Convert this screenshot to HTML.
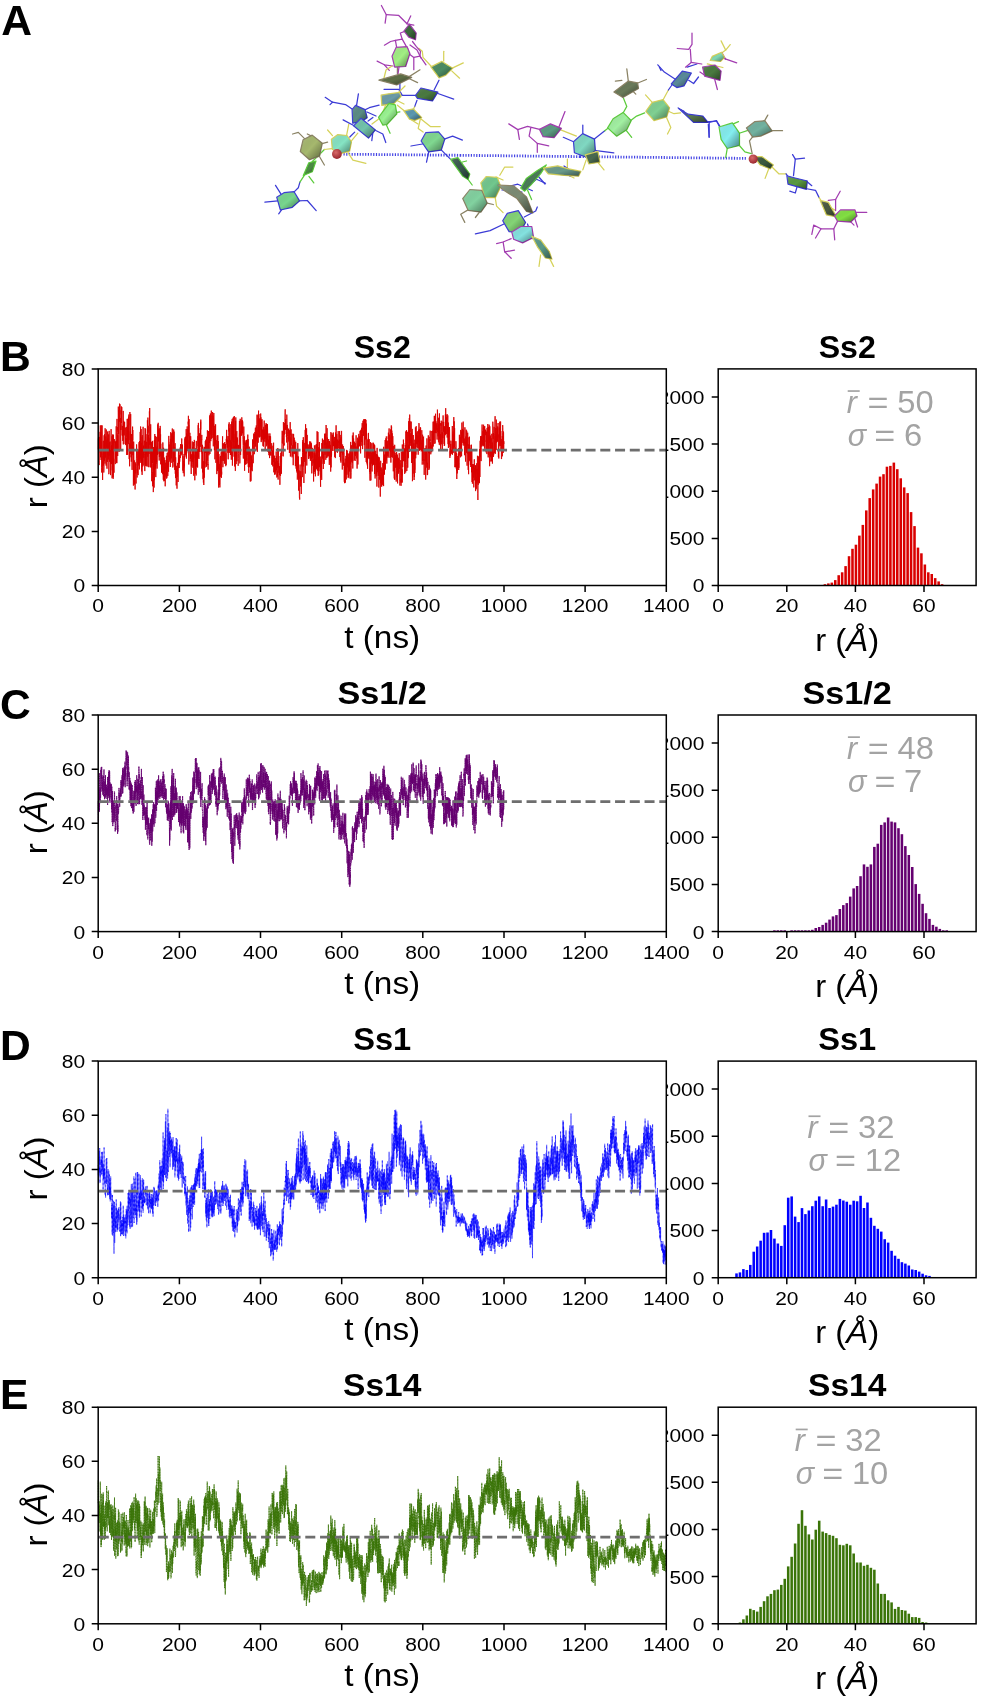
<!DOCTYPE html>
<html><head><meta charset="utf-8"><title>Figure</title>
<style>html,body{margin:0;padding:0;background:#fff;}svg{display:block;will-change:transform;}</style></head>
<body><svg width="982" height="1697" viewBox="0 0 982 1697">
<rect width="982" height="1697" fill="#fff"/>
<defs><linearGradient id="shd" x1="0" y1="0" x2="1" y2="1"><stop offset="0" stop-color="#fff" stop-opacity="0.18"/><stop offset="0.5" stop-color="#000" stop-opacity="0"/><stop offset="1" stop-color="#000" stop-opacity="0.45"/></linearGradient><radialGradient id="rb" cx="0.4" cy="0.35" r="0.65"><stop offset="0" stop-color="#d86a6a"/><stop offset="1" stop-color="#9a2830"/></radialGradient></defs>
<g id="mol">
<path d="M343.5 154.2L460.0 155.3" stroke="#4444e4" stroke-width="2.8" stroke-dasharray="1.2 1.5" fill="none"/>
<path d="M460.0 155.3L580.0 156.6" stroke="#4444e4" stroke-width="2.8" stroke-dasharray="1.2 1.5" fill="none"/>
<path d="M580.0 156.6L747.0 158.4" stroke="#4444e4" stroke-width="2.8" stroke-dasharray="1.2 1.5" fill="none"/>
<g stroke-width="1.25" stroke-linecap="round" stroke-linejoin="round" fill="none">
<polyline points="264.9,202.1 277.9,200.8" stroke="#3b3bd6"/>
<polyline points="275.5,185.3 281.2,194.3" stroke="#3b3bd6"/>
<polyline points="278.7,213.8 282.8,208.1" stroke="#3b3bd6"/>
<polyline points="298.3,200.8 307.3,200.5 316.2,210.6" stroke="#3b3bd6"/>
<polyline points="293.4,192.6 298.3,187.8 299.9,182.1" stroke="#3b3bd6"/>
<polyline points="299.9,182.1 304.8,174.7" stroke="#5ccc3c"/>
<polyline points="308.9,176.4 313.8,182.9" stroke="#5ccc3c"/>
<polyline points="312.1,161.7 318.7,155.2 324.4,149.5" stroke="#5ccc3c"/>
<polyline points="292.6,134.0 298.3,132.4 304.8,138.9" stroke="#8a8264"/>
<polyline points="307.3,134.0 312.1,136.4" stroke="#8a8264"/>
<polyline points="321.1,143.8 327.6,142.1" stroke="#8a8264"/>
<polyline points="318.7,155.2 324.4,165.0" stroke="#8a8264"/>
<polyline points="327.6,130.0 332.5,135.6" stroke="#d6d25a"/>
<polyline points="346.4,136.4 348.8,124.2" stroke="#d6d25a"/>
<polyline points="350.4,142.1 357.8,133.2" stroke="#d6d25a"/>
<polyline points="348.0,152.7 352.9,160.1 365.9,163.3" stroke="#d6d25a"/>
<polyline points="331.7,148.7 324.4,149.5" stroke="#d6d25a"/>
<polyline points="325.2,97.3 332.5,102.2 345.5,104.6 352.8,109.5" stroke="#3b3bd6"/>
<polyline points="330.0,104.6 332.5,102.2" stroke="#3b3bd6"/>
<polyline points="358.4,93.9 356.5,105.8" stroke="#3b3bd6"/>
<polyline points="364.4,110.1 369.3,107.7 379.1,105.2" stroke="#3b3bd6"/>
<polyline points="343.1,119.9 354.7,126.0" stroke="#3b3bd6"/>
<polyline points="357.1,111.3 361.4,118.7" stroke="#3b3bd6"/>
<polyline points="374.2,129.7 382.8,134.0 385.8,142.5" stroke="#3b3bd6"/>
<polyline points="372.9,132.1 371.8,140.7" stroke="#3b3bd6"/>
<polyline points="368.1,121.1 372.9,117.4" stroke="#3b3bd6"/>
<polyline points="354.7,132.1 349.8,137.0" stroke="#3b3bd6"/>
<polyline points="385.2,122.3 390.1,133.3" stroke="#5ccc3c"/>
<polyline points="395.0,112.6 399.9,111.9" stroke="#5ccc3c"/>
<polyline points="401.1,95.4 392.6,103.4" stroke="#5ccc3c"/>
<polyline points="408.4,77.1 420.0,69.8" stroke="#8a8264"/>
<polyline points="408.4,78.3 417.6,82.6" stroke="#8a8264"/>
<polyline points="397.4,73.5 397.4,62.4" stroke="#8a8264"/>
<polyline points="436.5,93.0 453.7,99.1" stroke="#3b3bd6"/>
<polyline points="434.1,90.0 439.0,80.2" stroke="#3b3bd6"/>
<polyline points="417.0,95.4 402.3,95.4 398.7,89.3 384.0,89.3" stroke="#3b3bd6"/>
<polyline points="417.0,100.3 414.5,107.1" stroke="#3b3bd6"/>
<polyline points="399.9,90.6 399.9,79.0" stroke="#3b3bd6"/>
<polyline points="414.5,107.1 413.3,109.5" stroke="#d6d25a"/>
<polyline points="420.7,117.4 418.2,128.4 423.1,132.1" stroke="#d6d25a"/>
<polyline points="420.7,118.7 430.4,126.6 440.2,126.6" stroke="#d6d25a"/>
<polyline points="397.4,105.2 404.8,111.3" stroke="#d6d25a"/>
<polyline points="443.7,51.3 443.7,61.1" stroke="#d6d25a"/>
<polyline points="451.7,68.4 463.3,62.9" stroke="#d6d25a"/>
<polyline points="451.7,70.9 459.6,78.2" stroke="#d6d25a"/>
<polyline points="418.7,48.3 422.3,51.3 423.0,57.4 432.1,67.2" stroke="#d6d25a"/>
<polyline points="381.4,5.5 386.3,14.7 385.1,23.2" stroke="#a23cb0"/>
<polyline points="386.3,14.7 398.5,15.3 407.0,23.8 410.7,15.9" stroke="#a23cb0"/>
<polyline points="407.0,23.8 413.8,25.1" stroke="#a23cb0"/>
<polyline points="384.4,45.2 390.6,41.5 395.4,40.3 402.2,39.1 407.7,48.9" stroke="#a23cb0"/>
<polyline points="395.4,40.3 396.7,47.7" stroke="#a23cb0"/>
<polyline points="402.2,39.1 400.3,33.0 407.0,30.6" stroke="#a23cb0"/>
<polyline points="408.9,53.8 413.8,57.4 419.9,56.2 420.5,51.3 416.2,46.4 412.5,41.5" stroke="#a23cb0"/>
<polyline points="419.9,56.2 426.0,64.8" stroke="#a23cb0"/>
<polyline points="413.8,57.4 413.8,69.7" stroke="#a23cb0"/>
<polyline points="377.1,61.1 384.4,64.8 393.0,66.0" stroke="#a23cb0"/>
<polyline points="384.4,64.8 389.3,70.3" stroke="#a23cb0"/>
<polyline points="397.3,53.2 405.8,50.1" stroke="#a23cb0"/>
<polyline points="392.0,96.0 398.0,101.0 404.0,104.0" stroke="#d6d25a"/>
<polyline points="386.0,104.0 383.0,112.0" stroke="#d6d25a"/>
<polyline points="399.0,92.0 405.0,86.0" stroke="#d6d25a"/>
<polyline points="410.0,119.0 418.0,124.0" stroke="#d6d25a"/>
<polyline points="410.0,45.0 417.0,50.0 421.0,58.0" stroke="#a23cb0"/>
<polyline points="399.0,67.0 398.0,74.0" stroke="#a23cb0"/>
<polyline points="384.0,78.0 386.0,70.0 392.0,66.0" stroke="#d6d25a"/>
<polyline points="367.0,112.0 376.0,116.0" stroke="#3b3bd6"/>
<polyline points="372.0,124.0 380.0,118.0" stroke="#d6d25a"/>
<polyline points="443.6,139.3 452.6,136.1 462.4,140.1" stroke="#3b3bd6"/>
<polyline points="429.0,150.7 426.5,162.1" stroke="#3b3bd6"/>
<polyline points="411.0,146.0 422.4,144.0" stroke="#3b3bd6"/>
<polyline points="440.4,149.1 450.2,158.9" stroke="#3b3bd6"/>
<polyline points="462.4,162.0 466.5,161.0" stroke="#5ccc3c"/>
<polyline points="467.3,178.4 472.2,185.0" stroke="#5ccc3c"/>
<polyline points="499.8,175.2 504.7,167.0 512.9,167.0" stroke="#d6d25a"/>
<polyline points="495.0,196.4 496.6,206.1 503.1,212.6" stroke="#d6d25a"/>
<polyline points="468.9,209.4 460.7,214.3 464.8,222.4" stroke="#8a8264"/>
<polyline points="480.3,211.0 475.4,217.5" stroke="#8a8264"/>
<polyline points="486.0,202.9 493.3,204.5" stroke="#8a8264"/>
<polyline points="501.4,188.2 517.8,184.2 532.4,190.7" stroke="#3b3bd6"/>
<polyline points="527.5,186.6 536.5,179.3 545.5,183.3" stroke="#3b3bd6"/>
<polyline points="527.5,190.0 531.6,199.6" stroke="#5ccc3c"/>
<polyline points="567.4,159.0 567.4,172.0" stroke="#d6d25a"/>
<polyline points="566.0,174.0 574.0,178.0" stroke="#d6d25a"/>
<polyline points="503.9,224.0 490.1,230.6 475.4,233.8" stroke="#3b3bd6"/>
<polyline points="524.3,217.0 535.7,211.0 537.3,207.0" stroke="#3b3bd6"/>
<polyline points="527.5,224.0 532.4,238.7" stroke="#3b3bd6"/>
<polyline points="511.2,238.7 503.1,242.0 496.6,243.6" stroke="#a23cb0"/>
<polyline points="503.1,242.0 504.7,251.8 511.2,258.3" stroke="#a23cb0"/>
<polyline points="504.7,251.8 514.5,250.2" stroke="#a23cb0"/>
<polyline points="547.1,253.4 553.6,266.4" stroke="#d6d25a"/>
<polyline points="540.6,255.0 539.0,266.4" stroke="#d6d25a"/>
<polyline points="530.0,234.0 536.0,240.0" stroke="#d6d25a"/>
<polyline points="508.8,123.9 517.8,129.6 527.5,126.3 540.6,129.6" stroke="#a23cb0"/>
<polyline points="517.8,129.6 519.4,139.3" stroke="#a23cb0"/>
<polyline points="530.8,127.9 529.1,136.1 537.3,143.4 548.7,145.8" stroke="#a23cb0"/>
<polyline points="537.3,143.4 537.3,152.3" stroke="#a23cb0"/>
<polyline points="558.5,127.9 565.0,111.6" stroke="#a23cb0"/>
<polyline points="560.1,129.6 576.4,136.1" stroke="#d6d25a"/>
<polyline points="502.0,190.0 512.0,190.5 522.0,192.0" stroke="#3b3bd6"/>
<polyline points="524.0,189.0 531.0,182.0 537.0,176.0" stroke="#3b3bd6"/>
<polyline points="538.0,176.0 545.0,184.0" stroke="#3b3bd6"/>
<polyline points="550.0,170.0 556.0,172.0 566.0,171.0" stroke="#d6d25a"/>
<polyline points="564.0,166.0 570.0,170.0 578.0,174.0" stroke="#3b3bd6"/>
<polyline points="496.0,177.0 503.0,180.0" stroke="#d6d25a"/>
<polyline points="486.0,186.0 493.0,184.0" stroke="#8a8264"/>
<polyline points="582.8,134.9 582.8,125.1" stroke="#3b3bd6"/>
<polyline points="574.7,142.2 563.3,137.3" stroke="#3b3bd6"/>
<polyline points="593.4,139.8 604.8,130.8" stroke="#3b3bd6"/>
<polyline points="594.2,150.3 613.8,152.8" stroke="#3b3bd6"/>
<polyline points="597.5,161.8 604.0,169.9" stroke="#d6d25a"/>
<polyline points="586.1,160.1 582.8,169.9" stroke="#d6d25a"/>
<polyline points="560.0,172.0 570.0,176.0 580.0,172.0" stroke="#3b3bd6"/>
<polyline points="604.8,130.8 608.9,127.5" stroke="#5ccc3c"/>
<polyline points="630.1,121.0 636.6,116.1 644.7,112.9" stroke="#5ccc3c"/>
<polyline points="622.7,113.7 626.8,106.4 623.5,98.2" stroke="#5ccc3c"/>
<polyline points="625.2,129.2 631.7,137.3" stroke="#5ccc3c"/>
<polyline points="615.4,81.1 621.9,80.3" stroke="#8a8264"/>
<polyline points="628.4,81.9 626.8,68.9" stroke="#8a8264"/>
<polyline points="636.6,83.5 646.4,79.5" stroke="#8a8264"/>
<polyline points="631.7,90.0 635.8,94.1" stroke="#8a8264"/>
<polyline points="652.9,103.1 645.5,94.9" stroke="#d6d25a"/>
<polyline points="662.6,100.7 668.4,90.0" stroke="#d6d25a"/>
<polyline points="668.4,111.2 674.0,113.7 680.6,112.9" stroke="#d6d25a"/>
<polyline points="665.9,116.1 670.8,127.5 667.5,134.0" stroke="#d6d25a"/>
<polyline points="668.4,90.0 674.0,82.0" stroke="#3b3bd6"/>
<polyline points="675.7,79.5 664.3,72.1 657.8,64.8" stroke="#3b3bd6"/>
<polyline points="661.0,70.5 659.4,67.2" stroke="#3b3bd6"/>
<polyline points="688.7,80.3 693.6,83.5 698.5,77.0" stroke="#3b3bd6"/>
<polyline points="687.1,67.2 696.9,64.0" stroke="#3b3bd6"/>
<polyline points="692.0,33.0 692.0,44.4 688.7,49.3 677.3,48.5" stroke="#a23cb0"/>
<polyline points="690.3,49.3 691.2,62.4 701.8,64.0" stroke="#a23cb0"/>
<polyline points="691.2,62.4 685.5,67.2" stroke="#a23cb0"/>
<polyline points="721.1,40.9 725.7,50.1 730.2,44.6" stroke="#d6d25a"/>
<polyline points="725.7,50.1 722.0,52.8" stroke="#d6d25a"/>
<polyline points="707.3,63.8 722.9,67.5" stroke="#d6d25a"/>
<polyline points="723.8,58.3 736.7,62.9" stroke="#a23cb0"/>
<polyline points="722.0,52.8 725.7,59.2" stroke="#a23cb0"/>
<polyline points="714.7,79.4 717.4,89.5" stroke="#a23cb0"/>
<polyline points="700.0,72.0 705.5,75.7" stroke="#a23cb0"/>
<polyline points="706.6,121.8 716.4,121.0 719.7,125.9" stroke="#3b3bd6"/>
<polyline points="708.3,124.3 709.1,137.3" stroke="#3b3bd6"/>
<polyline points="679.0,108.8 684.0,111.2" stroke="#3b3bd6"/>
<polyline points="732.1,124.3 738.5,121.6" stroke="#5ccc3c"/>
<polyline points="738.5,133.5 749.5,129.8" stroke="#5ccc3c"/>
<polyline points="727.5,147.2 725.7,157.3" stroke="#5ccc3c"/>
<polyline points="738.5,144.5 744.9,151.8 751.3,153.6" stroke="#5ccc3c"/>
<polyline points="720.2,128.0 716.5,120.6 709.2,122.5 700.0,118.8" stroke="#3b3bd6"/>
<polyline points="709.2,122.5 709.2,137.1" stroke="#3b3bd6"/>
<polyline points="764.1,121.6 767.8,115.1" stroke="#8a8264"/>
<polyline points="770.6,130.7 782.5,130.7" stroke="#8a8264"/>
<polyline points="753.2,136.2 749.5,140.8 752.2,153.6" stroke="#8a8264"/>
<polyline points="755.0,157.3 771.5,166.5 778.8,173.8 786.1,173.8" stroke="#d6d25a"/>
<polyline points="769.6,166.5 765.1,178.4" stroke="#d6d25a"/>
<polyline points="786.1,173.8 788.0,176.5" stroke="#3b3bd6"/>
<polyline points="793.5,175.6 795.3,159.1 792.6,154.6" stroke="#3b3bd6"/>
<polyline points="795.3,159.1 804.5,158.2" stroke="#3b3bd6"/>
<polyline points="806.3,181.1 811.8,185.7" stroke="#3b3bd6"/>
<polyline points="805.4,188.5 815.5,190.3 819.1,197.6" stroke="#3b3bd6"/>
<polyline points="797.1,186.6 795.3,193.0 789.8,191.2" stroke="#3b3bd6"/>
<polyline points="819.1,197.6 822.8,203.1 835.6,210.5" stroke="#d6d25a"/>
<polyline points="835.6,210.5 835.6,199.5 840.2,191.2" stroke="#a23cb0"/>
<polyline points="828.3,200.4 835.6,199.5" stroke="#a23cb0"/>
<polyline points="855.8,212.3 866.8,212.3" stroke="#a23cb0"/>
<polyline points="854.0,216.0 857.6,227.0" stroke="#a23cb0"/>
<polyline points="850.3,221.4 854.0,225.1" stroke="#a23cb0"/>
<polyline points="837.5,221.4 833.8,228.8 834.7,239.8" stroke="#a23cb0"/>
<polyline points="833.8,228.8 821.0,228.8 813.7,225.1 811.8,234.3" stroke="#a23cb0"/>
<polyline points="821.0,228.8 815.5,238.0" stroke="#a23cb0"/>
</g>
<g stroke-width="1.2" stroke-linejoin="round">
<polygon points="276.7,197.2 284.0,192.7 294.1,191.7 299.6,200.9 292.3,207.3 280.4,210.0" fill="#78d68e" stroke="#3b3bd6"/><polygon points="276.7,197.2 284.0,192.7 294.1,191.7 299.6,200.9 292.3,207.3 280.4,210.0" fill="url(#shd)"/>
<polygon points="303.3,175.5 308.8,162.8 316.0,161.0 312.3,171.8" fill="#4c8c44" stroke="#5ccc3c"/><polygon points="303.3,175.5 308.8,162.8 316.0,161.0 312.3,171.8" fill="url(#shd)"/>
<polygon points="300.3,151.5 303.1,139.7 312.2,135.1 322.3,143.3 319.6,156.1 309.5,159.7" fill="#a6b86e" stroke="#8a8264"/><polygon points="300.3,151.5 303.1,139.7 312.2,135.1 322.3,143.3 319.6,156.1 309.5,159.7" fill="url(#shd)"/>
<polygon points="331.4,139.2 337.8,134.6 347.0,135.5 351.5,141.9 349.7,151.1 339.6,153.8 332.3,149.3" fill="#86e4c4" stroke="#d6d25a"/><polygon points="331.4,139.2 337.8,134.6 347.0,135.5 351.5,141.9 349.7,151.1 339.6,153.8 332.3,149.3" fill="url(#shd)"/>
<polygon points="352.1,109.6 355.5,105.4 365.1,109.6 367.2,117.7 361.0,121.9 352.7,123.2" fill="#5b8c84" stroke="#3b3bd6"/><polygon points="352.1,109.6 355.5,105.4 365.1,109.6 367.2,117.7 361.0,121.9 352.7,123.2" fill="url(#shd)"/>
<polygon points="353.5,125.8 361.0,118.3 375.4,129.9 368.5,138.1" fill="#72c4ac" stroke="#3b3bd6"/><polygon points="353.5,125.8 361.0,118.3 375.4,129.9 368.5,138.1" fill="url(#shd)"/>
<polygon points="381.1,95.1 388.6,93.8 399.6,92.4 401.0,96.6 394.1,103.4 381.8,105.4" fill="#6c9ca8" stroke="#d6d25a"/><polygon points="381.1,95.1 388.6,93.8 399.6,92.4 401.0,96.6 394.1,103.4 381.8,105.4" fill="url(#shd)"/>
<polygon points="378.5,117.3 389.0,103.3 395.3,104.9 396.9,113.9 386.9,124.5 382.9,125.1" fill="#9af292" stroke="#5ccc3c"/><polygon points="378.5,117.3 389.0,103.3 395.3,104.9 396.9,113.9 386.9,124.5 382.9,125.1" fill="url(#shd)"/>
<polygon points="378.9,80.1 400.7,73.9 411.7,77.4 396.7,84.9" fill="#5e6e46" stroke="#8a8264"/><polygon points="378.9,80.1 400.7,73.9 411.7,77.4 396.7,84.9" fill="url(#shd)"/>
<polygon points="415.4,95.5 420.9,88.0 437.9,92.1 432.5,100.9 417.4,98.3" fill="#4a7a40" stroke="#3b3bd6"/><polygon points="415.4,95.5 420.9,88.0 437.9,92.1 432.5,100.9 417.4,98.3" fill="url(#shd)"/>
<polygon points="403.9,110.8 413.4,108.8 421.7,117.6 414.7,120.4 409.4,119.1" fill="#5a98b0" stroke="#d6d25a"/><polygon points="403.9,110.8 413.4,108.8 421.7,117.6 414.7,120.4 409.4,119.1" fill="url(#shd)"/>
<polygon points="430.9,66.9 441.9,61.4 452.8,68.2 445.9,75.1 439.1,77.9" fill="#4c8c62" stroke="#d6d25a"/><polygon points="430.9,66.9 441.9,61.4 452.8,68.2 445.9,75.1 439.1,77.9" fill="url(#shd)"/>
<polygon points="403.9,31.0 409.4,24.1 416.2,33.0 415.5,39.8 408.7,37.1" fill="#3c6a3c" stroke="#a23cb0"/><polygon points="403.9,31.0 409.4,24.1 416.2,33.0 415.5,39.8 408.7,37.1" fill="url(#shd)"/>
<polygon points="392.0,56.2 396.2,47.3 407.1,46.7 409.9,53.5 405.7,66.5 394.7,67.2" fill="#a2f084" stroke="#a23cb0"/><polygon points="392.0,56.2 396.2,47.3 407.1,46.7 409.9,53.5 405.7,66.5 394.7,67.2" fill="url(#shd)"/>
<polygon points="421.1,141.0 425.7,132.7 438.5,131.8 444.8,139.1 441.3,150.1 428.5,151.9" fill="#80d890" stroke="#3b3bd6"/><polygon points="421.1,141.0 425.7,132.7 438.5,131.8 444.8,139.1 441.3,150.1 428.5,151.9" fill="url(#shd)"/>
<polygon points="450.6,159.4 457.9,157.7 469.8,174.0 468.0,179.5 462.5,175.9" fill="#3a5a50" stroke="#5ccc3c"/><polygon points="450.6,159.4 457.9,157.7 469.8,174.0 468.0,179.5 462.5,175.9" fill="url(#shd)"/>
<polygon points="480.8,182.9 486.3,176.5 497.3,177.4 500.9,186.6 495.5,197.6 484.5,197.6" fill="#72c88e" stroke="#d6d25a"/><polygon points="480.8,182.9 486.3,176.5 497.3,177.4 500.9,186.6 495.5,197.6 484.5,197.6" fill="url(#shd)"/>
<polygon points="462.7,198.6 469.9,189.5 481.8,190.4 487.3,203.2 480.9,212.2 468.2,210.4" fill="#82d2a0" stroke="#8a8264"/><polygon points="462.7,198.6 469.9,189.5 481.8,190.4 487.3,203.2 480.9,212.2 468.2,210.4" fill="url(#shd)"/>
<polygon points="497.9,185.1 513.8,185.9 526.5,197.0 532.9,213.0 526.5,211.4 517.0,198.6 504.2,190.6" fill="#7c8c74" stroke="#8a8264"/><polygon points="497.9,185.1 513.8,185.9 526.5,197.0 532.9,213.0 526.5,211.4 517.0,198.6 504.2,190.6" fill="url(#shd)"/>
<polygon points="520.7,188.1 526.3,178.5 537.4,170.5 546.3,164.9 540.7,173.6 531.0,184.8 524.7,191.2" fill="#4a7a58" stroke="#5ccc3c"/><polygon points="520.7,188.1 526.3,178.5 537.4,170.5 546.3,164.9 540.7,173.6 531.0,184.8 524.7,191.2" fill="url(#shd)"/>
<polygon points="543.4,168.2 557.7,165.8 568.9,168.9 580.9,171.4 578.6,176.2 564.1,175.4 548.2,173.8" fill="#6a9a8a" stroke="#d6d25a"/><polygon points="543.4,168.2 557.7,165.8 568.9,168.9 580.9,171.4 578.6,176.2 564.1,175.4 548.2,173.8" fill="url(#shd)"/>
<polygon points="502.7,220.7 507.3,213.4 518.3,210.6 525.6,222.5 520.1,232.5 509.1,231.6" fill="#84d476" stroke="#3b3bd6"/><polygon points="502.7,220.7 507.3,213.4 518.3,210.6 525.6,222.5 520.1,232.5 509.1,231.6" fill="url(#shd)"/>
<polygon points="511.8,232.0 520.8,226.5 531.8,226.5 533.6,237.5 522.6,242.9 513.6,239.3" fill="#84e2e0" stroke="#a23cb0"/><polygon points="511.8,232.0 520.8,226.5 531.8,226.5 533.6,237.5 522.6,242.9 513.6,239.3" fill="url(#shd)"/>
<polygon points="531.8,236.2 540.8,240.1 549.2,251.3 552.0,259.1 545.3,258.0 537.4,246.8" fill="#5a9a88" stroke="#d6d25a"/><polygon points="531.8,236.2 540.8,240.1 549.2,251.3 552.0,259.1 545.3,258.0 537.4,246.8" fill="url(#shd)"/>
<polygon points="539.5,129.4 550.4,123.9 561.4,128.4 554.1,137.6 543.1,136.7" fill="#5c9c82" stroke="#a23cb0"/><polygon points="539.5,129.4 550.4,123.9 561.4,128.4 554.1,137.6 543.1,136.7" fill="url(#shd)"/>
<polygon points="573.5,141.8 582.6,133.6 594.5,139.1 595.4,150.8 586.3,157.2 574.4,152.7" fill="#80d8c2" stroke="#3b3bd6"/><polygon points="573.5,141.8 582.6,133.6 594.5,139.1 595.4,150.8 586.3,157.2 574.4,152.7" fill="url(#shd)"/>
<polygon points="585.3,154.9 598.0,151.3 599.8,162.2 588.9,164.0" fill="#4a6a50" stroke="#d6d25a"/><polygon points="585.3,154.9 598.0,151.3 599.8,162.2 588.9,164.0" fill="url(#shd)"/>
<polygon points="607.6,127.9 613.1,118.8 623.1,112.4 631.3,120.6 626.8,129.8 616.7,136.2" fill="#a2f0a2" stroke="#5ccc3c"/><polygon points="607.6,127.9 613.1,118.8 623.1,112.4 631.3,120.6 626.8,129.8 616.7,136.2" fill="url(#shd)"/>
<polygon points="613.9,92.1 628.4,81.1 637.6,82.9 638.5,88.4 622.9,97.6" fill="#6a7a5a" stroke="#8a8264"/><polygon points="613.9,92.1 628.4,81.1 637.6,82.9 638.5,88.4 622.9,97.6" fill="url(#shd)"/>
<polygon points="645.8,111.4 652.2,102.3 663.1,99.6 669.6,107.8 666.8,116.9 654.0,120.6" fill="#80d092" stroke="#d6d25a"/><polygon points="645.8,111.4 652.2,102.3 663.1,99.6 669.6,107.8 666.8,116.9 654.0,120.6" fill="url(#shd)"/>
<polygon points="671.3,83.9 682.3,71.1 691.4,73.0 684.1,85.8 676.8,87.6" fill="#5a8a9a" stroke="#3b3bd6"/><polygon points="671.3,83.9 682.3,71.1 691.4,73.0 684.1,85.8 676.8,87.6" fill="url(#shd)"/>
<polygon points="702.6,67.0 714.9,65.0 721.1,71.1 720.0,80.3 704.6,76.2" fill="#4a7a40" stroke="#a23cb0"/><polygon points="702.6,67.0 714.9,65.0 721.1,71.1 720.0,80.3 704.6,76.2" fill="url(#shd)"/>
<polygon points="712.2,56.4 721.5,52.2 724.5,57.4 720.5,61.5 710.2,60.5" fill="#82d8b2" stroke="#d6d25a"/><polygon points="712.2,56.4 721.5,52.2 724.5,57.4 720.5,61.5 710.2,60.5" fill="url(#shd)"/>
<polygon points="678.1,107.9 688.1,114.2 702.7,116.0 708.1,122.4 693.5,122.4" fill="#5a7a50" stroke="#3b3bd6"/><polygon points="678.1,107.9 688.1,114.2 702.7,116.0 708.1,122.4 693.5,122.4" fill="url(#shd)"/>
<polygon points="719.0,127.0 732.4,122.9 739.5,133.2 739.5,145.5 727.2,148.5 721.1,139.3" fill="#84eef0" stroke="#5ccc3c"/><polygon points="719.0,127.0 732.4,122.9 739.5,133.2 739.5,145.5 727.2,148.5 721.1,139.3" fill="url(#shd)"/>
<polygon points="746.4,127.9 754.6,121.7 764.8,120.7 772.1,130.9 760.7,136.1 752.6,137.1" fill="#72b2a0" stroke="#8a8264"/><polygon points="746.4,127.9 754.6,121.7 764.8,120.7 772.1,130.9 760.7,136.1 752.6,137.1" fill="url(#shd)"/>
<polygon points="753.9,156.7 762.1,156.7 773.4,164.9 770.3,169.0 760.1,164.9" fill="#3a5a40" stroke="#d6d25a"/><polygon points="753.9,156.7 762.1,156.7 773.4,164.9 770.3,169.0 760.1,164.9" fill="url(#shd)"/>
<polygon points="786.9,175.9 795.1,178.0 807.4,181.0 806.4,189.3 788.0,184.2" fill="#5a9a40" stroke="#3b3bd6"/><polygon points="786.9,175.9 795.1,178.0 807.4,181.0 806.4,189.3 788.0,184.2" fill="url(#shd)"/>
<polygon points="820.2,200.4 828.4,202.4 836.5,216.9 826.3,214.8" fill="#4a5a40" stroke="#d6d25a"/><polygon points="820.2,200.4 828.4,202.4 836.5,216.9 826.3,214.8" fill="url(#shd)"/>
<polygon points="834.4,216.0 840.5,209.9 855.0,209.9 857.0,216.0 850.8,222.1 837.5,221.1" fill="#82e042" stroke="#a23cb0"/><polygon points="834.4,216.0 840.5,209.9 855.0,209.9 857.0,216.0 850.8,222.1 837.5,221.1" fill="url(#shd)"/>
</g>
<circle cx="336.9" cy="154.0" r="4.9" fill="url(#rb)"/>
<circle cx="753.2" cy="159.1" r="4.6" fill="url(#rb)"/>
</g>
<text x="1.2" y="34.8" font-family='"Liberation Sans", sans-serif' font-weight="bold" font-size="42.6">A</text>
<g fill="#d90000"><rect x="823.65" y="584.20" width="2.55" height="1.30"/><rect x="827.09" y="583.40" width="2.55" height="2.10"/><rect x="830.54" y="582.60" width="2.55" height="2.90"/><rect x="833.98" y="580.10" width="2.55" height="5.40"/><rect x="837.43" y="575.20" width="2.55" height="10.30"/><rect x="840.88" y="572.30" width="2.55" height="13.20"/><rect x="844.32" y="566.10" width="2.55" height="19.40"/><rect x="847.77" y="556.20" width="2.55" height="29.30"/><rect x="851.21" y="548.80" width="2.55" height="36.70"/><rect x="854.66" y="544.70" width="2.55" height="40.80"/><rect x="858.11" y="535.60" width="2.55" height="49.90"/><rect x="861.55" y="524.90" width="2.55" height="60.60"/><rect x="865.00" y="510.40" width="2.55" height="75.10"/><rect x="868.44" y="498.10" width="2.55" height="87.40"/><rect x="871.89" y="489.40" width="2.55" height="96.10"/><rect x="875.34" y="483.60" width="2.55" height="101.90"/><rect x="878.78" y="476.60" width="2.55" height="108.90"/><rect x="882.23" y="474.20" width="2.55" height="111.30"/><rect x="885.67" y="466.70" width="2.55" height="118.80"/><rect x="889.12" y="465.90" width="2.55" height="119.60"/><rect x="892.57" y="462.60" width="2.55" height="122.90"/><rect x="896.01" y="469.20" width="2.55" height="116.30"/><rect x="899.46" y="478.30" width="2.55" height="107.20"/><rect x="902.90" y="487.40" width="2.55" height="98.10"/><rect x="906.35" y="493.10" width="2.55" height="92.40"/><rect x="909.80" y="512.10" width="2.55" height="73.40"/><rect x="913.24" y="526.10" width="2.55" height="59.40"/><rect x="916.69" y="547.60" width="2.55" height="37.90"/><rect x="920.13" y="553.30" width="2.55" height="32.20"/><rect x="923.58" y="564.50" width="2.55" height="21.00"/><rect x="927.03" y="572.30" width="2.55" height="13.20"/><rect x="930.47" y="574.00" width="2.55" height="11.50"/><rect x="933.92" y="578.10" width="2.55" height="7.40"/><rect x="937.36" y="581.40" width="2.55" height="4.10"/><rect x="940.81" y="584.20" width="2.55" height="1.30"/></g>
<rect x="718.2" y="368.9" width="257.9" height="216.6" fill="none" stroke="#000" stroke-width="1.5"/>
<path d="M718.2 585.5v6.5M786.8 585.5v6.5M855.4 585.5v6.5M924 585.5v6.5M718.2 585.5h-6.5M718.2 538.4h-6.5M718.2 491.2h-6.5M718.2 444.1h-6.5M718.2 396.9h-6.5" stroke="#000" stroke-width="1.5" fill="none"/>
<g font-family='"Liberation Sans", sans-serif' font-size="19.1" fill="#000">
<text x="718.2" y="612.4" text-anchor="middle" textLength="11.7" lengthAdjust="spacingAndGlyphs">0</text>
<text x="786.8" y="612.4" text-anchor="middle" textLength="23.3" lengthAdjust="spacingAndGlyphs">20</text>
<text x="855.4" y="612.4" text-anchor="middle" textLength="23.3" lengthAdjust="spacingAndGlyphs">40</text>
<text x="924" y="612.4" text-anchor="middle" textLength="23.3" lengthAdjust="spacingAndGlyphs">60</text>
<text x="704.4" y="592.4" text-anchor="end" textLength="11.7" lengthAdjust="spacingAndGlyphs">0</text>
<text x="704.4" y="545.2" text-anchor="end" textLength="35" lengthAdjust="spacingAndGlyphs">500</text>
<text x="704.4" y="498.1" text-anchor="end" textLength="46.6" lengthAdjust="spacingAndGlyphs">1000</text>
<text x="704.4" y="450.9" text-anchor="end" textLength="46.6" lengthAdjust="spacingAndGlyphs">1500</text>
<text x="704.4" y="403.8" text-anchor="end" textLength="46.6" lengthAdjust="spacingAndGlyphs">2000</text>
</g>
<g font-family='"Liberation Sans", sans-serif' font-size="30.5" fill="#a3a3a3">
<text x="846.7" y="413" font-style="italic">r</text>
<rect x="847.7" y="390.2" width="12" height="1.7"/>
<text x="867.5" y="413" textLength="21" lengthAdjust="spacingAndGlyphs">=</text>
<text x="897.3" y="413" textLength="36.4" lengthAdjust="spacingAndGlyphs">50</text>
<text x="847.7" y="446" font-style="italic">σ</text>
<text x="874.2" y="446" textLength="21" lengthAdjust="spacingAndGlyphs">=</text>
<text x="903.9" y="446" textLength="18.2" lengthAdjust="spacingAndGlyphs">6</text>
</g>
<text x="847.2" y="357.5" text-anchor="middle" font-family='"Liberation Sans", sans-serif' font-weight="bold" font-size="31.3" textLength="57.1" lengthAdjust="spacingAndGlyphs">Ss2</text>
<text x="847.2" y="650.7" text-anchor="middle" font-family='"Liberation Sans", sans-serif' font-size="30.5" textLength="64" lengthAdjust="spacingAndGlyphs">r (<tspan font-style="italic">Å</tspan>)</text>
<rect x="98.2" y="368.9" width="568.1" height="216.6" fill="#fff"/>
<path d="M98.2 449.5 98.3 439.7 98.5 437.1 98.6 451.0 98.7 446.9 98.8 451.4 99.0 462.5 99.1 465.1 99.2 460.4 99.3 446.3 99.5 439.2 99.6 436.9 99.7 443.4 99.8 449.1 100.0 436.7 100.1 431.8 100.2 452.5 100.3 425.4 100.5 444.0 100.6 457.3 100.7 438.4 100.8 432.6 101.0 437.0 101.1 460.0 101.2 452.6 101.3 425.4 101.5 440.7 101.6 467.4 101.7 472.5 101.8 468.0 102.0 453.1 102.1 425.4 102.2 451.1 102.3 450.9 102.5 455.1 102.6 480.0 102.7 462.7 102.8 460.9 103.0 465.9 103.1 452.9 103.2 443.8 103.3 440.8 103.5 464.6 103.6 465.1 103.7 449.3 103.8 472.5 104.0 461.7 104.1 435.3 104.2 461.0 104.3 454.4 104.5 434.3 104.6 459.5 104.7 451.0 104.8 448.6 105.0 463.6 105.1 428.3 105.2 429.5 105.3 444.1 105.5 457.5 105.6 446.1 105.7 438.8 105.8 436.5 106.0 450.6 106.1 465.6 106.2 436.1 106.3 429.5 106.5 444.5 106.6 447.8 106.7 440.2 106.8 461.7 107.0 468.7 107.1 449.0 107.2 448.3 107.3 461.9 107.5 449.1 107.6 431.5 107.7 448.2 107.8 438.5 108.0 455.2 108.1 445.6 108.2 448.3 108.3 459.5 108.5 451.7 108.6 442.2 108.7 434.4 108.8 474.2 109.0 472.6 109.1 432.3 109.2 430.9 109.3 455.4 109.5 442.2 109.6 448.6 109.7 461.8 109.8 453.8 110.0 448.1 110.1 441.5 110.2 445.9 110.3 453.8 110.5 475.1 110.6 470.2 110.7 450.2 110.8 463.3 111.0 454.3 111.1 429.1 111.2 444.8 111.3 464.3 111.5 445.4 111.6 464.1 111.7 450.2 111.8 452.6 112.0 436.2 112.1 478.3 112.2 465.2 112.3 470.4 112.5 451.6 112.6 434.5 112.7 467.8 112.8 448.7 113.0 476.9 113.1 458.5 113.2 478.8 113.3 452.3 113.5 434.7 113.6 462.5 113.7 458.7 113.8 459.0 114.0 472.7 114.1 451.5 114.2 442.6 114.3 442.8 114.5 439.2 114.6 439.7 114.7 440.1 114.8 443.9 115.0 450.1 115.1 441.2 115.2 451.8 115.3 464.1 115.5 453.5 115.6 458.5 115.7 441.7 115.8 452.8 116.0 456.4 116.1 441.8 116.2 426.3 116.3 439.7 116.5 443.8 116.6 462.7 116.7 441.1 116.8 463.2 117.0 418.9 117.1 429.5 117.2 429.5 117.3 430.1 117.5 427.2 117.6 432.4 117.7 456.0 117.8 435.1 118.0 448.8 118.1 432.7 118.2 431.5 118.3 406.6 118.5 422.0 118.6 434.1 118.7 410.6 118.8 413.1 119.0 410.3 119.1 451.9 119.2 416.4 119.3 413.1 119.5 403.6 119.6 403.7 119.7 421.7 119.8 407.0 120.0 404.3 120.1 412.9 120.2 423.6 120.3 427.8 120.5 429.9 120.6 418.0 120.7 450.5 120.8 424.4 121.0 429.9 121.1 410.4 121.2 414.4 121.3 406.4 121.5 423.1 121.6 419.7 121.7 412.3 121.8 407.1 122.0 425.8 122.1 433.8 122.2 435.5 122.3 425.9 122.5 432.3 122.6 435.8 122.7 432.3 122.8 440.9 123.0 426.6 123.1 427.8 123.2 410.9 123.3 444.4 123.5 422.6 123.6 429.5 123.7 434.3 123.8 420.9 124.0 426.4 124.1 435.3 124.2 429.4 124.3 426.3 124.5 425.9 124.6 422.0 124.7 427.1 124.8 434.0 125.0 436.6 125.1 444.1 125.2 435.1 125.3 427.7 125.5 440.6 125.6 438.4 125.7 445.1 125.8 438.2 126.0 440.8 126.1 440.1 126.2 443.8 126.3 426.9 126.5 432.9 126.6 437.5 126.7 455.0 126.8 439.8 127.0 442.7 127.1 436.7 127.2 418.9 127.3 447.1 127.5 447.6 127.6 454.8 127.7 425.1 127.8 439.1 128.0 440.8 128.1 418.7 128.2 440.8 128.3 431.0 128.4 444.1 128.6 416.7 128.7 421.9 128.8 425.4 128.9 414.5 129.1 435.2 129.2 459.1 129.3 443.4 129.4 450.8 129.6 466.3 129.7 454.8 129.8 437.0 129.9 412.0 130.1 439.9 130.2 434.7 130.3 431.4 130.4 452.4 130.6 453.7 130.7 414.1 130.8 440.5 130.9 435.0 131.1 457.3 131.2 444.5 131.3 461.7 131.4 434.6 131.6 435.5 131.7 434.0 131.8 441.6 131.9 442.9 132.1 469.9 132.2 437.5 132.3 450.8 132.4 433.1 132.6 426.6 132.7 440.3 132.8 430.0 132.9 455.2 133.1 447.2 133.2 449.8 133.3 465.9 133.4 485.6 133.6 460.7 133.7 441.6 133.8 455.3 133.9 464.9 134.1 482.3 134.2 471.7 134.3 460.4 134.4 479.5 134.6 484.6 134.7 470.2 134.8 472.5 134.9 473.3 135.1 489.5 135.2 466.8 135.3 462.4 135.4 464.6 135.6 473.4 135.7 463.9 135.8 470.1 135.9 474.9 136.1 483.5 136.2 466.3 136.3 460.5 136.4 458.7 136.6 444.4 136.7 446.4 136.8 459.4 136.9 461.5 137.1 477.5 137.2 475.3 137.3 468.9 137.4 473.2 137.6 455.1 137.7 451.8 137.8 449.1 137.9 453.7 138.1 475.1 138.2 457.8 138.3 449.8 138.4 454.9 138.6 464.0 138.7 462.0 138.8 465.5 138.9 443.3 139.1 442.1 139.2 448.8 139.3 453.6 139.4 469.4 139.6 441.0 139.7 458.1 139.8 450.6 139.9 459.4 140.1 444.9 140.2 431.9 140.3 462.8 140.4 457.1 140.6 426.5 140.7 454.7 140.8 436.8 140.9 445.4 141.1 448.2 141.2 429.1 141.3 460.9 141.4 442.9 141.6 471.4 141.7 459.9 141.8 458.1 141.9 454.1 142.1 474.9 142.2 439.3 142.3 435.2 142.4 436.2 142.6 462.8 142.7 466.6 142.8 453.6 142.9 453.7 143.1 426.8 143.2 465.5 143.3 449.4 143.4 451.0 143.6 445.6 143.7 457.7 143.8 448.3 143.9 451.1 144.1 451.3 144.2 443.5 144.3 440.7 144.4 453.4 144.6 455.9 144.7 461.0 144.8 471.1 144.9 439.0 145.1 428.1 145.2 440.7 145.3 464.6 145.4 453.1 145.6 429.3 145.7 466.1 145.8 460.1 145.9 434.1 146.1 436.5 146.2 448.1 146.3 441.8 146.4 445.5 146.6 454.3 146.7 449.1 146.8 465.9 146.9 448.0 147.1 466.7 147.2 442.1 147.3 428.6 147.4 420.3 147.6 425.8 147.7 441.5 147.8 456.7 147.9 417.6 148.1 432.6 148.2 425.8 148.3 448.8 148.4 435.0 148.6 443.9 148.7 467.2 148.8 447.1 148.9 438.1 149.1 453.9 149.2 446.0 149.3 436.2 149.4 411.4 149.6 425.9 149.7 408.0 149.8 433.3 149.9 444.6 150.1 439.7 150.2 467.2 150.3 426.9 150.4 444.8 150.6 443.3 150.7 424.3 150.8 448.7 150.9 459.7 151.1 467.6 151.2 449.6 151.3 459.8 151.4 442.2 151.6 473.7 151.7 481.2 151.8 463.4 151.9 461.1 152.1 441.5 152.2 455.6 152.3 453.3 152.4 463.1 152.6 440.9 152.7 486.3 152.8 472.1 152.9 483.9 153.1 477.8 153.2 464.1 153.3 492.1 153.4 487.3 153.6 447.0 153.7 460.1 153.8 459.2 153.9 450.3 154.1 487.6 154.2 449.9 154.3 480.2 154.4 440.1 154.6 474.9 154.7 455.0 154.8 434.0 154.9 455.6 155.1 463.6 155.2 446.0 155.3 468.7 155.4 436.0 155.6 466.2 155.7 464.5 155.8 477.1 155.9 453.5 156.1 464.2 156.2 447.3 156.3 461.3 156.4 456.5 156.6 462.0 156.7 436.8 156.8 453.4 156.9 454.8 157.1 468.6 157.2 448.3 157.3 445.8 157.4 454.9 157.6 454.9 157.7 424.4 157.8 436.9 157.9 453.9 158.1 442.5 158.2 422.8 158.3 435.4 158.4 441.4 158.6 431.2 158.7 441.0 158.8 428.8 158.9 436.5 159.1 440.7 159.2 460.5 159.3 448.3 159.4 457.0 159.6 447.5 159.7 431.1 159.8 428.3 159.9 450.1 160.1 428.6 160.2 425.9 160.3 452.6 160.4 439.9 160.6 434.4 160.7 464.3 160.8 443.7 160.9 456.2 161.1 452.4 161.2 454.1 161.3 454.2 161.4 465.0 161.6 472.7 161.7 449.7 161.8 471.3 161.9 458.2 162.1 456.8 162.2 465.9 162.3 455.9 162.4 450.4 162.6 474.2 162.7 457.8 162.8 442.4 162.9 442.6 163.1 457.3 163.2 459.4 163.3 479.8 163.4 453.5 163.6 447.8 163.7 460.2 163.8 476.9 163.9 481.3 164.1 467.5 164.2 457.5 164.3 464.1 164.4 481.0 164.6 466.9 164.7 460.1 164.8 469.0 164.9 468.2 165.1 467.2 165.2 486.3 165.3 478.3 165.4 469.9 165.6 463.0 165.7 462.7 165.8 471.9 165.9 476.5 166.1 461.7 166.2 460.1 166.3 463.0 166.4 455.8 166.6 478.6 166.7 458.7 166.8 466.8 166.9 477.7 167.1 456.1 167.2 452.9 167.3 460.0 167.4 468.4 167.6 465.8 167.7 463.3 167.8 475.9 167.9 457.2 168.1 451.7 168.2 465.1 168.3 461.2 168.4 469.2 168.6 471.7 168.7 447.6 168.8 435.9 168.9 456.7 169.1 454.6 169.2 457.2 169.3 444.5 169.4 459.6 169.6 451.2 169.7 457.2 169.8 461.6 169.9 453.6 170.1 449.3 170.2 441.8 170.3 467.0 170.4 438.9 170.6 452.4 170.7 432.2 170.8 435.3 170.9 459.3 171.1 442.1 171.2 457.9 171.3 445.9 171.4 457.6 171.6 434.7 171.7 433.3 171.8 462.8 171.9 456.2 172.1 439.0 172.2 442.2 172.3 428.5 172.4 439.7 172.6 432.4 172.7 435.4 172.8 467.5 172.9 448.1 173.1 443.3 173.2 436.1 173.3 458.5 173.4 461.7 173.6 443.7 173.7 429.5 173.8 446.1 173.9 455.0 174.1 431.6 174.2 466.5 174.3 446.9 174.4 457.2 174.6 448.3 174.7 447.4 174.8 469.9 174.9 464.2 175.1 443.2 175.2 463.3 175.3 473.8 175.4 464.2 175.6 478.1 175.7 457.3 175.8 476.2 175.9 471.9 176.1 471.0 176.2 485.4 176.3 481.0 176.4 469.3 176.6 476.8 176.7 465.8 176.8 477.3 176.9 488.6 177.1 488.7 177.2 467.8 177.3 468.0 177.4 476.4 177.6 476.8 177.7 462.9 177.8 469.1 177.9 471.4 178.1 482.0 178.2 471.1 178.3 465.4 178.4 454.4 178.6 449.2 178.7 468.1 178.8 463.6 178.9 457.6 179.1 468.0 179.2 465.2 179.3 459.1 179.4 463.9 179.6 455.2 179.7 461.8 179.8 459.7 179.9 452.6 180.1 450.9 180.2 447.5 180.3 457.9 180.4 452.0 180.6 444.1 180.7 453.9 180.8 453.5 180.9 449.7 181.1 449.6 181.2 446.4 181.3 444.7 181.4 454.3 181.6 443.3 181.7 438.5 181.8 439.2 181.9 455.4 182.1 445.0 182.2 449.1 182.3 446.9 182.4 444.5 182.6 450.9 182.7 453.0 182.8 470.6 182.9 456.1 183.1 458.5 183.2 473.2 183.3 473.1 183.4 466.6 183.6 468.3 183.7 460.8 183.8 467.6 183.9 464.4 184.1 454.0 184.2 476.4 184.3 463.8 184.4 466.2 184.6 455.6 184.7 445.8 184.8 439.5 184.9 438.5 185.1 455.0 185.2 437.0 185.3 445.4 185.4 452.2 185.6 436.7 185.7 443.5 185.8 454.3 185.9 448.9 186.1 456.6 186.2 429.1 186.3 449.9 186.4 458.6 186.6 433.5 186.7 453.3 186.8 442.6 186.9 441.6 187.1 450.9 187.2 426.4 187.3 450.2 187.4 434.5 187.6 450.4 187.7 441.8 187.8 444.2 187.9 429.3 188.1 436.3 188.2 421.6 188.3 424.5 188.4 415.8 188.6 433.3 188.7 424.9 188.8 464.5 188.9 434.9 189.1 419.1 189.2 450.9 189.3 440.3 189.4 449.5 189.6 446.6 189.7 436.5 189.8 437.5 189.9 432.8 190.1 461.4 190.2 458.8 190.3 436.9 190.4 458.6 190.6 459.0 190.7 436.2 190.8 441.1 190.9 455.3 191.1 457.5 191.2 474.0 191.3 459.9 191.4 466.5 191.6 454.3 191.7 455.4 191.8 457.0 191.9 456.7 192.1 459.4 192.2 458.9 192.3 441.5 192.4 461.9 192.6 447.1 192.7 464.7 192.8 466.6 192.9 467.7 193.1 454.2 193.2 461.2 193.3 467.6 193.4 455.1 193.6 442.1 193.7 475.7 193.8 460.4 193.9 454.5 194.1 447.5 194.2 443.4 194.3 439.9 194.4 440.8 194.6 443.8 194.7 446.5 194.8 480.3 194.9 461.9 195.1 454.5 195.2 458.1 195.3 448.3 195.4 470.5 195.6 473.7 195.7 450.3 195.8 465.8 195.9 465.7 196.1 475.5 196.2 474.8 196.3 440.9 196.4 445.2 196.6 459.8 196.7 459.4 196.8 466.7 196.9 451.6 197.1 452.6 197.2 466.3 197.3 458.5 197.4 449.2 197.6 467.5 197.7 450.9 197.8 448.7 197.9 436.2 198.1 446.2 198.2 425.2 198.3 457.6 198.4 422.9 198.6 448.5 198.7 434.1 198.8 444.4 198.9 459.0 199.1 444.7 199.2 447.0 199.3 434.3 199.4 435.1 199.6 451.8 199.7 433.2 199.8 446.9 199.9 441.7 200.1 433.8 200.2 446.7 200.3 428.1 200.4 438.0 200.6 421.6 200.7 429.6 200.8 419.6 200.9 435.1 201.1 447.2 201.2 452.1 201.3 448.0 201.4 446.2 201.6 439.4 201.7 440.0 201.8 434.9 201.9 468.6 202.1 452.7 202.2 450.0 202.3 453.8 202.4 444.8 202.6 472.4 202.7 455.1 202.8 446.6 202.9 478.3 203.1 479.2 203.2 474.4 203.3 461.2 203.4 482.5 203.6 470.9 203.7 472.8 203.8 485.0 203.9 476.8 204.1 466.4 204.2 448.6 204.3 477.7 204.4 446.9 204.6 452.8 204.7 452.3 204.8 455.7 204.9 457.2 205.1 467.5 205.2 459.0 205.3 441.1 205.4 452.9 205.6 442.9 205.7 449.8 205.8 439.7 205.9 451.3 206.1 451.1 206.2 463.9 206.3 461.4 206.4 466.8 206.6 436.8 206.7 466.1 206.8 447.5 206.9 455.1 207.1 459.1 207.2 460.6 207.3 449.1 207.4 430.3 207.6 454.3 207.7 464.4 207.8 465.0 207.9 464.2 208.1 469.6 208.2 461.5 208.3 442.6 208.4 452.8 208.6 431.0 208.7 439.3 208.8 442.6 208.9 455.3 209.1 439.4 209.2 436.8 209.3 431.7 209.4 443.0 209.6 416.8 209.7 415.4 209.8 450.8 209.9 454.0 210.1 446.8 210.2 441.3 210.3 427.7 210.4 413.5 210.6 434.4 210.7 419.2 210.8 441.2 210.9 436.8 211.1 415.6 211.2 431.1 211.3 410.6 211.4 417.8 211.6 438.8 211.7 423.2 211.8 424.7 211.9 420.7 212.1 421.1 212.2 437.9 212.3 435.2 212.4 435.0 212.6 412.0 212.7 421.5 212.8 417.7 212.9 426.6 213.1 415.6 213.2 434.7 213.3 446.3 213.4 435.1 213.6 423.6 213.7 437.0 213.8 413.0 213.9 421.1 214.1 439.6 214.2 429.5 214.3 432.1 214.4 450.2 214.6 440.7 214.7 443.7 214.8 425.8 214.9 459.3 215.1 438.0 215.2 444.6 215.3 441.7 215.4 440.0 215.6 424.3 215.7 434.8 215.8 442.7 215.9 462.8 216.1 450.5 216.2 440.2 216.3 447.8 216.4 449.7 216.6 447.2 216.7 452.7 216.8 474.1 216.9 456.2 217.1 435.5 217.2 442.8 217.3 448.6 217.4 444.7 217.6 457.0 217.7 471.1 217.8 435.2 217.9 440.8 218.1 451.2 218.2 469.1 218.3 441.1 218.4 473.4 218.6 487.5 218.7 486.8 218.8 475.3 218.9 454.0 219.1 460.9 219.2 461.5 219.3 472.0 219.4 485.0 219.6 483.4 219.7 464.1 219.8 482.2 219.9 487.4 220.1 462.2 220.2 456.6 220.3 460.5 220.4 469.9 220.6 455.9 220.7 476.8 220.8 469.0 220.9 473.6 221.1 458.9 221.2 452.2 221.3 463.6 221.4 477.9 221.6 471.7 221.7 474.6 221.8 456.8 221.9 451.2 222.1 454.9 222.2 460.7 222.3 455.7 222.4 442.8 222.6 436.3 222.7 450.9 222.8 450.1 222.9 467.2 223.1 451.3 223.2 443.2 223.3 456.5 223.4 449.8 223.6 451.7 223.7 460.9 223.8 444.2 223.9 445.7 224.1 444.2 224.2 443.5 224.3 443.4 224.4 447.0 224.6 463.7 224.7 452.3 224.8 442.0 224.9 448.3 225.1 444.3 225.2 451.1 225.3 451.1 225.4 444.0 225.6 447.4 225.7 457.0 225.8 466.2 225.9 453.3 226.1 465.0 226.2 463.8 226.3 438.9 226.4 441.8 226.6 429.9 226.7 429.9 226.8 441.1 226.9 436.4 227.1 444.5 227.2 441.3 227.3 447.6 227.4 439.7 227.6 447.4 227.7 445.3 227.8 445.8 227.9 452.8 228.1 435.9 228.2 459.3 228.3 444.9 228.4 445.3 228.6 439.5 228.7 435.5 228.8 424.3 228.9 431.5 229.1 422.6 229.2 422.3 229.3 452.9 229.4 442.5 229.6 437.3 229.7 428.1 229.8 437.3 229.9 439.5 230.1 447.0 230.2 439.9 230.3 442.1 230.4 454.9 230.6 449.5 230.7 454.9 230.8 424.2 230.9 434.1 231.1 453.9 231.2 445.7 231.3 459.7 231.4 441.7 231.6 456.0 231.7 421.6 231.8 428.3 231.9 441.5 232.1 427.0 232.2 418.9 232.3 446.8 232.4 465.6 232.6 451.0 232.7 426.1 232.8 438.3 232.9 423.0 233.1 417.7 233.2 443.2 233.3 449.8 233.4 444.9 233.6 423.8 233.7 416.9 233.8 442.1 233.9 440.7 234.1 456.7 234.2 420.5 234.3 416.0 234.4 447.6 234.6 466.4 234.7 462.9 234.8 455.7 234.9 446.8 235.1 452.7 235.2 434.2 235.3 470.9 235.4 470.9 235.6 420.8 235.7 457.0 235.8 417.4 235.9 440.7 236.1 437.2 236.2 464.1 236.3 449.1 236.4 441.3 236.6 461.0 236.7 436.0 236.8 431.1 236.9 461.3 237.1 454.7 237.2 448.9 237.3 437.5 237.4 442.0 237.6 439.8 237.7 449.0 237.8 449.0 237.9 445.2 238.1 445.7 238.2 465.8 238.3 458.6 238.4 453.5 238.6 445.7 238.7 448.8 238.8 444.9 238.9 446.9 239.1 449.5 239.2 436.1 239.3 432.6 239.4 421.3 239.6 420.9 239.7 437.5 239.8 463.4 239.9 462.8 240.1 442.3 240.2 418.8 240.3 434.3 240.4 441.3 240.6 454.9 240.7 430.9 240.8 431.7 240.9 431.8 241.1 434.7 241.2 420.4 241.3 435.8 241.4 427.2 241.6 435.3 241.7 434.9 241.8 417.3 241.9 434.4 242.1 423.0 242.2 423.1 242.3 424.3 242.4 420.3 242.6 433.0 242.7 421.4 242.8 426.1 242.9 439.5 243.1 445.5 243.2 455.4 243.3 458.4 243.4 458.6 243.6 445.4 243.7 436.2 243.8 426.6 243.9 435.3 244.1 445.5 244.2 442.8 244.3 436.3 244.4 456.7 244.6 470.8 244.7 450.3 244.8 464.2 244.9 458.5 245.1 440.4 245.2 448.9 245.3 442.6 245.4 461.0 245.6 464.7 245.7 457.6 245.8 448.0 245.9 454.5 246.1 454.4 246.2 463.2 246.3 464.1 246.4 460.5 246.6 439.9 246.7 454.3 246.8 460.9 246.9 448.5 247.1 440.9 247.2 455.0 247.3 439.8 247.4 442.9 247.6 445.6 247.7 440.5 247.8 434.6 247.9 463.4 248.1 451.0 248.2 439.1 248.3 466.9 248.4 458.0 248.6 468.4 248.7 472.8 248.8 450.2 248.9 462.1 249.1 465.4 249.2 450.2 249.3 446.7 249.4 467.2 249.6 462.6 249.7 449.1 249.8 449.5 249.9 458.2 250.1 453.0 250.2 480.1 250.3 481.5 250.4 477.5 250.6 461.4 250.7 451.3 250.8 454.9 250.9 481.2 251.1 480.2 251.2 457.2 251.3 456.7 251.4 470.2 251.6 458.5 251.7 455.4 251.8 462.8 251.9 466.7 252.1 459.7 252.2 471.2 252.3 461.0 252.4 453.9 252.6 439.4 252.7 442.1 252.8 449.7 252.9 449.8 253.1 440.5 253.2 463.2 253.3 457.1 253.4 452.6 253.6 447.8 253.7 446.1 253.8 433.5 253.9 443.8 254.1 438.1 254.2 434.3 254.3 454.2 254.4 446.5 254.6 446.9 254.7 443.1 254.8 439.1 254.9 432.0 255.1 446.2 255.2 434.0 255.3 429.2 255.4 427.7 255.6 440.9 255.7 444.3 255.8 446.6 255.9 439.0 256.1 436.9 256.2 450.4 256.3 425.4 256.4 441.3 256.6 439.1 256.7 431.2 256.8 425.2 256.9 416.1 257.1 414.6 257.2 417.5 257.3 426.4 257.4 451.8 257.6 429.6 257.7 429.6 257.8 426.5 257.9 415.4 258.1 417.9 258.2 442.7 258.3 432.4 258.4 414.9 258.6 410.6 258.7 436.8 258.8 426.4 258.9 414.1 259.1 431.5 259.2 425.0 259.3 419.6 259.4 423.7 259.6 437.4 259.7 418.4 259.8 429.9 259.9 425.9 260.1 419.1 260.2 436.7 260.3 423.8 260.4 426.0 260.6 421.2 260.7 413.5 260.8 426.1 260.9 417.3 261.1 439.3 261.2 442.1 261.3 425.7 261.4 422.6 261.6 420.3 261.7 440.4 261.8 421.8 261.9 419.1 262.1 420.1 262.2 421.2 262.3 439.5 262.4 429.6 262.6 432.1 262.7 430.2 262.8 430.3 262.9 445.6 263.1 445.9 263.2 439.5 263.3 429.7 263.4 446.6 263.6 437.3 263.7 427.8 263.8 426.8 263.9 432.9 264.1 439.1 264.2 420.6 264.3 433.5 264.4 434.1 264.6 438.8 264.7 429.6 264.8 441.6 264.9 433.3 265.1 443.8 265.2 450.1 265.3 442.0 265.4 440.4 265.6 439.8 265.7 424.8 265.8 438.2 265.9 426.1 266.1 423.1 266.2 433.0 266.3 442.1 266.4 432.4 266.6 424.1 266.7 446.3 266.8 427.4 266.9 445.2 267.1 437.9 267.2 429.7 267.3 439.9 267.4 424.1 267.6 429.2 267.7 437.5 267.8 438.8 267.9 451.7 268.1 433.5 268.2 443.9 268.3 439.8 268.4 447.5 268.6 446.0 268.7 452.8 268.8 442.8 268.9 455.2 269.1 444.9 269.2 436.0 269.3 441.8 269.4 444.2 269.6 458.1 269.7 436.2 269.8 443.3 269.9 433.4 270.1 451.7 270.2 455.2 270.3 454.1 270.4 436.4 270.6 436.3 270.7 445.1 270.8 451.2 270.9 455.6 271.1 447.1 271.2 450.9 271.3 447.9 271.4 446.8 271.6 448.2 271.7 443.2 271.8 458.2 271.9 464.7 272.1 460.4 272.2 452.3 272.3 464.9 272.4 450.5 272.6 462.7 272.7 464.1 272.8 466.4 272.9 445.7 273.1 456.9 273.2 453.0 273.3 462.0 273.4 459.5 273.6 442.7 273.7 459.4 273.8 472.3 273.9 464.7 274.1 465.7 274.2 461.4 274.3 463.6 274.4 455.7 274.6 472.4 274.7 474.7 274.8 458.4 274.9 464.1 275.1 458.0 275.2 474.4 275.3 466.0 275.4 470.0 275.6 461.8 275.7 472.2 275.8 472.0 275.9 468.4 276.1 470.1 276.2 451.5 276.3 470.4 276.4 456.2 276.6 457.9 276.7 464.7 276.8 473.7 276.9 477.5 277.1 472.3 277.2 471.2 277.3 476.5 277.4 461.0 277.6 467.7 277.7 461.3 277.8 448.0 277.9 451.9 278.1 479.6 278.2 465.3 278.3 449.6 278.4 467.3 278.6 463.1 278.7 464.2 278.8 465.5 278.9 472.8 279.1 472.6 279.2 467.6 279.3 470.2 279.4 466.6 279.6 470.7 279.7 475.1 279.8 466.2 279.9 484.8 280.1 456.9 280.2 456.0 280.3 458.9 280.4 476.0 280.6 475.2 280.7 467.6 280.8 452.7 280.9 462.7 281.1 458.9 281.2 454.9 281.3 469.5 281.4 473.8 281.6 462.9 281.7 450.2 281.8 456.0 281.9 443.8 282.1 435.3 282.2 430.8 282.3 442.4 282.4 443.5 282.6 438.2 282.7 438.5 282.8 439.5 282.9 431.5 283.1 443.1 283.2 456.4 283.3 440.5 283.4 422.1 283.6 433.6 283.7 437.6 283.8 441.6 283.9 445.9 284.1 443.5 284.2 444.8 284.3 433.6 284.4 434.6 284.6 423.9 284.7 423.0 284.8 433.9 284.9 425.7 285.1 412.8 285.2 409.3 285.3 429.6 285.4 424.3 285.6 421.8 285.7 419.0 285.8 429.9 285.9 427.7 286.1 425.8 286.2 425.3 286.3 426.6 286.4 437.1 286.6 432.7 286.7 442.5 286.8 414.6 286.9 420.3 287.1 436.1 287.2 424.9 287.3 428.0 287.4 427.1 287.6 431.6 287.7 434.6 287.8 449.7 287.9 445.2 288.1 436.7 288.2 438.6 288.3 439.3 288.4 434.7 288.6 428.6 288.7 437.5 288.8 441.6 288.9 430.3 289.1 433.5 289.2 439.4 289.3 440.6 289.4 453.0 289.6 438.2 289.7 431.4 289.8 441.0 289.9 429.9 290.1 435.0 290.2 422.1 290.3 439.7 290.4 456.5 290.6 440.5 290.7 437.4 290.8 445.3 290.9 450.7 291.1 429.4 291.2 437.3 291.3 442.3 291.4 442.8 291.6 445.4 291.7 442.3 291.8 441.2 291.9 433.7 292.1 457.3 292.2 447.5 292.3 455.8 292.4 447.0 292.6 447.2 292.7 445.3 292.8 451.7 292.9 448.5 293.1 433.8 293.2 465.2 293.3 454.4 293.4 443.4 293.6 434.2 293.7 439.1 293.8 445.5 293.9 440.8 294.1 454.1 294.2 437.7 294.3 449.7 294.4 453.6 294.6 442.7 294.7 440.1 294.8 441.9 294.9 451.9 295.1 449.3 295.2 448.7 295.3 455.6 295.4 466.1 295.6 450.5 295.7 441.8 295.8 451.0 295.9 453.4 296.1 468.7 296.2 468.5 296.3 461.2 296.4 450.6 296.6 471.2 296.7 454.9 296.8 464.0 296.9 467.0 297.1 472.6 297.2 456.2 297.3 479.6 297.4 478.3 297.6 463.9 297.7 462.6 297.8 443.1 297.9 465.8 298.1 474.2 298.2 459.3 298.3 467.4 298.4 456.5 298.6 490.6 298.7 470.1 298.8 473.0 298.9 479.6 299.1 470.8 299.2 479.3 299.3 487.9 299.4 497.6 299.6 497.2 299.7 499.6 299.8 471.6 299.9 469.1 300.1 464.6 300.2 478.5 300.3 475.7 300.4 476.4 300.6 483.3 300.7 486.5 300.8 471.2 300.9 480.6 301.1 479.6 301.2 476.6 301.3 494.0 301.4 457.0 301.6 465.6 301.7 465.8 301.8 466.3 301.9 465.3 302.1 460.6 302.2 461.0 302.3 475.7 302.4 477.1 302.6 452.7 302.7 441.9 302.8 452.0 302.9 440.0 303.1 461.8 303.2 466.4 303.3 437.2 303.4 463.6 303.6 459.3 303.7 444.3 303.8 470.4 303.9 483.0 304.1 462.8 304.2 461.6 304.3 442.9 304.4 459.2 304.6 449.8 304.7 461.9 304.8 452.3 304.9 456.8 305.1 445.2 305.2 429.9 305.3 452.1 305.4 473.5 305.6 424.2 305.7 448.8 305.8 437.1 305.9 429.6 306.1 448.3 306.2 447.6 306.3 450.6 306.4 453.4 306.6 428.3 306.7 461.1 306.8 465.5 306.9 444.7 307.1 446.7 307.2 434.9 307.3 446.9 307.4 447.5 307.6 448.9 307.7 444.7 307.8 450.7 307.9 447.5 308.1 444.5 308.2 447.5 308.3 451.1 308.4 452.8 308.6 451.2 308.7 459.0 308.8 446.9 308.9 458.3 309.1 446.8 309.2 445.3 309.3 445.4 309.4 456.2 309.6 447.5 309.7 441.3 309.8 452.3 309.9 444.7 310.1 447.9 310.2 450.5 310.3 452.2 310.4 460.8 310.6 452.9 310.7 441.6 310.8 457.6 310.9 447.7 311.1 442.9 311.2 448.4 311.3 459.6 311.4 443.8 311.6 445.9 311.7 462.6 311.8 473.4 311.9 460.1 312.1 465.7 312.2 461.3 312.3 458.1 312.4 447.9 312.6 457.6 312.7 452.9 312.8 455.2 312.9 459.7 313.1 463.3 313.2 450.8 313.3 452.7 313.4 467.2 313.6 481.5 313.7 466.7 313.8 472.3 313.9 474.0 314.1 459.3 314.2 472.0 314.3 456.5 314.4 445.4 314.6 452.9 314.7 466.2 314.8 453.1 314.9 470.7 315.1 454.6 315.2 466.9 315.3 459.3 315.4 476.3 315.6 458.5 315.7 457.4 315.8 456.4 315.9 445.2 316.1 459.8 316.2 446.8 316.3 444.1 316.4 448.8 316.6 449.2 316.7 469.3 316.8 451.5 316.9 468.2 317.1 431.2 317.2 455.3 317.3 450.1 317.4 470.7 317.6 442.1 317.7 448.9 317.8 452.2 317.9 432.0 318.1 446.4 318.2 475.9 318.3 461.8 318.4 466.5 318.6 457.3 318.7 474.6 318.8 453.5 318.9 447.0 319.1 467.1 319.2 448.5 319.3 460.4 319.4 442.0 319.6 466.9 319.7 459.9 319.8 465.8 319.9 468.2 320.1 471.3 320.2 464.0 320.3 461.4 320.4 478.5 320.6 486.8 320.7 456.6 320.8 459.3 320.9 462.5 321.1 459.6 321.2 477.4 321.3 468.3 321.4 462.5 321.6 468.4 321.7 479.9 321.8 443.1 321.9 463.9 322.1 459.2 322.2 455.5 322.3 457.3 322.4 438.6 322.6 451.8 322.7 458.6 322.8 451.4 322.9 440.2 323.1 443.0 323.2 457.9 323.3 469.0 323.4 453.9 323.6 457.0 323.7 462.2 323.8 453.5 323.9 439.8 324.1 448.7 324.2 463.9 324.3 444.0 324.4 441.6 324.6 433.7 324.7 444.8 324.8 436.2 324.9 451.5 325.1 454.8 325.2 441.4 325.3 440.8 325.4 444.0 325.6 433.6 325.7 436.2 325.8 459.8 325.9 446.8 326.1 425.0 326.2 449.8 326.3 444.3 326.4 442.6 326.6 456.2 326.7 457.8 326.8 456.1 326.9 457.6 327.1 428.2 327.2 448.5 327.3 437.6 327.4 441.0 327.6 453.8 327.7 456.3 327.8 450.7 327.9 440.8 328.1 456.4 328.2 444.8 328.3 448.5 328.4 450.3 328.6 453.0 328.7 439.0 328.8 454.3 328.9 455.6 329.1 445.4 329.2 453.6 329.3 464.9 329.4 441.0 329.6 447.9 329.7 442.1 329.8 445.2 329.9 460.7 330.1 451.3 330.2 444.9 330.3 462.7 330.4 459.4 330.6 461.7 330.7 471.6 330.8 452.8 330.9 432.1 331.1 467.4 331.2 452.5 331.3 451.2 331.4 456.8 331.6 455.0 331.7 436.1 331.8 434.4 331.9 433.2 332.1 435.8 332.2 443.4 332.3 449.5 332.4 450.8 332.6 435.2 332.7 440.3 332.8 434.8 332.9 435.7 333.1 446.2 333.2 442.9 333.3 432.5 333.4 443.6 333.6 445.7 333.7 445.8 333.8 442.0 333.9 442.2 334.1 451.0 334.2 441.0 334.3 445.6 334.4 436.9 334.6 448.2 334.7 456.9 334.8 444.4 334.9 445.2 335.1 445.8 335.2 442.2 335.3 458.1 335.4 447.9 335.6 432.5 335.7 450.9 335.8 439.9 335.9 452.1 336.1 425.3 336.2 451.0 336.3 435.7 336.4 438.8 336.6 444.7 336.7 448.6 336.8 434.1 336.9 446.8 337.1 450.6 337.2 444.0 337.3 443.2 337.4 452.8 337.6 439.6 337.7 446.5 337.8 444.6 337.9 441.8 338.1 436.0 338.2 431.1 338.3 443.2 338.4 446.6 338.6 448.4 338.7 441.1 338.8 442.5 338.9 441.7 339.1 443.5 339.2 439.7 339.3 449.2 339.4 438.7 339.6 431.1 339.7 438.6 339.8 438.6 339.9 457.0 340.1 441.1 340.2 434.9 340.3 451.5 340.4 460.0 340.6 460.6 340.7 444.0 340.8 438.7 340.9 462.6 341.1 449.3 341.2 437.1 341.3 451.5 341.4 430.9 341.6 431.2 341.7 441.4 341.8 452.6 341.9 449.6 342.1 453.2 342.2 461.7 342.3 469.5 342.4 447.6 342.6 444.5 342.7 454.6 342.8 450.0 342.9 446.6 343.1 452.4 343.2 446.0 343.3 457.0 343.4 465.7 343.6 459.5 343.7 455.2 343.8 448.5 343.9 452.1 344.1 453.0 344.2 476.1 344.3 481.8 344.4 466.9 344.6 469.5 344.7 483.2 344.8 462.7 344.9 482.9 345.1 465.7 345.2 458.6 345.3 482.4 345.4 464.8 345.6 468.5 345.7 474.2 345.8 467.1 345.9 455.9 346.1 458.2 346.2 470.3 346.3 479.4 346.4 473.2 346.6 449.9 346.7 465.3 346.8 457.5 346.9 474.7 347.1 473.7 347.2 458.8 347.3 450.6 347.4 452.8 347.6 461.0 347.7 467.3 347.8 453.2 347.9 458.6 348.1 475.3 348.2 478.1 348.3 456.9 348.4 477.0 348.6 475.7 348.7 467.3 348.8 471.0 348.9 453.8 349.1 461.5 349.2 465.4 349.3 468.4 349.4 453.6 349.6 471.5 349.7 463.7 349.8 451.3 349.9 476.1 350.1 478.5 350.2 465.4 350.3 456.2 350.4 463.9 350.6 450.1 350.7 441.9 350.8 475.1 350.9 478.5 351.1 472.6 351.2 465.3 351.3 453.1 351.4 445.6 351.6 445.2 351.7 461.3 351.8 456.5 351.9 454.8 352.1 462.2 352.2 452.9 352.3 462.7 352.4 435.5 352.6 447.4 352.7 460.3 352.8 468.5 352.9 460.4 353.1 460.9 353.2 432.5 353.3 449.5 353.4 449.1 353.6 438.5 353.7 445.6 353.8 446.7 353.9 443.1 354.1 451.1 354.2 460.2 354.3 456.3 354.4 455.5 354.6 441.7 354.7 451.3 354.8 451.2 354.9 453.4 355.1 461.0 355.2 454.3 355.3 443.2 355.4 456.1 355.6 446.7 355.7 448.8 355.8 448.8 355.9 452.0 356.1 435.3 356.2 440.2 356.3 450.5 356.4 453.1 356.6 452.2 356.7 455.5 356.8 458.5 356.9 446.5 357.1 468.6 357.2 455.8 357.3 455.8 357.4 452.2 357.6 440.3 357.7 437.7 357.8 447.2 357.9 464.5 358.1 443.8 358.2 450.9 358.3 439.6 358.4 447.2 358.6 438.7 358.7 434.6 358.8 433.9 358.9 436.7 359.1 442.4 359.2 440.4 359.3 436.3 359.4 445.3 359.6 446.3 359.7 441.3 359.8 446.1 359.9 440.6 360.1 430.9 360.2 446.0 360.3 438.3 360.4 435.7 360.6 453.4 360.7 430.2 360.8 429.8 360.9 430.4 361.1 445.3 361.2 445.8 361.3 445.2 361.4 433.8 361.6 431.8 361.7 427.8 361.8 442.0 361.9 430.5 362.1 430.8 362.2 423.1 362.3 438.0 362.4 434.4 362.6 449.1 362.7 443.3 362.8 430.1 362.9 420.8 363.1 420.9 363.2 433.2 363.3 431.3 363.4 430.8 363.6 435.9 363.7 422.0 363.8 419.2 363.9 426.2 364.1 428.8 364.2 420.5 364.3 445.2 364.4 434.0 364.6 419.2 364.7 435.1 364.8 445.3 364.9 457.8 365.1 438.3 365.2 439.5 365.3 427.3 365.4 426.3 365.6 419.2 365.7 428.3 365.8 439.0 365.9 420.0 366.1 445.7 366.2 462.0 366.3 423.6 366.4 438.6 366.6 433.8 366.7 439.0 366.8 438.9 366.9 463.4 367.1 452.6 367.2 451.3 367.3 465.4 367.4 449.0 367.6 468.8 367.7 442.8 367.8 439.4 367.9 451.2 368.1 449.0 368.2 450.0 368.3 447.9 368.4 432.9 368.6 456.1 368.7 451.3 368.8 458.1 368.9 452.5 369.1 459.1 369.2 439.1 369.3 447.1 369.4 451.1 369.6 457.2 369.7 471.8 369.8 468.7 369.9 478.9 370.1 480.7 370.2 462.3 370.3 474.0 370.4 469.6 370.6 442.2 370.7 454.2 370.8 474.6 370.9 480.4 371.1 462.0 371.2 452.8 371.3 463.9 371.4 460.8 371.6 457.0 371.7 462.4 371.8 443.2 371.9 463.3 372.1 471.5 372.2 460.5 372.3 451.2 372.4 460.5 372.6 465.7 372.7 457.3 372.8 462.3 372.9 448.8 373.1 442.6 373.2 462.2 373.3 462.5 373.4 464.4 373.6 443.3 373.7 450.0 373.8 464.8 373.9 445.9 374.1 451.6 374.2 444.4 374.3 464.3 374.4 464.2 374.6 474.0 374.7 445.3 374.8 456.1 374.9 452.5 375.1 478.5 375.2 467.0 375.3 462.3 375.4 459.0 375.6 452.6 375.7 450.8 375.8 456.2 375.9 465.2 376.1 454.4 376.2 476.3 376.3 469.6 376.4 466.1 376.6 473.7 376.7 466.9 376.8 454.0 376.9 486.6 377.1 447.9 377.2 460.3 377.3 472.2 377.4 470.6 377.6 455.2 377.7 459.4 377.8 459.2 377.9 463.4 378.1 463.2 378.2 475.8 378.3 466.1 378.4 456.8 378.6 472.1 378.7 476.5 378.8 487.6 378.9 458.0 379.1 462.1 379.2 457.2 379.3 467.9 379.4 462.2 379.6 479.7 379.7 473.7 379.8 466.5 379.9 478.7 380.1 475.0 380.2 481.6 380.3 496.6 380.4 471.6 380.6 467.3 380.7 460.8 380.8 481.8 380.9 483.0 381.1 479.2 381.2 483.5 381.3 467.5 381.4 486.1 381.6 476.6 381.7 486.7 381.8 473.4 381.9 480.4 382.1 469.4 382.2 484.5 382.3 483.0 382.4 476.2 382.6 478.7 382.7 469.9 382.8 463.1 382.9 485.2 383.1 483.6 383.2 481.2 383.3 472.3 383.4 476.6 383.6 486.1 383.7 446.8 383.8 466.9 383.9 474.3 384.1 458.6 384.2 459.9 384.3 460.9 384.4 474.6 384.6 456.4 384.7 454.5 384.8 468.4 384.9 459.4 385.1 446.1 385.2 440.0 385.3 469.6 385.4 459.7 385.6 461.5 385.7 454.0 385.8 454.1 385.9 438.3 386.1 460.3 386.2 440.4 386.3 436.4 386.4 438.4 386.6 453.7 386.7 446.8 386.8 463.6 386.9 440.3 387.1 457.7 387.2 448.5 387.3 441.1 387.4 446.9 387.6 453.3 387.7 444.7 387.8 455.9 387.9 451.4 388.1 450.2 388.2 436.3 388.3 439.0 388.4 432.7 388.6 439.6 388.7 450.7 388.8 457.6 388.9 435.2 389.1 428.4 389.2 444.8 389.3 443.0 389.4 434.6 389.6 450.4 389.7 439.2 389.8 436.9 389.9 440.2 390.1 441.2 390.2 457.9 390.3 448.3 390.4 451.5 390.6 439.3 390.7 429.4 390.8 456.8 390.9 462.6 391.1 442.9 391.2 429.7 391.3 425.4 391.4 432.9 391.6 426.6 391.7 457.0 391.8 430.6 391.9 449.3 392.1 445.9 392.2 433.3 392.3 442.3 392.4 457.6 392.6 443.1 392.7 452.8 392.8 436.1 392.9 443.8 393.1 446.0 393.2 449.2 393.3 471.3 393.4 450.8 393.6 446.2 393.7 449.9 393.8 446.0 393.9 458.0 394.1 473.8 394.2 478.0 394.3 478.6 394.4 458.0 394.6 479.2 394.7 444.8 394.8 479.8 394.9 455.4 395.1 455.0 395.2 452.9 395.3 466.7 395.4 455.1 395.6 464.2 395.7 467.8 395.8 461.3 395.9 466.2 396.1 460.2 396.2 481.6 396.3 478.1 396.4 470.4 396.6 452.0 396.7 466.1 396.8 453.9 396.9 454.7 397.1 476.9 397.2 468.0 397.3 454.9 397.4 474.0 397.6 483.4 397.7 456.8 397.8 459.1 397.9 462.8 398.1 471.4 398.2 463.1 398.3 459.6 398.4 458.1 398.6 473.7 398.7 462.5 398.8 472.2 398.9 459.0 399.1 465.9 399.2 453.1 399.3 456.6 399.4 466.7 399.6 468.7 399.7 464.6 399.8 481.4 399.9 485.5 400.1 471.9 400.2 460.1 400.3 460.4 400.4 462.4 400.6 470.1 400.7 475.2 400.8 482.5 400.9 478.8 401.1 485.8 401.2 470.1 401.3 451.6 401.4 459.2 401.6 471.2 401.7 482.5 401.8 469.0 401.9 475.5 402.1 469.6 402.2 482.5 402.3 444.5 402.4 448.9 402.6 456.3 402.7 467.1 402.8 459.9 402.9 452.1 403.1 455.8 403.2 460.8 403.3 454.0 403.4 439.6 403.6 446.0 403.7 443.2 403.8 461.2 403.9 448.1 404.1 455.5 404.2 457.2 404.3 449.1 404.4 456.0 404.6 458.1 404.7 473.9 404.8 448.6 404.9 452.1 405.1 461.5 405.2 449.1 405.3 445.0 405.4 447.5 405.6 462.6 405.7 472.5 405.8 449.1 405.9 431.5 406.1 451.4 406.2 438.7 406.3 430.7 406.4 432.9 406.6 430.2 406.7 464.6 406.8 471.0 406.9 468.1 407.1 464.0 407.2 454.6 407.3 441.8 407.4 431.8 407.6 448.3 407.7 467.7 407.8 467.2 407.9 448.4 408.1 458.2 408.2 444.9 408.3 457.5 408.4 443.1 408.6 429.3 408.7 421.2 408.8 441.7 408.9 448.1 409.1 440.0 409.2 422.6 409.3 418.1 409.4 419.8 409.6 452.0 409.7 414.6 409.8 424.9 409.9 426.4 410.1 431.8 410.2 421.4 410.3 445.8 410.4 441.3 410.6 433.3 410.7 436.6 410.8 437.8 410.9 443.0 411.1 432.7 411.2 421.6 411.3 429.8 411.4 450.9 411.6 440.3 411.7 432.5 411.8 463.0 411.9 435.4 412.1 462.8 412.2 428.9 412.3 455.0 412.4 481.2 412.6 478.7 412.7 452.8 412.8 457.7 412.9 467.4 413.1 473.5 413.2 465.5 413.3 435.0 413.4 459.0 413.6 458.8 413.7 446.8 413.8 451.8 413.9 443.3 414.1 480.0 414.2 447.9 414.3 474.9 414.4 477.0 414.6 462.4 414.7 469.7 414.8 439.7 414.9 473.0 415.1 452.4 415.2 453.5 415.3 453.5 415.4 427.4 415.6 436.5 415.7 458.3 415.8 450.6 415.9 454.7 416.1 430.6 416.2 426.2 416.3 444.2 416.4 443.3 416.6 438.3 416.7 438.5 416.8 432.6 416.9 447.3 417.1 435.5 417.2 440.2 417.3 440.0 417.4 436.5 417.6 444.3 417.7 431.3 417.8 435.1 417.9 448.0 418.1 437.4 418.2 454.7 418.3 431.2 418.4 433.0 418.6 431.5 418.7 429.7 418.8 441.8 418.9 423.1 419.1 424.0 419.2 448.1 419.3 436.7 419.4 450.8 419.6 429.3 419.7 449.8 419.8 437.9 419.9 437.8 420.1 449.5 420.2 440.0 420.3 427.3 420.4 444.1 420.6 427.7 420.7 439.1 420.8 447.6 420.9 449.9 421.1 440.3 421.2 451.4 421.3 447.9 421.4 450.2 421.6 438.1 421.7 438.0 421.8 430.2 421.9 439.2 422.1 441.1 422.2 464.6 422.3 461.6 422.4 450.9 422.6 434.7 422.7 460.8 422.8 439.4 422.9 451.4 423.1 460.3 423.2 458.3 423.3 439.5 423.4 438.0 423.6 436.6 423.7 449.4 423.8 464.5 423.9 459.2 424.1 463.3 424.2 474.9 424.3 461.3 424.4 455.9 424.6 454.0 424.7 451.1 424.8 451.1 424.9 448.4 425.1 461.4 425.2 448.2 425.3 455.4 425.4 469.5 425.6 467.6 425.7 479.6 425.8 452.7 425.9 458.3 426.1 445.5 426.2 450.4 426.3 467.6 426.4 451.7 426.6 453.4 426.7 464.2 426.8 462.7 426.9 438.4 427.1 445.0 427.2 466.9 427.3 475.1 427.4 462.8 427.6 474.7 427.7 466.6 427.8 458.1 427.9 448.7 428.1 450.9 428.2 451.9 428.3 435.3 428.4 446.2 428.6 451.6 428.7 453.2 428.8 446.6 428.9 470.0 429.1 438.6 429.2 436.8 429.3 468.5 429.4 450.3 429.6 453.4 429.7 445.5 429.8 439.0 429.9 440.3 430.1 441.0 430.2 430.7 430.3 449.7 430.4 450.9 430.6 442.3 430.7 446.2 430.8 454.3 430.9 450.5 431.1 448.8 431.2 450.6 431.3 451.9 431.4 444.9 431.6 452.1 431.7 452.2 431.8 431.0 431.9 433.4 432.1 445.4 432.2 442.9 432.3 439.2 432.4 430.7 432.6 450.8 432.7 437.8 432.8 435.8 432.9 440.1 433.1 421.7 433.2 446.5 433.3 437.6 433.4 436.4 433.6 431.0 433.7 439.9 433.8 421.6 433.9 424.3 434.1 443.9 434.2 433.0 434.3 415.8 434.4 427.2 434.6 420.2 434.7 416.0 434.8 433.0 434.9 425.3 435.1 443.5 435.2 424.4 435.3 432.8 435.4 417.1 435.6 413.7 435.7 430.5 435.8 421.1 435.9 429.1 436.1 428.2 436.2 433.2 436.3 426.8 436.4 424.4 436.6 426.7 436.7 429.6 436.8 429.9 436.9 422.8 437.1 439.6 437.2 422.2 437.3 420.8 437.4 409.6 437.6 416.9 437.7 424.1 437.8 431.8 437.9 428.2 438.1 436.3 438.2 435.4 438.3 424.2 438.4 441.3 438.6 441.8 438.7 442.3 438.8 418.1 438.9 432.7 439.1 417.5 439.2 429.1 439.3 444.8 439.4 413.4 439.6 428.0 439.7 438.8 439.8 426.5 439.9 424.9 440.1 423.3 440.2 434.9 440.3 439.1 440.4 445.7 440.6 434.2 440.7 449.8 440.8 429.4 440.9 423.1 441.1 425.7 441.2 420.7 441.3 424.3 441.4 431.1 441.6 440.3 441.7 444.3 441.8 440.5 441.9 442.2 442.1 421.6 442.2 433.7 442.3 449.9 442.4 432.6 442.6 434.0 442.7 432.7 442.8 438.1 442.9 436.2 443.1 415.4 443.2 423.1 443.3 423.3 443.4 431.7 443.6 423.2 443.7 421.9 443.8 430.1 443.9 433.8 444.1 443.9 444.2 426.0 444.3 445.9 444.4 435.1 444.6 445.4 444.7 434.3 444.8 426.9 444.9 434.5 445.1 427.7 445.2 435.2 445.3 421.2 445.4 414.4 445.6 433.7 445.7 408.2 445.8 424.4 445.9 415.0 446.1 427.4 446.2 421.9 446.3 418.9 446.4 420.2 446.6 417.4 446.7 434.1 446.8 431.1 446.9 416.4 447.1 414.1 447.2 437.6 447.3 424.5 447.4 432.1 447.6 425.1 447.7 424.6 447.8 415.4 447.9 437.1 448.1 444.2 448.2 422.5 448.3 435.9 448.4 448.0 448.6 438.8 448.7 432.8 448.8 427.6 448.9 447.1 449.1 441.1 449.2 444.4 449.3 434.9 449.4 427.0 449.6 429.8 449.7 437.4 449.8 447.4 449.9 457.9 450.1 454.4 450.2 450.8 450.3 455.7 450.4 449.4 450.6 454.6 450.7 443.9 450.8 453.6 450.9 440.7 451.1 443.4 451.2 448.2 451.3 452.8 451.4 450.6 451.6 450.5 451.7 453.3 451.8 450.2 451.9 453.8 452.1 450.9 452.2 448.5 452.3 426.0 452.4 454.8 452.6 444.1 452.7 434.1 452.8 453.2 452.9 446.6 453.1 431.5 453.2 433.9 453.3 443.5 453.4 437.8 453.6 452.5 453.7 442.1 453.8 417.1 453.9 448.8 454.1 426.2 454.2 421.3 454.3 427.2 454.4 447.2 454.6 428.1 454.7 434.6 454.8 456.8 454.9 467.2 455.1 463.5 455.2 447.5 455.3 453.8 455.4 467.0 455.6 457.2 455.7 466.5 455.8 461.8 455.9 441.2 456.1 447.6 456.2 468.5 456.3 459.7 456.4 453.0 456.6 470.5 456.7 461.3 456.8 479.0 456.9 460.7 457.1 470.1 457.2 459.6 457.3 473.4 457.4 458.1 457.6 462.0 457.7 456.0 457.8 464.0 457.9 460.0 458.1 465.4 458.2 458.6 458.3 453.5 458.4 467.8 458.6 462.9 458.7 470.0 458.8 448.0 458.9 467.8 459.1 455.8 459.2 450.0 459.3 439.6 459.4 434.8 459.6 448.3 459.7 455.5 459.8 450.0 459.9 454.0 460.1 437.0 460.2 445.3 460.3 442.7 460.4 457.3 460.6 434.9 460.7 429.9 460.8 440.9 460.9 443.1 461.1 439.4 461.2 443.0 461.3 446.4 461.4 437.1 461.6 456.3 461.7 431.5 461.8 445.4 461.9 422.6 462.1 443.0 462.2 429.8 462.3 437.9 462.4 437.5 462.6 428.9 462.7 432.1 462.8 429.7 462.9 430.1 463.1 441.7 463.2 421.6 463.3 439.3 463.4 430.2 463.6 443.2 463.7 442.1 463.8 445.6 463.9 439.7 464.1 443.3 464.2 438.5 464.3 440.8 464.4 446.6 464.6 455.2 464.7 450.7 464.8 440.8 464.9 427.3 465.1 437.3 465.2 444.1 465.3 442.4 465.4 457.3 465.6 461.6 465.7 453.0 465.8 436.6 465.9 448.5 466.1 443.8 466.2 429.7 466.3 441.8 466.4 441.5 466.6 452.8 466.7 430.7 466.8 431.0 466.9 446.9 467.1 465.7 467.2 455.0 467.3 452.7 467.4 453.6 467.6 446.0 467.7 432.7 467.8 445.5 467.9 446.0 468.1 437.4 468.2 469.9 468.3 444.4 468.4 458.4 468.6 474.2 468.7 457.5 468.8 450.2 468.9 446.8 469.1 460.0 469.2 457.6 469.3 456.7 469.4 436.7 469.6 453.3 469.7 452.4 469.8 461.2 469.9 444.9 470.1 453.6 470.2 458.2 470.3 461.4 470.4 464.9 470.6 448.7 470.7 465.7 470.8 467.0 470.9 449.1 471.1 458.4 471.2 461.7 471.3 460.7 471.4 444.7 471.6 460.3 471.7 472.3 471.8 449.4 471.9 464.3 472.1 482.0 472.2 464.0 472.3 478.5 472.4 483.7 472.6 471.6 472.7 477.2 472.8 481.3 472.9 464.5 473.1 469.5 473.2 477.3 473.3 477.7 473.4 469.9 473.6 464.3 473.7 481.3 473.8 487.4 473.9 481.3 474.1 478.9 474.2 462.2 474.3 459.3 474.4 462.7 474.6 475.1 474.7 480.3 474.8 475.3 474.9 468.1 475.1 470.9 475.2 476.5 475.3 470.2 475.4 465.2 475.6 491.1 475.7 465.9 475.8 470.7 475.9 489.5 476.1 477.2 476.2 488.7 476.3 484.4 476.4 469.2 476.6 471.1 476.7 463.3 476.8 477.4 476.9 483.4 477.1 469.2 477.2 481.6 477.3 471.8 477.4 455.8 477.6 455.9 477.7 477.3 477.8 493.5 477.9 500.0 478.1 468.6 478.2 484.8 478.3 478.2 478.4 477.1 478.6 456.5 478.7 482.3 478.8 475.7 478.9 473.8 479.1 482.5 479.2 475.9 479.3 455.8 479.4 483.2 479.6 449.0 479.7 460.5 479.8 457.6 479.9 477.0 480.1 454.5 480.2 440.8 480.3 457.4 480.4 443.1 480.6 436.5 480.7 436.0 480.8 446.5 480.9 439.1 481.1 461.1 481.2 439.1 481.3 436.0 481.4 435.9 481.6 442.6 481.7 446.5 481.8 437.3 481.9 439.3 482.1 424.5 482.2 443.3 482.3 441.9 482.4 440.3 482.6 445.4 482.7 441.9 482.8 431.4 482.9 431.2 483.1 439.4 483.2 446.3 483.3 427.6 483.4 435.1 483.6 424.7 483.7 445.5 483.8 445.8 483.9 427.3 484.1 445.0 484.2 427.2 484.3 429.0 484.4 438.0 484.6 448.7 484.7 426.0 484.8 442.0 484.9 435.4 485.1 430.0 485.2 429.5 485.3 432.9 485.4 431.3 485.6 430.1 485.7 435.2 485.8 430.6 485.9 447.4 486.1 452.4 486.2 444.7 486.3 439.9 486.4 448.4 486.6 431.8 486.7 440.5 486.8 441.4 486.9 454.1 487.1 427.9 487.2 440.4 487.3 450.6 487.4 440.3 487.6 442.9 487.7 440.1 487.8 424.0 487.9 426.2 488.1 440.0 488.2 457.4 488.3 426.9 488.4 434.6 488.6 454.7 488.7 446.4 488.8 445.1 488.9 444.0 489.1 435.0 489.2 424.7 489.3 446.7 489.4 456.9 489.6 466.2 489.7 463.2 489.8 426.3 489.9 442.9 490.1 437.5 490.2 449.1 490.3 456.8 490.4 435.5 490.6 455.2 490.7 453.2 490.8 461.5 490.9 459.8 491.1 460.4 491.2 438.2 491.3 446.2 491.4 457.8 491.6 445.5 491.7 461.3 491.8 433.8 491.9 442.9 492.1 451.9 492.2 461.0 492.3 442.5 492.4 463.6 492.6 454.0 492.7 433.1 492.8 421.7 492.9 423.7 493.1 430.6 493.2 438.8 493.3 433.0 493.4 456.9 493.6 456.1 493.7 451.8 493.8 454.4 493.9 432.4 494.1 426.8 494.2 433.3 494.3 433.6 494.4 435.3 494.6 452.8 494.7 453.0 494.8 440.6 494.9 426.4 495.1 416.2 495.2 441.8 495.3 453.8 495.4 447.8 495.6 435.4 495.7 431.3 495.8 427.9 495.9 441.0 496.1 435.4 496.2 450.1 496.3 419.6 496.4 430.6 496.6 442.7 496.7 435.9 496.8 435.0 496.9 440.6 497.1 440.6 497.2 428.5 497.3 437.5 497.4 434.0 497.6 441.7 497.7 426.5 497.8 437.0 497.9 425.4 498.1 423.0 498.2 434.5 498.3 436.2 498.4 457.1 498.6 444.3 498.7 454.3 498.8 458.5 498.9 434.3 499.1 446.3 499.2 443.2 499.3 427.6 499.4 438.4 499.6 433.8 499.7 421.7 499.8 441.8 499.9 444.6 500.1 441.7 500.2 438.8 500.3 441.3 500.4 445.9 500.6 421.5 500.7 445.8 500.8 431.1 500.9 450.9 501.1 441.5 501.2 439.0 501.3 439.4 501.4 459.0 501.6 459.0 501.7 442.0 501.8 440.8 501.9 446.5 502.1 441.1 502.2 441.6 502.3 436.0 502.4 456.3 502.6 432.3 502.7 425.1 502.8 427.6 502.9 433.4 503.1 438.7 503.2 436.4 503.3 452.8 503.4 431.5 503.6 432.7 503.7 450.5 503.8 441.2 503.9 444.0" fill="none" stroke="#d90000" stroke-width="0.9" stroke-linejoin="round"/>
<path d="M98.2 450.1H666.3" stroke="#6e6e6e" stroke-width="2.7" stroke-dasharray="10 4.75" stroke-dashoffset="-0.6" fill="none"/>
<rect x="98.2" y="368.9" width="568.1" height="216.6" fill="none" stroke="#000" stroke-width="1.5"/>
<path d="M98.2 585.5v6.5M179.4 585.5v6.5M260.5 585.5v6.5M341.7 585.5v6.5M422.8 585.5v6.5M504 585.5v6.5M585.1 585.5v6.5M666.3 585.5v6.5M98.2 585.5h-6.5M98.2 531.4h-6.5M98.2 477.2h-6.5M98.2 423.1h-6.5M98.2 368.9h-6.5" stroke="#000" stroke-width="1.5" fill="none"/>
<g font-family='"Liberation Sans", sans-serif' font-size="19.1" fill="#000">
<text x="98.2" y="612.4" text-anchor="middle" textLength="11.7" lengthAdjust="spacingAndGlyphs">0</text>
<text x="179.4" y="612.4" text-anchor="middle" textLength="35" lengthAdjust="spacingAndGlyphs">200</text>
<text x="260.5" y="612.4" text-anchor="middle" textLength="35" lengthAdjust="spacingAndGlyphs">400</text>
<text x="341.7" y="612.4" text-anchor="middle" textLength="35" lengthAdjust="spacingAndGlyphs">600</text>
<text x="422.8" y="612.4" text-anchor="middle" textLength="35" lengthAdjust="spacingAndGlyphs">800</text>
<text x="504" y="612.4" text-anchor="middle" textLength="46.6" lengthAdjust="spacingAndGlyphs">1000</text>
<text x="585.1" y="612.4" text-anchor="middle" textLength="46.6" lengthAdjust="spacingAndGlyphs">1200</text>
<text x="666.3" y="612.4" text-anchor="middle" textLength="46.6" lengthAdjust="spacingAndGlyphs">1400</text>
<text x="85.1" y="592.4" text-anchor="end" textLength="11.7" lengthAdjust="spacingAndGlyphs">0</text>
<text x="85.1" y="538.2" text-anchor="end" textLength="23.3" lengthAdjust="spacingAndGlyphs">20</text>
<text x="85.1" y="484.1" text-anchor="end" textLength="23.3" lengthAdjust="spacingAndGlyphs">40</text>
<text x="85.1" y="429.9" text-anchor="end" textLength="23.3" lengthAdjust="spacingAndGlyphs">60</text>
<text x="85.1" y="375.8" text-anchor="end" textLength="23.3" lengthAdjust="spacingAndGlyphs">80</text>
</g>
<text x="382.2" y="357.5" text-anchor="middle" font-family='"Liberation Sans", sans-serif' font-weight="bold" font-size="31.3" textLength="57.1" lengthAdjust="spacingAndGlyphs">Ss2</text>
<text x="382.2" y="647.5" text-anchor="middle" font-family='"Liberation Sans", sans-serif' font-size="30.5" textLength="76" lengthAdjust="spacingAndGlyphs">t (ns)</text>
<text transform="translate(46.5 476.2) rotate(-90)" x="0" y="0" text-anchor="middle" font-family='"Liberation Sans", sans-serif' font-size="30.5" textLength="64" lengthAdjust="spacingAndGlyphs">r (<tspan font-style="italic">Å</tspan>)</text>
<text x="0.0" y="370.6" font-family='"Liberation Sans", sans-serif' font-weight="bold" font-size="42.6">B</text>
<g fill="#650070"><rect x="773.13" y="930.30" width="2.55" height="1.30"/><rect x="776.58" y="930.30" width="2.55" height="1.30"/><rect x="780.02" y="930.30" width="2.55" height="1.30"/><rect x="783.47" y="930.30" width="2.55" height="1.30"/><rect x="790.36" y="930.30" width="2.55" height="1.30"/><rect x="793.81" y="930.30" width="2.55" height="1.30"/><rect x="797.25" y="930.30" width="2.55" height="1.30"/><rect x="800.70" y="930.30" width="2.55" height="1.30"/><rect x="804.15" y="930.30" width="2.55" height="1.30"/><rect x="807.59" y="930.30" width="2.55" height="1.30"/><rect x="811.04" y="929.80" width="2.55" height="1.80"/><rect x="814.48" y="928.00" width="2.55" height="3.60"/><rect x="817.93" y="927.00" width="2.55" height="4.60"/><rect x="821.38" y="924.90" width="2.55" height="6.70"/><rect x="824.82" y="922.70" width="2.55" height="8.90"/><rect x="828.27" y="919.60" width="2.55" height="12.00"/><rect x="831.71" y="916.40" width="2.55" height="15.20"/><rect x="835.16" y="915.10" width="2.55" height="16.50"/><rect x="838.61" y="909.00" width="2.55" height="22.60"/><rect x="842.05" y="905.10" width="2.55" height="26.50"/><rect x="845.50" y="903.10" width="2.55" height="28.50"/><rect x="848.94" y="896.60" width="2.55" height="35.00"/><rect x="852.39" y="888.40" width="2.55" height="43.20"/><rect x="855.84" y="886.00" width="2.55" height="45.60"/><rect x="859.28" y="876.20" width="2.55" height="55.40"/><rect x="862.73" y="864.40" width="2.55" height="67.20"/><rect x="866.17" y="866.80" width="2.55" height="64.80"/><rect x="869.62" y="864.40" width="2.55" height="67.20"/><rect x="873.07" y="846.90" width="2.55" height="84.70"/><rect x="876.51" y="843.70" width="2.55" height="87.90"/><rect x="879.96" y="824.90" width="2.55" height="106.70"/><rect x="883.40" y="822.40" width="2.55" height="109.20"/><rect x="886.85" y="817.50" width="2.55" height="114.10"/><rect x="890.30" y="821.60" width="2.55" height="110.00"/><rect x="893.74" y="822.40" width="2.55" height="109.20"/><rect x="897.19" y="828.20" width="2.55" height="103.40"/><rect x="900.63" y="834.20" width="2.55" height="97.40"/><rect x="904.08" y="846.10" width="2.55" height="85.50"/><rect x="907.53" y="855.00" width="2.55" height="76.60"/><rect x="910.97" y="867.00" width="2.55" height="64.60"/><rect x="914.42" y="884.10" width="2.55" height="47.50"/><rect x="917.86" y="893.90" width="2.55" height="37.70"/><rect x="921.31" y="903.80" width="2.55" height="27.80"/><rect x="924.76" y="913.20" width="2.55" height="18.40"/><rect x="928.20" y="918.90" width="2.55" height="12.70"/><rect x="931.65" y="924.90" width="2.55" height="6.70"/><rect x="935.09" y="926.70" width="2.55" height="4.90"/><rect x="938.54" y="928.90" width="2.55" height="2.70"/><rect x="941.99" y="930.30" width="2.55" height="1.30"/><rect x="945.43" y="930.30" width="2.55" height="1.30"/></g>
<rect x="718.2" y="715.0" width="257.9" height="216.6" fill="none" stroke="#000" stroke-width="1.5"/>
<path d="M718.2 931.6v6.5M786.8 931.6v6.5M855.4 931.6v6.5M924 931.6v6.5M718.2 931.6h-6.5M718.2 884.5h-6.5M718.2 837.3h-6.5M718.2 790.2h-6.5M718.2 743h-6.5" stroke="#000" stroke-width="1.5" fill="none"/>
<g font-family='"Liberation Sans", sans-serif' font-size="19.1" fill="#000">
<text x="718.2" y="958.5" text-anchor="middle" textLength="11.7" lengthAdjust="spacingAndGlyphs">0</text>
<text x="786.8" y="958.5" text-anchor="middle" textLength="23.3" lengthAdjust="spacingAndGlyphs">20</text>
<text x="855.4" y="958.5" text-anchor="middle" textLength="23.3" lengthAdjust="spacingAndGlyphs">40</text>
<text x="924" y="958.5" text-anchor="middle" textLength="23.3" lengthAdjust="spacingAndGlyphs">60</text>
<text x="704.4" y="938.5" text-anchor="end" textLength="11.7" lengthAdjust="spacingAndGlyphs">0</text>
<text x="704.4" y="891.3" text-anchor="end" textLength="35" lengthAdjust="spacingAndGlyphs">500</text>
<text x="704.4" y="844.2" text-anchor="end" textLength="46.6" lengthAdjust="spacingAndGlyphs">1000</text>
<text x="704.4" y="797" text-anchor="end" textLength="46.6" lengthAdjust="spacingAndGlyphs">1500</text>
<text x="704.4" y="749.9" text-anchor="end" textLength="46.6" lengthAdjust="spacingAndGlyphs">2000</text>
</g>
<g font-family='"Liberation Sans", sans-serif' font-size="30.5" fill="#a3a3a3">
<text x="846.9" y="759.1" font-style="italic">r</text>
<rect x="847.9" y="736.3" width="12" height="1.7"/>
<text x="867.7" y="759.1" textLength="21" lengthAdjust="spacingAndGlyphs">=</text>
<text x="897.5" y="759.1" textLength="36.4" lengthAdjust="spacingAndGlyphs">48</text>
<text x="847.9" y="792.1" font-style="italic">σ</text>
<text x="874.4" y="792.1" textLength="21" lengthAdjust="spacingAndGlyphs">=</text>
<text x="904.1" y="792.1" textLength="18.2" lengthAdjust="spacingAndGlyphs">7</text>
</g>
<text x="847.2" y="703.6" text-anchor="middle" font-family='"Liberation Sans", sans-serif' font-weight="bold" font-size="31.3" textLength="89.4" lengthAdjust="spacingAndGlyphs">Ss1/2</text>
<text x="847.2" y="996.8" text-anchor="middle" font-family='"Liberation Sans", sans-serif' font-size="30.5" textLength="64" lengthAdjust="spacingAndGlyphs">r (<tspan font-style="italic">Å</tspan>)</text>
<rect x="98.2" y="715.0" width="568.1" height="216.6" fill="#fff"/>
<path d="M98.2 801.3 98.3 820.8 98.5 822.0 98.6 796.5 98.7 794.1 98.8 789.9 99.0 804.0 99.1 797.6 99.2 806.8 99.3 773.2 99.5 811.6 99.6 796.7 99.7 803.3 99.8 793.6 100.0 788.2 100.1 797.2 100.2 802.8 100.3 790.9 100.5 788.7 100.6 797.7 100.7 780.9 100.8 769.9 101.0 788.9 101.1 780.4 101.2 767.3 101.3 773.4 101.5 778.4 101.6 771.5 101.7 766.8 101.8 780.9 102.0 791.7 102.1 782.2 102.2 775.4 102.3 785.1 102.5 790.4 102.6 782.1 102.7 788.6 102.8 794.8 103.0 784.5 103.1 777.0 103.2 786.6 103.3 787.8 103.5 796.2 103.6 775.9 103.7 777.9 103.8 776.9 104.0 769.4 104.1 784.4 104.2 791.5 104.3 781.5 104.5 799.2 104.6 797.8 104.7 795.9 104.8 793.7 105.0 798.5 105.1 778.9 105.2 792.9 105.3 795.8 105.5 775.2 105.6 790.4 105.7 788.3 105.8 797.3 106.0 788.4 106.1 790.6 106.2 794.5 106.3 784.6 106.5 795.3 106.6 790.9 106.7 795.1 106.8 786.5 107.0 799.0 107.1 796.9 107.2 789.0 107.3 794.5 107.5 801.1 107.6 805.0 107.7 777.0 107.8 793.3 108.0 792.4 108.1 786.8 108.2 776.9 108.3 795.7 108.5 775.6 108.6 788.4 108.7 797.6 108.8 771.8 109.0 778.6 109.1 770.1 109.2 782.8 109.3 797.2 109.5 800.3 109.6 771.1 109.7 776.6 109.8 790.7 110.0 802.8 110.1 794.8 110.2 782.7 110.3 791.1 110.5 790.6 110.6 789.4 110.7 784.7 110.8 795.5 111.0 797.7 111.1 794.9 111.2 793.9 111.3 783.9 111.5 790.5 111.6 809.5 111.7 800.2 111.8 786.5 112.0 812.4 112.1 810.3 112.2 822.3 112.3 809.9 112.5 802.1 112.6 791.0 112.7 817.4 112.8 826.2 113.0 804.9 113.1 800.6 113.2 813.2 113.3 800.9 113.5 804.6 113.6 804.8 113.7 811.0 113.8 822.5 114.0 813.3 114.1 821.8 114.2 808.8 114.3 814.9 114.5 791.6 114.6 791.9 114.7 817.7 114.8 807.4 115.0 819.2 115.1 821.5 115.2 831.5 115.3 827.8 115.5 829.9 115.6 817.1 115.7 807.7 115.8 805.7 116.0 808.5 116.1 801.4 116.2 807.4 116.3 814.6 116.5 820.7 116.6 814.7 116.7 796.1 116.8 812.1 117.0 818.7 117.1 829.9 117.2 825.1 117.3 808.6 117.5 803.8 117.6 834.0 117.7 825.0 117.8 831.8 118.0 830.8 118.1 805.7 118.2 811.9 118.3 813.2 118.5 813.8 118.6 813.0 118.7 808.4 118.8 806.5 119.0 787.9 119.1 797.5 119.2 792.8 119.3 800.0 119.5 794.9 119.6 803.8 119.7 806.8 119.8 801.7 120.0 800.2 120.1 797.3 120.2 791.1 120.3 792.0 120.5 788.6 120.6 795.6 120.7 793.0 120.8 797.1 121.0 780.0 121.1 796.1 121.2 784.0 121.3 781.3 121.5 785.0 121.6 782.0 121.7 788.4 121.8 781.6 122.0 775.4 122.1 775.7 122.2 793.7 122.3 785.9 122.5 773.5 122.6 780.5 122.7 768.3 122.8 793.2 123.0 770.2 123.1 781.8 123.2 784.3 123.3 767.6 123.5 778.6 123.6 786.4 123.7 783.1 123.8 780.3 124.0 785.3 124.1 779.0 124.2 778.9 124.3 774.4 124.5 779.9 124.6 766.5 124.7 779.0 124.8 769.4 125.0 761.7 125.1 773.0 125.2 787.2 125.3 782.9 125.5 768.0 125.6 775.9 125.7 766.3 125.8 767.1 126.0 768.8 126.1 750.4 126.2 765.6 126.3 758.0 126.5 759.8 126.6 752.9 126.7 751.3 126.8 756.5 127.0 774.6 127.1 786.3 127.2 772.7 127.3 780.7 127.5 769.5 127.6 752.4 127.7 767.9 127.8 774.2 128.0 767.2 128.1 772.9 128.2 776.8 128.3 764.0 128.4 755.7 128.6 766.1 128.7 768.5 128.8 767.7 128.9 780.5 129.1 789.6 129.2 772.2 129.3 780.5 129.4 785.7 129.6 785.6 129.7 789.9 129.8 777.8 129.9 787.6 130.1 800.1 130.2 795.6 130.3 780.8 130.4 791.3 130.6 801.1 130.7 795.1 130.8 785.5 130.9 806.2 131.1 782.7 131.2 797.1 131.3 795.7 131.4 784.2 131.6 808.2 131.7 805.0 131.8 789.3 131.9 806.1 132.1 799.4 132.2 785.0 132.3 793.5 132.4 805.2 132.6 811.1 132.7 806.9 132.8 804.4 132.9 807.9 133.1 801.2 133.2 813.6 133.3 805.2 133.4 804.6 133.6 806.5 133.7 790.9 133.8 790.9 133.9 811.9 134.1 804.3 134.2 796.6 134.3 800.5 134.4 793.4 134.6 798.5 134.7 790.7 134.8 797.1 134.9 781.8 135.1 803.7 135.2 791.7 135.3 780.0 135.4 788.8 135.6 789.0 135.7 793.0 135.8 782.9 135.9 792.9 136.1 806.0 136.2 786.4 136.3 791.9 136.4 787.7 136.6 790.6 136.7 775.2 136.8 776.9 136.9 790.2 137.1 788.6 137.2 802.3 137.3 785.0 137.4 788.9 137.6 804.2 137.7 785.9 137.8 778.8 137.9 785.1 138.1 786.1 138.2 794.6 138.3 789.3 138.4 779.4 138.6 786.7 138.7 804.2 138.8 804.0 138.9 766.5 139.1 778.6 139.2 774.3 139.3 789.2 139.4 783.5 139.6 804.2 139.7 798.7 139.8 796.8 139.9 788.4 140.1 783.9 140.2 787.3 140.3 799.1 140.4 792.4 140.6 780.2 140.7 798.3 140.8 789.7 140.9 785.6 141.1 777.2 141.2 779.1 141.3 779.5 141.4 768.9 141.6 795.3 141.7 798.7 141.8 791.5 141.9 804.7 142.1 801.4 142.2 800.8 142.3 777.0 142.4 790.0 142.6 802.5 142.7 816.9 142.8 819.2 142.9 820.0 143.1 794.5 143.2 785.2 143.3 805.4 143.4 805.9 143.6 815.8 143.7 808.1 143.8 810.1 143.9 794.5 144.1 810.4 144.2 805.3 144.3 812.4 144.4 815.2 144.6 810.6 144.7 814.2 144.8 812.1 144.9 819.6 145.1 819.0 145.2 809.0 145.3 807.0 145.4 829.8 145.6 816.6 145.7 825.1 145.8 821.3 145.9 811.5 146.1 808.0 146.2 816.3 146.3 819.7 146.4 824.4 146.6 806.9 146.7 810.5 146.8 816.6 146.9 835.2 147.1 801.7 147.2 820.9 147.3 815.6 147.4 824.8 147.6 817.6 147.7 825.3 147.8 839.4 147.9 830.3 148.1 829.6 148.2 829.2 148.3 818.2 148.4 829.3 148.6 824.4 148.7 817.7 148.8 824.5 148.9 824.4 149.1 834.4 149.2 828.9 149.3 823.4 149.4 842.2 149.6 841.7 149.7 844.7 149.8 839.2 149.9 831.4 150.1 827.2 150.2 828.1 150.3 840.5 150.4 835.3 150.6 819.3 150.7 830.3 150.8 819.7 150.9 833.1 151.1 822.0 151.2 818.5 151.3 830.2 151.4 830.0 151.6 814.3 151.7 833.2 151.8 845.8 151.9 817.9 152.1 841.7 152.2 822.4 152.3 819.7 152.4 821.4 152.6 809.4 152.7 831.5 152.8 827.8 152.9 815.0 153.1 816.1 153.2 804.3 153.3 811.9 153.4 824.3 153.6 802.2 153.7 808.6 153.8 814.4 153.9 822.9 154.1 826.6 154.2 810.6 154.3 804.2 154.4 812.8 154.6 806.7 154.7 805.2 154.8 816.7 154.9 823.4 155.1 811.8 155.2 804.6 155.3 809.3 155.4 787.7 155.6 799.4 155.7 791.8 155.8 817.6 155.9 810.5 156.1 802.7 156.2 797.5 156.3 781.2 156.4 798.7 156.6 810.9 156.7 791.7 156.8 799.8 156.9 801.1 157.1 780.4 157.2 797.8 157.3 804.9 157.4 796.3 157.6 792.0 157.7 798.5 157.8 779.5 157.9 789.8 158.1 800.0 158.2 782.4 158.3 797.7 158.4 788.8 158.6 775.3 158.7 786.4 158.8 781.9 158.9 791.5 159.1 781.2 159.2 797.2 159.3 785.8 159.4 792.3 159.6 785.9 159.7 786.8 159.8 798.8 159.9 793.4 160.1 787.6 160.2 779.8 160.3 796.6 160.4 796.7 160.6 788.3 160.7 791.0 160.8 781.2 160.9 779.1 161.1 780.0 161.2 789.8 161.3 791.2 161.4 782.4 161.6 793.3 161.7 795.9 161.8 790.9 161.9 797.5 162.1 786.8 162.2 786.1 162.3 791.3 162.4 787.5 162.6 794.4 162.7 776.2 162.8 798.1 162.9 781.0 163.1 783.4 163.2 771.6 163.3 788.9 163.4 799.3 163.6 799.8 163.7 798.0 163.8 774.5 163.9 778.1 164.1 782.6 164.2 779.5 164.3 799.0 164.4 794.5 164.6 792.2 164.7 796.9 164.8 785.3 164.9 784.1 165.1 784.7 165.2 797.5 165.3 799.1 165.4 802.0 165.6 807.2 165.7 788.4 165.8 791.9 165.9 799.0 166.1 788.9 166.2 794.0 166.3 807.7 166.4 811.5 166.6 812.6 166.7 805.8 166.8 803.1 166.9 813.9 167.1 804.9 167.2 809.8 167.3 820.3 167.4 808.3 167.6 804.4 167.7 809.8 167.8 817.4 167.9 818.7 168.1 816.6 168.2 821.0 168.3 800.8 168.4 804.9 168.6 817.1 168.7 808.6 168.8 803.0 168.9 803.9 169.1 807.9 169.2 817.7 169.3 810.7 169.4 824.6 169.6 845.7 169.7 828.1 169.8 840.4 169.9 829.6 170.1 808.5 170.2 813.9 170.3 804.4 170.4 823.9 170.6 801.5 170.7 828.6 170.8 823.0 170.9 786.4 171.1 814.9 171.2 830.6 171.3 799.7 171.4 817.5 171.6 779.9 171.7 800.7 171.8 775.5 171.9 800.9 172.1 770.8 172.2 768.9 172.3 791.1 172.4 820.0 172.6 788.9 172.7 802.4 172.8 793.2 172.9 785.1 173.1 798.3 173.2 816.5 173.3 777.5 173.4 796.6 173.6 797.4 173.7 773.0 173.8 810.8 173.9 816.7 174.1 786.3 174.2 814.7 174.3 798.8 174.4 793.2 174.6 812.9 174.7 801.4 174.8 800.6 174.9 814.4 175.1 814.4 175.2 810.1 175.3 784.8 175.4 778.8 175.6 805.9 175.7 790.8 175.8 798.8 175.9 789.1 176.1 796.0 176.2 787.5 176.3 813.0 176.4 794.2 176.6 798.9 176.7 799.6 176.8 812.4 176.9 792.3 177.1 800.7 177.2 801.2 177.3 807.9 177.4 809.0 177.6 801.9 177.7 806.5 177.8 802.8 177.9 809.1 178.1 806.2 178.2 801.7 178.3 806.0 178.4 810.1 178.6 822.1 178.7 808.3 178.8 811.0 178.9 820.0 179.1 797.1 179.2 796.1 179.3 798.3 179.4 807.4 179.6 826.3 179.7 818.7 179.8 823.7 179.9 812.8 180.1 796.1 180.2 796.1 180.3 817.8 180.4 816.5 180.6 801.9 180.7 823.3 180.8 800.9 180.9 824.4 181.1 833.2 181.2 811.2 181.3 803.0 181.4 823.8 181.6 805.8 181.7 825.5 181.8 805.0 181.9 825.7 182.1 821.4 182.2 813.8 182.3 806.3 182.4 818.5 182.6 796.1 182.7 809.6 182.8 810.9 182.9 823.2 183.1 803.6 183.2 832.3 183.3 815.5 183.4 803.3 183.6 827.0 183.7 833.3 183.8 816.2 183.9 805.7 184.1 812.2 184.2 806.6 184.3 808.8 184.4 825.8 184.6 818.3 184.7 814.4 184.8 815.0 184.9 811.5 185.1 817.7 185.2 818.8 185.3 809.6 185.4 811.9 185.6 827.3 185.7 820.0 185.8 812.5 185.9 829.9 186.1 817.4 186.2 804.1 186.3 819.0 186.4 806.5 186.6 808.3 186.7 817.7 186.8 815.1 186.9 807.7 187.1 808.8 187.2 808.7 187.3 830.2 187.4 811.9 187.6 810.2 187.7 842.2 187.8 817.3 187.9 839.6 188.1 842.5 188.2 823.2 188.3 801.6 188.4 824.3 188.6 832.7 188.7 839.3 188.8 827.6 188.9 843.2 189.1 850.0 189.2 812.7 189.3 845.9 189.4 831.7 189.6 815.7 189.7 815.7 189.8 848.4 189.9 840.4 190.1 796.2 190.2 814.4 190.3 813.8 190.4 812.3 190.6 806.5 190.7 792.0 190.8 818.9 190.9 800.1 191.1 802.8 191.2 799.7 191.3 796.8 191.4 812.5 191.6 810.4 191.7 797.4 191.8 791.2 191.9 794.3 192.1 808.4 192.2 801.8 192.3 800.5 192.4 794.2 192.6 792.8 192.7 796.0 192.8 777.6 192.9 803.7 193.1 787.0 193.2 784.8 193.3 800.3 193.4 792.9 193.6 789.1 193.7 782.1 193.8 771.5 193.9 783.7 194.1 794.1 194.2 777.4 194.3 792.6 194.4 773.7 194.6 772.5 194.7 782.0 194.8 778.9 194.9 783.3 195.1 771.4 195.2 765.8 195.3 758.9 195.4 760.0 195.6 761.0 195.7 758.2 195.8 772.4 195.9 767.6 196.1 758.1 196.2 789.1 196.3 770.8 196.4 763.7 196.6 782.8 196.7 786.3 196.8 768.6 196.9 762.9 197.1 765.8 197.2 783.7 197.3 776.1 197.4 771.0 197.6 776.4 197.7 787.5 197.8 769.7 197.9 774.3 198.1 767.7 198.2 794.3 198.3 794.8 198.4 791.3 198.6 782.1 198.7 786.6 198.8 767.2 198.9 781.4 199.1 772.0 199.2 770.5 199.3 775.5 199.4 779.7 199.6 788.6 199.7 792.0 199.8 789.4 199.9 778.9 200.1 791.2 200.2 787.1 200.3 798.3 200.4 782.1 200.6 771.9 200.7 779.5 200.8 807.0 200.9 798.4 201.1 790.6 201.2 799.8 201.3 798.4 201.4 798.2 201.6 788.9 201.7 793.3 201.8 795.8 201.9 788.7 202.1 783.2 202.2 796.7 202.3 809.9 202.4 810.4 202.6 810.0 202.7 811.4 202.8 827.3 202.9 816.7 203.1 823.6 203.2 833.0 203.3 817.6 203.4 817.4 203.6 829.6 203.7 840.7 203.8 827.0 203.9 825.7 204.1 822.6 204.2 803.2 204.3 836.5 204.4 822.9 204.6 797.4 204.7 818.9 204.8 799.0 204.9 806.5 205.1 825.0 205.2 812.0 205.3 841.1 205.4 804.9 205.6 824.3 205.7 831.5 205.8 845.2 205.9 838.5 206.1 826.0 206.2 820.3 206.3 816.2 206.4 830.3 206.6 808.4 206.7 818.1 206.8 811.3 206.9 812.9 207.1 806.3 207.2 827.8 207.3 803.6 207.4 807.1 207.6 806.9 207.7 809.0 207.8 806.6 207.9 804.8 208.1 808.2 208.2 786.3 208.3 795.0 208.4 785.4 208.6 795.9 208.7 785.2 208.8 784.6 208.9 791.9 209.1 805.6 209.2 800.8 209.3 796.9 209.4 805.3 209.6 786.3 209.7 775.1 209.8 783.3 209.9 786.3 210.1 799.4 210.2 804.8 210.3 781.3 210.4 803.6 210.6 803.1 210.7 797.4 210.8 791.6 210.9 801.3 211.1 790.2 211.2 781.8 211.3 785.3 211.4 773.5 211.6 786.4 211.7 784.2 211.8 787.4 211.9 788.2 212.1 776.7 212.2 794.0 212.3 778.2 212.4 790.8 212.6 772.8 212.7 785.4 212.8 778.1 212.9 783.8 213.1 779.2 213.2 769.1 213.3 771.7 213.4 782.7 213.6 789.5 213.7 773.5 213.8 769.1 213.9 773.6 214.1 780.8 214.2 778.7 214.3 776.8 214.4 790.9 214.6 795.3 214.7 794.8 214.8 781.1 214.9 787.5 215.1 787.0 215.2 776.7 215.3 795.2 215.4 792.5 215.6 787.5 215.7 803.8 215.8 801.9 215.9 802.9 216.1 806.8 216.2 803.8 216.3 785.7 216.4 790.6 216.6 804.9 216.7 791.9 216.8 797.3 216.9 802.3 217.1 813.7 217.2 815.2 217.3 812.3 217.4 801.9 217.6 809.2 217.7 806.2 217.8 798.1 217.9 810.5 218.1 803.8 218.2 789.4 218.3 805.7 218.4 793.1 218.6 798.2 218.7 777.2 218.8 787.3 218.9 779.1 219.1 776.3 219.2 768.4 219.3 804.0 219.4 787.3 219.6 787.2 219.7 795.5 219.8 783.5 219.9 786.9 220.1 767.0 220.2 778.7 220.3 773.7 220.4 781.8 220.6 779.3 220.7 762.6 220.8 757.9 220.9 762.6 221.1 782.6 221.2 783.5 221.3 783.8 221.4 760.8 221.6 761.4 221.7 767.8 221.8 774.6 221.9 773.8 222.1 782.9 222.2 780.1 222.3 770.7 222.4 772.0 222.6 781.7 222.7 783.2 222.8 782.6 222.9 799.1 223.1 785.4 223.2 785.5 223.3 776.9 223.4 780.6 223.6 788.6 223.7 790.7 223.8 786.0 223.9 789.7 224.1 788.3 224.2 773.6 224.3 773.8 224.4 800.8 224.6 798.0 224.7 791.0 224.8 777.2 224.9 778.4 225.1 799.1 225.2 777.3 225.3 785.8 225.4 798.1 225.6 795.4 225.7 799.9 225.8 794.5 225.9 809.2 226.1 791.0 226.2 784.5 226.3 796.1 226.4 807.6 226.6 799.0 226.7 806.1 226.8 796.0 226.9 789.7 227.1 809.1 227.2 815.1 227.3 816.8 227.4 802.5 227.6 794.6 227.7 793.5 227.8 801.6 227.9 810.5 228.1 812.4 228.2 797.6 228.3 808.8 228.4 810.3 228.6 811.9 228.7 812.0 228.8 811.3 228.9 818.6 229.1 816.9 229.2 818.1 229.3 811.2 229.4 819.9 229.6 817.9 229.7 803.0 229.8 820.9 229.9 818.9 230.1 830.1 230.2 822.9 230.3 822.7 230.4 826.3 230.6 825.5 230.7 821.2 230.8 806.8 230.9 844.0 231.1 813.5 231.2 822.1 231.3 836.4 231.4 836.7 231.6 839.9 231.7 844.0 231.8 852.2 231.9 841.8 232.1 859.2 232.2 829.7 232.3 838.3 232.4 832.2 232.6 828.7 232.7 841.1 232.8 862.5 232.9 833.7 233.1 827.8 233.2 848.2 233.3 848.5 233.4 863.8 233.6 857.7 233.7 843.4 233.8 832.3 233.9 836.7 234.1 831.8 234.2 815.4 234.3 828.7 234.4 828.5 234.6 827.1 234.7 824.1 234.8 845.8 234.9 838.4 235.1 838.4 235.2 822.5 235.3 815.1 235.4 820.0 235.6 824.9 235.7 820.2 235.8 820.0 235.9 828.0 236.1 823.8 236.2 813.9 236.3 816.3 236.4 815.5 236.6 822.0 236.7 813.3 236.8 819.6 236.9 828.4 237.1 825.2 237.2 817.0 237.3 818.1 237.4 825.3 237.6 830.4 237.7 835.3 237.8 827.6 237.9 815.2 238.1 839.6 238.2 834.1 238.3 834.6 238.4 834.1 238.6 820.4 238.7 825.6 238.8 833.2 238.9 843.8 239.1 835.7 239.2 812.6 239.3 823.3 239.4 834.3 239.6 846.2 239.7 841.4 239.8 849.5 239.9 848.5 240.1 846.7 240.2 841.0 240.3 815.6 240.4 832.4 240.6 832.6 240.7 821.0 240.8 828.8 240.9 828.1 241.1 819.2 241.2 820.0 241.3 818.3 241.4 821.7 241.6 816.1 241.7 822.7 241.8 802.8 241.9 812.0 242.1 802.0 242.2 809.1 242.3 817.7 242.4 815.0 242.6 812.8 242.7 813.2 242.8 824.3 242.9 805.3 243.1 816.4 243.2 799.3 243.3 803.5 243.4 808.7 243.6 801.2 243.7 807.5 243.8 812.3 243.9 797.4 244.1 802.8 244.2 800.9 244.3 788.5 244.4 798.2 244.6 794.8 244.7 810.9 244.8 795.6 244.9 812.9 245.1 797.6 245.2 814.1 245.3 805.5 245.4 802.5 245.6 804.6 245.7 805.6 245.8 809.8 245.9 811.6 246.1 796.2 246.2 785.0 246.3 779.3 246.4 786.6 246.6 799.3 246.7 798.4 246.8 795.8 246.9 791.0 247.1 787.3 247.2 789.4 247.3 795.4 247.4 777.7 247.6 795.6 247.7 779.8 247.8 787.8 247.9 785.0 248.1 786.5 248.2 780.6 248.3 778.2 248.4 785.6 248.6 779.3 248.7 806.5 248.8 790.4 248.9 784.6 249.1 784.5 249.2 780.1 249.3 774.7 249.4 784.2 249.6 792.6 249.7 778.7 249.8 789.2 249.9 781.0 250.1 789.7 250.2 795.0 250.3 797.2 250.4 797.4 250.6 787.9 250.7 799.6 250.8 790.9 250.9 796.1 251.1 800.2 251.2 792.8 251.3 783.3 251.4 797.4 251.6 786.0 251.7 785.8 251.8 783.9 251.9 799.6 252.1 794.4 252.2 779.5 252.3 797.0 252.4 810.0 252.6 809.9 252.7 793.6 252.8 794.9 252.9 798.6 253.1 802.4 253.2 796.3 253.3 786.0 253.4 798.6 253.6 800.0 253.7 784.9 253.8 789.4 253.9 795.3 254.1 794.3 254.2 798.2 254.3 801.0 254.4 799.5 254.6 794.1 254.7 783.6 254.8 796.5 254.9 804.7 255.1 807.8 255.2 796.1 255.3 792.9 255.4 803.3 255.6 805.0 255.7 796.7 255.8 797.7 255.9 786.3 256.1 794.1 256.2 784.6 256.3 787.6 256.4 788.1 256.6 785.3 256.7 774.5 256.8 778.8 256.9 788.8 257.1 787.5 257.2 784.4 257.3 789.8 257.4 792.6 257.6 794.1 257.7 781.5 257.8 785.1 257.9 782.8 258.1 777.9 258.2 771.9 258.3 781.3 258.4 776.9 258.6 799.3 258.7 786.3 258.8 782.4 258.9 780.0 259.1 797.7 259.2 778.2 259.3 780.4 259.4 775.7 259.6 779.8 259.7 781.2 259.8 790.8 259.9 771.3 260.1 779.0 260.2 794.3 260.3 779.0 260.4 778.6 260.6 772.1 260.7 763.8 260.8 773.8 260.9 788.7 261.1 776.9 261.2 763.0 261.3 778.5 261.4 780.2 261.6 788.9 261.7 790.0 261.8 779.8 261.9 783.9 262.1 765.2 262.2 787.6 262.3 783.9 262.4 791.3 262.6 792.7 262.7 781.1 262.8 780.2 262.9 773.7 263.1 765.5 263.2 776.9 263.3 782.6 263.4 772.8 263.6 787.0 263.7 784.5 263.8 787.3 263.9 777.1 264.1 766.9 264.2 786.9 264.3 789.7 264.4 784.1 264.6 780.4 264.7 781.1 264.8 782.6 264.9 779.8 265.1 768.8 265.2 788.2 265.3 772.9 265.4 780.1 265.6 782.0 265.7 787.4 265.8 772.6 265.9 793.9 266.1 793.6 266.2 794.7 266.3 799.3 266.4 782.9 266.6 771.8 266.7 785.0 266.8 798.3 266.9 799.8 267.1 786.2 267.2 787.3 267.3 790.9 267.4 774.2 267.6 780.7 267.7 782.6 267.8 803.7 267.9 787.6 268.1 806.0 268.2 795.1 268.3 776.1 268.4 811.9 268.6 787.1 268.7 799.3 268.8 814.3 268.9 792.8 269.1 780.7 269.2 805.0 269.3 798.9 269.4 782.2 269.6 780.7 269.7 789.3 269.8 808.8 269.9 796.9 270.1 807.4 270.2 823.6 270.3 822.3 270.4 824.8 270.6 822.4 270.7 783.8 270.8 814.2 270.9 808.7 271.1 802.1 271.2 789.3 271.3 781.4 271.4 786.1 271.6 800.4 271.7 790.4 271.8 793.0 271.9 796.3 272.1 811.0 272.2 804.1 272.3 804.7 272.4 819.6 272.6 806.8 272.7 813.3 272.8 799.7 272.9 809.9 273.1 810.3 273.2 811.2 273.3 806.4 273.4 801.6 273.6 806.7 273.7 806.7 273.8 818.9 273.9 820.9 274.1 804.5 274.2 816.6 274.3 810.1 274.4 817.2 274.6 810.9 274.7 801.1 274.8 821.6 274.9 821.2 275.1 806.0 275.2 799.4 275.3 808.1 275.4 804.4 275.6 811.8 275.7 823.4 275.8 834.6 275.9 819.0 276.1 833.9 276.2 835.2 276.3 819.3 276.4 803.3 276.6 827.2 276.7 829.3 276.8 840.4 276.9 839.6 277.1 831.8 277.2 837.9 277.3 810.3 277.4 817.3 277.6 813.0 277.7 833.3 277.8 823.9 277.9 793.6 278.1 821.1 278.2 803.6 278.3 817.7 278.4 806.2 278.6 811.1 278.7 815.7 278.8 811.1 278.9 797.2 279.1 819.2 279.2 812.1 279.3 805.5 279.4 811.4 279.6 798.4 279.7 821.3 279.8 808.0 279.9 807.5 280.1 807.6 280.2 795.2 280.3 790.8 280.4 804.4 280.6 808.8 280.7 819.5 280.8 813.6 280.9 798.8 281.1 811.0 281.2 816.4 281.3 819.4 281.4 814.6 281.6 801.4 281.7 818.7 281.8 807.4 281.9 815.9 282.1 801.8 282.2 817.0 282.3 809.3 282.4 821.4 282.6 828.4 282.7 826.4 282.8 811.2 282.9 809.8 283.1 810.0 283.2 820.5 283.3 820.7 283.4 819.7 283.6 820.7 283.7 823.2 283.8 824.6 283.9 833.3 284.1 821.5 284.2 821.3 284.3 804.2 284.4 805.1 284.6 810.7 284.7 807.5 284.8 819.6 284.9 830.0 285.1 818.4 285.2 815.6 285.3 814.9 285.4 821.3 285.6 815.8 285.7 824.9 285.8 825.6 285.9 826.5 286.1 830.7 286.2 823.1 286.3 822.2 286.4 838.3 286.6 822.2 286.7 827.1 286.8 819.9 286.9 812.7 287.1 810.9 287.2 806.4 287.3 813.2 287.4 808.1 287.6 808.3 287.7 823.3 287.8 813.0 287.9 822.2 288.1 815.4 288.2 818.9 288.3 805.8 288.4 809.4 288.6 824.4 288.7 819.2 288.8 817.7 288.9 810.3 289.1 813.4 289.2 796.8 289.3 795.5 289.4 805.5 289.6 810.4 289.7 800.3 289.8 799.7 289.9 797.5 290.1 798.1 290.2 788.6 290.3 784.0 290.4 794.7 290.6 781.2 290.7 784.9 290.8 788.0 290.9 784.4 291.1 795.3 291.2 790.5 291.3 792.5 291.4 783.3 291.6 783.5 291.7 795.3 291.8 795.8 291.9 787.1 292.1 793.2 292.2 792.1 292.3 791.5 292.4 805.8 292.6 788.5 292.7 793.2 292.8 794.0 292.9 787.6 293.1 777.1 293.2 793.2 293.3 792.1 293.4 789.7 293.6 788.9 293.7 788.7 293.8 779.8 293.9 789.3 294.1 771.3 294.2 784.4 294.3 773.3 294.4 781.6 294.6 793.1 294.7 786.3 294.8 782.9 294.9 791.2 295.1 785.7 295.2 783.3 295.3 782.9 295.4 800.2 295.6 796.7 295.7 794.8 295.8 780.7 295.9 793.8 296.1 781.0 296.2 793.7 296.3 783.7 296.4 807.0 296.6 783.2 296.7 801.8 296.8 802.7 296.9 783.8 297.1 792.2 297.2 806.9 297.3 808.0 297.4 788.5 297.6 793.4 297.7 790.5 297.8 791.5 297.9 795.0 298.1 812.9 298.2 805.5 298.3 802.3 298.4 801.5 298.6 806.9 298.7 807.5 298.8 796.3 298.9 809.4 299.1 794.0 299.2 795.7 299.3 800.5 299.4 809.9 299.6 796.4 299.7 797.6 299.8 804.8 299.9 800.5 300.1 802.9 300.2 802.2 300.3 795.3 300.4 796.3 300.6 798.1 300.7 790.2 300.8 801.4 300.9 773.1 301.1 775.5 301.2 795.6 301.3 790.3 301.4 779.2 301.6 785.3 301.7 793.4 301.8 780.6 301.9 790.3 302.1 784.5 302.2 783.7 302.3 784.2 302.4 795.5 302.6 777.4 302.7 781.0 302.8 791.6 302.9 776.4 303.1 770.5 303.2 789.5 303.3 788.3 303.4 787.0 303.6 789.8 303.7 779.8 303.8 808.0 303.9 785.5 304.1 785.0 304.2 775.4 304.3 783.7 304.4 804.9 304.6 794.5 304.7 798.5 304.8 788.7 304.9 810.3 305.1 798.2 305.2 781.7 305.3 799.0 305.4 791.2 305.6 799.5 305.7 796.8 305.8 797.6 305.9 796.7 306.1 787.0 306.2 779.8 306.3 801.5 306.4 795.8 306.6 798.7 306.7 792.8 306.8 781.0 306.9 782.2 307.1 806.2 307.2 792.6 307.3 793.5 307.4 785.0 307.6 791.3 307.7 794.1 307.8 796.1 307.9 797.9 308.1 794.1 308.2 794.1 308.3 798.4 308.4 802.0 308.6 799.2 308.7 814.3 308.8 804.7 308.9 802.5 309.1 794.9 309.2 808.5 309.3 792.7 309.4 784.1 309.6 788.0 309.7 804.2 309.8 790.3 309.9 811.9 310.1 803.1 310.2 785.8 310.3 795.8 310.4 819.6 310.6 795.8 310.7 785.9 310.8 804.4 310.9 817.4 311.1 817.0 311.2 801.2 311.3 804.3 311.4 806.3 311.6 816.5 311.7 823.6 311.8 805.4 311.9 816.6 312.1 799.8 312.2 806.7 312.3 790.9 312.4 789.6 312.6 801.9 312.7 790.1 312.8 806.5 312.9 794.4 313.1 798.3 313.2 797.2 313.3 794.2 313.4 798.1 313.6 807.9 313.7 815.6 313.8 791.7 313.9 798.2 314.1 794.8 314.2 787.2 314.3 796.4 314.4 787.6 314.6 792.3 314.7 804.3 314.8 777.5 314.9 791.4 315.1 795.2 315.2 783.3 315.3 793.1 315.4 792.9 315.6 786.4 315.7 797.6 315.8 778.1 315.9 789.9 316.1 784.4 316.2 776.0 316.3 780.9 316.4 779.9 316.6 788.5 316.7 771.1 316.8 777.4 316.9 776.1 317.1 791.1 317.2 772.5 317.3 785.1 317.4 765.3 317.6 776.9 317.7 775.9 317.8 780.0 317.9 772.5 318.1 763.5 318.2 763.7 318.3 786.1 318.4 782.1 318.6 772.5 318.7 785.8 318.8 774.6 318.9 772.6 319.1 768.1 319.2 788.8 319.3 798.8 319.4 776.4 319.6 783.3 319.7 791.5 319.8 800.8 319.9 766.0 320.1 780.5 320.2 789.0 320.3 770.1 320.4 785.2 320.6 786.4 320.7 792.3 320.8 780.3 320.9 788.2 321.1 779.6 321.2 790.3 321.3 788.1 321.4 782.4 321.6 771.1 321.7 799.6 321.8 800.0 321.9 798.0 322.1 782.5 322.2 782.6 322.3 802.8 322.4 797.8 322.6 781.3 322.7 787.0 322.8 789.2 322.9 786.5 323.1 779.0 323.2 798.9 323.3 796.6 323.4 788.8 323.6 774.2 323.7 780.9 323.8 787.9 323.9 797.2 324.1 787.0 324.2 798.5 324.3 791.4 324.4 781.5 324.6 771.2 324.7 770.9 324.8 770.5 324.9 781.4 325.1 787.8 325.2 798.2 325.3 787.3 325.4 774.7 325.6 801.3 325.7 790.1 325.8 782.3 325.9 780.4 326.1 770.3 326.2 785.1 326.3 785.4 326.4 795.4 326.6 792.9 326.7 790.1 326.8 792.4 326.9 779.9 327.1 776.9 327.2 780.0 327.3 771.3 327.4 779.2 327.6 779.8 327.7 788.7 327.8 785.4 327.9 770.4 328.1 783.1 328.2 797.7 328.3 774.3 328.4 779.1 328.6 787.0 328.7 778.0 328.8 783.2 328.9 789.8 329.1 780.2 329.2 792.2 329.3 796.1 329.4 783.6 329.6 792.3 329.7 803.3 329.8 795.6 329.9 799.7 330.1 802.8 330.2 796.8 330.3 806.5 330.4 804.0 330.6 792.2 330.7 803.6 330.8 809.6 330.9 811.0 331.1 798.7 331.2 807.0 331.3 817.8 331.4 810.0 331.6 818.1 331.7 821.6 331.8 810.0 331.9 815.1 332.1 807.4 332.2 820.0 332.3 811.6 332.4 805.7 332.6 810.5 332.7 811.6 332.8 817.2 332.9 819.9 333.1 803.5 333.2 805.9 333.3 816.6 333.4 819.5 333.6 815.3 333.7 832.9 333.8 830.2 333.9 814.1 334.1 819.3 334.2 826.8 334.3 816.8 334.4 790.4 334.6 805.5 334.7 807.5 334.8 827.6 334.9 789.8 335.1 820.1 335.2 805.9 335.3 815.3 335.4 802.3 335.6 804.7 335.7 816.0 335.8 805.3 335.9 814.3 336.1 802.0 336.2 795.0 336.3 796.1 336.4 794.1 336.6 799.1 336.7 818.2 336.8 793.7 336.9 784.6 337.1 801.9 337.2 824.9 337.3 823.2 337.4 826.5 337.6 827.1 337.7 807.4 337.8 813.1 337.9 795.3 338.1 803.7 338.2 819.7 338.3 802.9 338.4 800.6 338.6 802.9 338.7 819.2 338.8 831.7 338.9 838.7 339.1 839.5 339.2 815.3 339.3 809.9 339.4 823.4 339.6 834.4 339.7 814.5 339.8 819.5 339.9 821.0 340.1 825.2 340.2 824.2 340.3 829.5 340.4 834.8 340.6 827.9 340.7 831.8 340.8 839.7 340.9 820.4 341.1 815.8 341.2 827.1 341.3 839.1 341.4 829.0 341.6 834.0 341.7 823.9 341.8 831.4 341.9 820.8 342.1 828.7 342.2 828.0 342.3 827.7 342.4 835.1 342.6 834.4 342.7 821.7 342.8 830.8 342.9 812.8 343.1 830.4 343.2 839.3 343.3 834.4 343.4 831.7 343.6 827.8 343.7 833.5 343.8 824.5 343.9 832.1 344.1 826.1 344.2 823.8 344.3 828.1 344.4 827.7 344.6 813.6 344.7 843.3 344.8 833.1 344.9 815.4 345.1 836.1 345.2 830.8 345.3 832.0 345.4 836.9 345.6 823.9 345.7 813.6 345.8 826.8 345.9 835.8 346.1 846.0 346.2 833.1 346.3 836.3 346.4 844.5 346.6 840.7 346.7 841.9 346.8 848.3 346.9 838.7 347.1 863.3 347.2 844.9 347.3 852.0 347.4 851.1 347.6 848.3 347.7 861.7 347.8 870.0 347.9 877.1 348.1 870.5 348.2 859.4 348.3 871.5 348.4 850.9 348.6 863.1 348.7 871.4 348.8 874.3 348.9 857.7 349.1 851.5 349.2 884.6 349.3 868.9 349.4 854.5 349.6 856.7 349.7 871.5 349.8 886.8 349.9 875.3 350.1 884.4 350.2 874.5 350.3 873.7 350.4 877.3 350.6 862.8 350.7 865.3 350.8 857.6 350.9 852.4 351.1 862.5 351.2 848.9 351.3 853.5 351.4 844.9 351.6 848.3 351.7 843.7 351.8 855.9 351.9 848.8 352.1 846.9 352.2 859.8 352.3 827.4 352.4 829.7 352.6 826.4 352.7 837.3 352.8 844.6 352.9 847.3 353.1 844.2 353.2 833.5 353.3 852.8 353.4 844.1 353.6 837.2 353.7 828.4 353.8 838.7 353.9 832.9 354.1 831.6 354.2 836.1 354.3 836.6 354.4 828.0 354.6 842.1 354.7 826.8 354.8 822.5 354.9 832.1 355.1 832.2 355.2 831.4 355.3 827.2 355.4 829.4 355.6 824.8 355.7 815.2 355.8 831.1 355.9 820.5 356.1 823.9 356.2 831.6 356.3 827.3 356.4 839.9 356.6 818.6 356.7 817.6 356.8 823.4 356.9 833.8 357.1 823.2 357.2 811.7 357.3 828.6 357.4 815.8 357.6 818.4 357.7 826.7 357.8 816.2 357.9 815.3 358.1 821.9 358.2 817.6 358.3 820.2 358.4 810.8 358.6 815.0 358.7 807.8 358.8 802.3 358.9 827.2 359.1 821.5 359.2 823.8 359.3 808.7 359.4 812.9 359.6 812.0 359.7 801.4 359.8 815.2 359.9 807.1 360.1 809.4 360.2 798.4 360.3 817.2 360.4 818.7 360.6 815.6 360.7 803.3 360.8 803.7 360.9 818.9 361.1 808.4 361.2 810.8 361.3 811.0 361.4 800.1 361.6 823.2 361.7 795.1 361.8 811.3 361.9 812.1 362.1 797.4 362.2 814.9 362.3 821.1 362.4 818.1 362.6 808.6 362.7 821.2 362.8 832.0 362.9 824.8 363.1 841.2 363.2 835.6 363.3 834.1 363.4 842.1 363.6 819.4 363.7 817.0 363.8 830.2 363.9 833.6 364.1 847.9 364.2 847.0 364.3 834.5 364.4 831.3 364.6 823.3 364.7 819.8 364.8 817.2 364.9 832.9 365.1 818.0 365.2 815.6 365.3 820.6 365.4 812.7 365.6 813.7 365.7 795.2 365.8 814.6 365.9 810.7 366.1 814.8 366.2 816.6 366.3 791.9 366.4 829.3 366.6 815.2 366.7 811.3 366.8 789.5 366.9 809.1 367.1 809.9 367.2 801.7 367.3 805.2 367.4 815.0 367.6 801.2 367.7 792.6 367.8 811.6 367.9 804.9 368.1 798.9 368.2 814.7 368.3 804.2 368.4 797.4 368.6 799.6 368.7 793.3 368.8 797.3 368.9 797.0 369.1 789.0 369.2 790.5 369.3 795.5 369.4 796.6 369.6 798.2 369.7 799.8 369.8 794.7 369.9 795.6 370.1 787.2 370.2 786.1 370.3 796.9 370.4 771.7 370.6 787.2 370.7 802.4 370.8 776.6 370.9 798.6 371.1 774.5 371.2 788.4 371.3 802.3 371.4 803.4 371.6 783.6 371.7 776.2 371.8 773.7 371.9 792.0 372.1 786.2 372.2 788.6 372.3 791.4 372.4 793.3 372.6 794.9 372.7 791.9 372.8 776.8 372.9 799.8 373.1 774.1 373.2 796.7 373.3 786.9 373.4 788.5 373.6 786.3 373.7 787.2 373.8 790.3 373.9 788.7 374.1 781.5 374.2 796.5 374.3 787.3 374.4 802.0 374.6 792.1 374.7 785.3 374.8 793.9 374.9 799.6 375.1 784.7 375.2 787.4 375.3 803.2 375.4 784.7 375.6 782.2 375.7 790.9 375.8 780.1 375.9 773.8 376.1 773.7 376.2 790.6 376.3 797.3 376.4 798.0 376.6 796.3 376.7 780.6 376.8 795.7 376.9 803.4 377.1 787.4 377.2 800.2 377.3 790.3 377.4 793.9 377.6 796.5 377.7 779.1 377.8 804.6 377.9 787.2 378.1 791.3 378.2 788.4 378.3 797.3 378.4 799.1 378.6 795.5 378.7 808.8 378.8 800.4 378.9 792.1 379.1 776.3 379.2 786.6 379.3 790.9 379.4 786.1 379.6 785.3 379.7 800.1 379.8 807.8 379.9 814.4 380.1 811.5 380.2 790.9 380.3 796.1 380.4 780.1 380.6 797.7 380.7 796.8 380.8 786.3 380.9 788.8 381.1 787.3 381.2 782.5 381.3 801.0 381.4 806.4 381.6 802.8 381.7 800.7 381.8 790.7 381.9 782.9 382.1 803.0 382.2 784.9 382.3 787.8 382.4 782.6 382.6 788.2 382.7 782.3 382.8 787.1 382.9 768.6 383.1 776.9 383.2 794.0 383.3 773.6 383.4 773.7 383.6 794.5 383.7 789.5 383.8 795.5 383.9 765.8 384.1 782.4 384.2 772.6 384.3 770.0 384.4 787.4 384.6 798.6 384.7 775.8 384.8 775.5 384.9 780.9 385.1 786.7 385.2 777.1 385.3 807.3 385.4 800.3 385.6 790.3 385.7 787.3 385.8 809.3 385.9 809.8 386.1 794.5 386.2 797.7 386.3 806.8 386.4 787.0 386.6 788.7 386.7 806.8 386.8 792.3 386.9 792.0 387.1 783.9 387.2 787.9 387.3 802.2 387.4 791.5 387.6 785.2 387.7 790.4 387.8 814.0 387.9 804.3 388.1 795.7 388.2 801.0 388.3 805.0 388.4 803.1 388.6 784.8 388.7 801.3 388.8 800.1 388.9 810.2 389.1 791.5 389.2 811.1 389.3 800.6 389.4 786.7 389.6 815.0 389.7 802.3 389.8 809.6 389.9 805.8 390.1 819.5 390.2 823.1 390.3 824.8 390.4 821.1 390.6 792.9 390.7 788.6 390.8 808.8 390.9 799.2 391.1 815.9 391.2 816.0 391.3 795.2 391.4 796.4 391.6 795.5 391.7 799.0 391.8 809.8 391.9 825.5 392.1 839.1 392.2 807.8 392.3 807.9 392.4 840.0 392.6 835.7 392.7 824.6 392.8 791.9 392.9 796.2 393.1 814.6 393.2 807.6 393.3 839.4 393.4 821.3 393.6 819.6 393.7 801.4 393.8 798.5 393.9 802.4 394.1 803.5 394.2 808.1 394.3 815.6 394.4 815.1 394.6 823.0 394.7 798.9 394.8 810.4 394.9 812.6 395.1 825.8 395.2 810.4 395.3 812.2 395.4 801.8 395.6 811.2 395.7 813.2 395.8 804.8 395.9 805.1 396.1 809.2 396.2 815.8 396.3 801.9 396.4 817.8 396.6 810.3 396.7 829.1 396.8 829.4 396.9 813.0 397.1 808.1 397.2 830.8 397.3 824.5 397.4 822.1 397.6 813.0 397.7 814.2 397.8 823.2 397.9 823.6 398.1 811.0 398.2 827.5 398.3 822.7 398.4 810.8 398.6 826.2 398.7 817.7 398.8 823.6 398.9 811.8 399.1 816.7 399.2 799.1 399.3 812.3 399.4 797.3 399.6 808.1 399.7 792.0 399.8 801.9 399.9 811.0 400.1 809.8 400.2 814.7 400.3 795.1 400.4 813.0 400.6 815.6 400.7 791.4 400.8 789.1 400.9 789.6 401.1 793.4 401.2 794.9 401.3 776.8 401.4 792.1 401.6 788.1 401.7 779.9 401.8 795.1 401.9 787.6 402.1 798.4 402.2 795.8 402.3 788.6 402.4 799.3 402.6 798.7 402.7 788.3 402.8 777.8 402.9 784.3 403.1 794.9 403.2 790.5 403.3 805.2 403.4 796.8 403.6 794.8 403.7 796.2 403.8 787.0 403.9 791.1 404.1 788.1 404.2 779.9 404.3 780.2 404.4 796.2 404.6 791.7 404.7 793.3 404.8 784.2 404.9 789.0 405.1 800.1 405.2 797.7 405.3 793.1 405.4 807.5 405.6 799.1 405.7 795.6 405.8 806.3 405.9 787.3 406.1 801.0 406.2 791.4 406.3 792.2 406.4 793.5 406.6 800.4 406.7 801.9 406.8 804.1 406.9 804.2 407.1 814.0 407.2 817.9 407.3 812.2 407.4 811.6 407.6 802.6 407.7 795.2 407.8 807.9 407.9 806.1 408.1 811.5 408.2 788.8 408.3 817.8 408.4 793.5 408.6 798.3 408.7 806.9 408.8 786.3 408.9 788.7 409.1 777.8 409.2 776.4 409.3 775.1 409.4 787.8 409.6 792.2 409.7 786.2 409.8 799.7 409.9 802.9 410.1 788.6 410.2 782.6 410.3 779.9 410.4 776.6 410.6 793.4 410.7 784.7 410.8 775.9 410.9 774.3 411.1 781.6 411.2 773.0 411.3 779.0 411.4 776.4 411.6 790.8 411.7 791.5 411.8 764.3 411.9 772.2 412.1 782.9 412.2 772.9 412.3 784.0 412.4 781.3 412.6 783.4 412.7 777.1 412.8 779.5 412.9 782.2 413.1 762.7 413.2 764.4 413.3 763.8 413.4 790.5 413.6 782.1 413.7 781.1 413.8 779.0 413.9 771.8 414.1 768.2 414.2 782.9 414.3 774.5 414.4 792.0 414.6 782.5 414.7 779.9 414.8 776.8 414.9 777.9 415.1 779.5 415.2 794.4 415.3 797.7 415.4 774.6 415.6 782.3 415.7 788.5 415.8 774.6 415.9 774.8 416.1 776.8 416.2 765.5 416.3 784.9 416.4 783.8 416.6 783.4 416.7 785.4 416.8 787.7 416.9 803.1 417.1 792.3 417.2 795.7 417.3 783.5 417.4 789.1 417.6 783.5 417.7 783.7 417.8 775.9 417.9 774.9 418.1 787.3 418.2 792.6 418.3 790.5 418.4 778.0 418.6 785.6 418.7 763.4 418.8 787.6 418.9 783.0 419.1 785.2 419.2 795.4 419.3 779.4 419.4 791.6 419.6 777.9 419.7 786.2 419.8 776.6 419.9 782.7 420.1 797.3 420.2 775.0 420.3 770.7 420.4 773.2 420.6 781.7 420.7 800.5 420.8 779.9 420.9 759.5 421.1 768.9 421.2 761.3 421.3 771.7 421.4 780.4 421.6 772.0 421.7 773.8 421.8 764.2 421.9 781.5 422.1 776.3 422.2 793.9 422.3 797.2 422.4 779.6 422.6 781.3 422.7 786.0 422.8 793.6 422.9 773.5 423.1 784.3 423.2 803.6 423.3 790.8 423.4 791.2 423.6 789.4 423.7 778.7 423.8 793.7 423.9 790.8 424.1 788.9 424.2 792.6 424.3 793.4 424.4 771.9 424.6 786.0 424.7 780.1 424.8 784.3 424.9 778.0 425.1 775.2 425.2 788.2 425.3 783.0 425.4 779.6 425.6 778.4 425.7 780.6 425.8 779.9 425.9 765.1 426.1 769.2 426.2 774.9 426.3 782.6 426.4 788.1 426.6 772.5 426.7 790.5 426.8 782.5 426.9 785.2 427.1 778.8 427.2 777.9 427.3 796.6 427.4 787.2 427.6 787.5 427.7 800.9 427.8 808.7 427.9 781.7 428.1 790.2 428.2 795.1 428.3 816.7 428.4 818.7 428.6 806.8 428.7 808.1 428.8 815.8 428.9 822.5 429.1 806.3 429.2 819.8 429.3 802.9 429.4 785.4 429.6 786.4 429.7 812.3 429.8 826.4 429.9 788.3 430.1 788.6 430.2 808.9 430.3 789.3 430.4 813.9 430.6 829.3 430.7 790.3 430.8 818.6 430.9 814.0 431.1 833.7 431.2 823.1 431.3 814.5 431.4 817.3 431.6 827.7 431.7 820.7 431.8 817.6 431.9 799.9 432.1 818.6 432.2 817.1 432.3 834.4 432.4 820.3 432.6 816.3 432.7 809.9 432.8 822.6 432.9 814.7 433.1 806.8 433.2 827.4 433.3 827.8 433.4 809.5 433.6 798.2 433.7 816.2 433.8 799.3 433.9 820.3 434.1 806.7 434.2 811.5 434.3 789.5 434.4 796.1 434.6 807.0 434.7 801.8 434.8 790.5 434.9 808.3 435.1 802.7 435.2 790.2 435.3 783.1 435.4 783.6 435.6 797.4 435.7 779.7 435.8 782.3 435.9 774.0 436.1 790.8 436.2 781.8 436.3 789.0 436.4 787.9 436.6 777.9 436.7 787.0 436.8 790.8 436.9 774.2 437.1 786.4 437.2 795.9 437.3 785.8 437.4 788.3 437.6 773.0 437.7 784.4 437.8 778.5 437.9 788.0 438.1 783.6 438.2 774.3 438.3 789.7 438.4 783.0 438.6 775.9 438.7 782.5 438.8 776.5 438.9 785.1 439.1 783.7 439.2 780.7 439.3 786.9 439.4 773.7 439.6 786.6 439.7 767.2 439.8 788.9 439.9 782.4 440.1 777.3 440.2 772.2 440.3 780.1 440.4 775.9 440.6 774.4 440.7 782.7 440.8 772.7 440.9 771.7 441.1 776.0 441.2 781.8 441.3 775.0 441.4 777.4 441.6 778.2 441.7 785.7 441.8 795.5 441.9 776.5 442.1 781.3 442.2 784.3 442.3 792.6 442.4 805.1 442.6 793.1 442.7 794.4 442.8 806.2 442.9 783.1 443.1 784.8 443.2 790.0 443.3 797.5 443.4 803.3 443.6 796.2 443.7 824.2 443.8 800.4 443.9 803.2 444.1 822.6 444.2 823.7 444.3 813.7 444.4 816.9 444.6 823.4 444.7 813.5 444.8 820.2 444.9 801.3 445.1 810.2 445.2 790.9 445.3 796.6 445.4 795.0 445.6 822.6 445.7 808.4 445.8 814.1 445.9 802.0 446.1 807.5 446.2 807.9 446.3 802.3 446.4 818.1 446.6 797.1 446.7 814.6 446.8 826.6 446.9 809.3 447.1 811.5 447.2 798.9 447.3 809.0 447.4 797.8 447.6 813.9 447.7 808.6 447.8 797.2 447.9 799.3 448.1 797.6 448.2 807.2 448.3 817.8 448.4 810.6 448.6 803.3 448.7 804.6 448.8 812.0 448.9 798.1 449.1 813.7 449.2 816.2 449.3 798.6 449.4 818.4 449.6 802.4 449.7 809.7 449.8 821.3 449.9 803.3 450.1 799.6 450.2 802.7 450.3 803.9 450.4 811.0 450.6 809.7 450.7 809.5 450.8 809.4 450.9 811.5 451.1 806.9 451.2 814.7 451.3 813.7 451.4 805.8 451.6 825.6 451.7 806.0 451.8 817.4 451.9 808.2 452.1 814.9 452.2 817.4 452.3 820.6 452.4 825.7 452.6 808.6 452.7 827.1 452.8 820.4 452.9 807.5 453.1 800.4 453.2 827.1 453.3 827.1 453.4 815.7 453.6 819.4 453.7 824.9 453.8 815.8 453.9 809.3 454.1 811.5 454.2 819.9 454.3 814.2 454.4 801.2 454.6 817.5 454.7 796.6 454.8 801.8 454.9 822.9 455.1 817.1 455.2 815.9 455.3 814.4 455.4 824.0 455.6 814.4 455.7 792.0 455.8 811.1 455.9 791.5 456.1 791.2 456.2 824.9 456.3 827.4 456.4 810.1 456.6 811.3 456.7 813.5 456.8 824.6 456.9 804.0 457.1 797.8 457.2 798.8 457.3 807.4 457.4 809.8 457.6 801.4 457.7 812.7 457.8 792.8 457.9 799.3 458.1 792.4 458.2 786.5 458.3 810.7 458.4 796.5 458.6 784.9 458.7 793.8 458.8 782.8 458.9 798.0 459.1 803.1 459.2 805.1 459.3 781.1 459.4 785.8 459.6 807.0 459.7 788.7 459.8 800.3 459.9 804.6 460.1 775.2 460.2 798.1 460.3 798.0 460.4 799.8 460.6 807.1 460.7 798.3 460.8 792.4 460.9 797.4 461.1 788.5 461.2 796.2 461.3 771.7 461.4 806.8 461.6 790.1 461.7 798.7 461.8 798.4 461.9 796.5 462.1 796.7 462.2 796.6 462.3 779.1 462.4 787.6 462.6 808.0 462.7 789.2 462.8 785.6 462.9 816.6 463.1 814.4 463.2 814.2 463.3 798.9 463.4 797.3 463.6 800.8 463.7 798.3 463.8 790.1 463.9 773.6 464.1 776.5 464.2 768.3 464.3 795.9 464.4 780.8 464.6 778.8 464.7 781.8 464.8 778.6 464.9 781.7 465.1 770.2 465.2 758.3 465.3 785.7 465.4 766.8 465.6 764.1 465.7 759.5 465.8 759.8 465.9 763.9 466.1 770.2 466.2 755.3 466.3 764.7 466.4 758.2 466.6 773.9 466.7 755.5 466.8 764.0 466.9 771.3 467.1 754.6 467.2 764.5 467.3 767.0 467.4 759.5 467.6 763.3 467.7 774.8 467.8 770.8 467.9 764.6 468.1 765.3 468.2 771.3 468.3 779.8 468.4 777.6 468.6 776.8 468.7 784.0 468.8 759.3 468.9 755.5 469.1 754.2 469.2 772.8 469.3 755.2 469.4 768.1 469.6 779.3 469.7 763.1 469.8 767.2 469.9 772.6 470.1 784.0 470.2 765.5 470.3 780.5 470.4 788.4 470.6 785.3 470.7 785.7 470.8 798.4 470.9 790.9 471.1 787.7 471.2 784.4 471.3 795.8 471.4 788.2 471.6 798.6 471.7 795.1 471.8 807.7 471.9 787.9 472.1 795.4 472.2 801.3 472.3 804.2 472.4 814.9 472.6 808.6 472.7 814.6 472.8 824.8 472.9 819.7 473.1 796.6 473.2 789.1 473.3 812.5 473.4 806.5 473.6 813.6 473.7 811.1 473.8 827.2 473.9 830.1 474.1 808.0 474.2 818.8 474.3 816.3 474.4 806.6 474.6 822.4 474.7 817.3 474.8 821.1 474.9 833.5 475.1 832.6 475.2 828.3 475.3 812.5 475.4 801.4 475.6 821.2 475.7 810.0 475.8 810.3 475.9 805.7 476.1 808.5 476.2 824.4 476.3 808.1 476.4 803.4 476.6 806.2 476.7 806.8 476.8 792.7 476.9 785.4 477.1 792.4 477.2 796.7 477.3 791.7 477.4 788.1 477.6 787.3 477.7 791.5 477.8 794.3 477.9 781.0 478.1 787.4 478.2 796.1 478.3 793.1 478.4 781.2 478.6 787.1 478.7 790.7 478.8 797.7 478.9 778.0 479.1 793.4 479.2 786.2 479.3 789.9 479.4 794.2 479.6 781.4 479.7 778.9 479.8 783.7 479.9 791.3 480.1 781.6 480.2 771.9 480.3 775.5 480.4 784.7 480.6 792.4 480.7 780.0 480.8 779.2 480.9 780.4 481.1 781.1 481.2 774.7 481.3 777.7 481.4 783.9 481.6 784.3 481.7 783.9 481.8 775.4 481.9 777.6 482.1 776.9 482.2 791.4 482.3 797.7 482.4 790.0 482.6 798.9 482.7 785.2 482.8 782.7 482.9 774.0 483.1 785.0 483.2 781.7 483.3 785.7 483.4 789.8 483.6 784.8 483.7 776.7 483.8 784.1 483.9 785.6 484.1 786.9 484.2 792.8 484.3 786.7 484.4 785.3 484.6 802.2 484.7 800.3 484.8 790.1 484.9 780.9 485.1 783.5 485.2 791.5 485.3 797.4 485.4 806.7 485.6 792.4 485.7 792.1 485.8 787.7 485.9 791.0 486.1 787.6 486.2 780.9 486.3 798.9 486.4 794.6 486.6 804.7 486.7 790.2 486.8 794.7 486.9 799.6 487.1 777.5 487.2 778.8 487.3 798.3 487.4 796.6 487.6 779.7 487.7 786.5 487.8 785.6 487.9 790.7 488.1 808.8 488.2 795.4 488.3 813.4 488.4 799.9 488.6 793.8 488.7 810.5 488.8 809.3 488.9 812.5 489.1 814.9 489.2 812.3 489.3 812.7 489.4 792.8 489.6 795.5 489.7 804.9 489.8 805.5 489.9 809.3 490.1 801.9 490.2 810.1 490.3 815.4 490.4 808.8 490.6 808.3 490.7 805.2 490.8 807.3 490.9 801.5 491.1 793.8 491.2 797.3 491.3 796.7 491.4 781.2 491.6 793.2 491.7 793.1 491.8 794.1 491.9 786.2 492.1 794.2 492.2 796.7 492.3 782.7 492.4 790.0 492.6 795.9 492.7 796.2 492.8 776.7 492.9 770.6 493.1 780.9 493.2 770.0 493.3 803.4 493.4 778.1 493.6 771.9 493.7 786.8 493.8 776.9 493.9 760.2 494.1 773.5 494.2 768.0 494.3 771.7 494.4 760.7 494.6 765.9 494.7 774.4 494.8 776.7 494.9 766.4 495.1 768.2 495.2 767.0 495.3 776.3 495.4 775.0 495.6 764.2 495.7 779.6 495.8 769.9 495.9 777.7 496.1 767.3 496.2 775.8 496.3 774.4 496.4 776.3 496.6 781.3 496.7 782.3 496.8 780.7 496.9 780.9 497.1 768.5 497.2 777.5 497.3 764.6 497.4 765.2 497.6 774.7 497.7 779.7 497.8 797.5 497.9 793.9 498.1 798.0 498.2 785.9 498.3 791.3 498.4 800.0 498.6 796.3 498.7 794.5 498.8 792.3 498.9 782.3 499.1 781.2 499.2 776.1 499.3 794.1 499.4 791.5 499.6 787.6 499.7 797.8 499.8 791.1 499.9 806.6 500.1 817.0 500.2 807.5 500.3 794.3 500.4 784.2 500.6 818.0 500.7 809.7 500.8 792.3 500.9 812.0 501.1 789.0 501.2 797.4 501.3 801.7 501.4 801.9 501.6 794.7 501.7 826.7 501.8 808.9 501.9 813.2 502.1 811.2 502.2 795.0 502.3 802.9 502.4 812.7 502.6 821.3 502.7 809.9 502.8 814.3 502.9 807.8 503.1 815.3 503.2 791.7 503.3 810.3 503.4 802.9 503.6 801.5 503.7 790.2 503.8 791.5 503.9 809.4" fill="none" stroke="#650070" stroke-width="0.95" stroke-dasharray="1.5 0.25" stroke-linejoin="round"/>
<path d="M98.2 801.6H666.3" stroke="#6e6e6e" stroke-width="2.7" stroke-dasharray="10 4.75" stroke-dashoffset="-0.6" fill="none"/>
<rect x="98.2" y="715.0" width="568.1" height="216.6" fill="none" stroke="#000" stroke-width="1.5"/>
<path d="M98.2 931.6v6.5M179.4 931.6v6.5M260.5 931.6v6.5M341.7 931.6v6.5M422.8 931.6v6.5M504 931.6v6.5M585.1 931.6v6.5M666.3 931.6v6.5M98.2 931.6h-6.5M98.2 877.5h-6.5M98.2 823.3h-6.5M98.2 769.2h-6.5M98.2 715h-6.5" stroke="#000" stroke-width="1.5" fill="none"/>
<g font-family='"Liberation Sans", sans-serif' font-size="19.1" fill="#000">
<text x="98.2" y="958.5" text-anchor="middle" textLength="11.7" lengthAdjust="spacingAndGlyphs">0</text>
<text x="179.4" y="958.5" text-anchor="middle" textLength="35" lengthAdjust="spacingAndGlyphs">200</text>
<text x="260.5" y="958.5" text-anchor="middle" textLength="35" lengthAdjust="spacingAndGlyphs">400</text>
<text x="341.7" y="958.5" text-anchor="middle" textLength="35" lengthAdjust="spacingAndGlyphs">600</text>
<text x="422.8" y="958.5" text-anchor="middle" textLength="35" lengthAdjust="spacingAndGlyphs">800</text>
<text x="504" y="958.5" text-anchor="middle" textLength="46.6" lengthAdjust="spacingAndGlyphs">1000</text>
<text x="585.1" y="958.5" text-anchor="middle" textLength="46.6" lengthAdjust="spacingAndGlyphs">1200</text>
<text x="666.3" y="958.5" text-anchor="middle" textLength="46.6" lengthAdjust="spacingAndGlyphs">1400</text>
<text x="85.1" y="938.5" text-anchor="end" textLength="11.7" lengthAdjust="spacingAndGlyphs">0</text>
<text x="85.1" y="884.3" text-anchor="end" textLength="23.3" lengthAdjust="spacingAndGlyphs">20</text>
<text x="85.1" y="830.2" text-anchor="end" textLength="23.3" lengthAdjust="spacingAndGlyphs">40</text>
<text x="85.1" y="776" text-anchor="end" textLength="23.3" lengthAdjust="spacingAndGlyphs">60</text>
<text x="85.1" y="721.9" text-anchor="end" textLength="23.3" lengthAdjust="spacingAndGlyphs">80</text>
</g>
<text x="382.2" y="703.6" text-anchor="middle" font-family='"Liberation Sans", sans-serif' font-weight="bold" font-size="31.3" textLength="89.4" lengthAdjust="spacingAndGlyphs">Ss1/2</text>
<text x="382.2" y="993.6" text-anchor="middle" font-family='"Liberation Sans", sans-serif' font-size="30.5" textLength="76" lengthAdjust="spacingAndGlyphs">t (ns)</text>
<text transform="translate(46.5 822.3) rotate(-90)" x="0" y="0" text-anchor="middle" font-family='"Liberation Sans", sans-serif' font-size="30.5" textLength="64" lengthAdjust="spacingAndGlyphs">r (<tspan font-style="italic">Å</tspan>)</text>
<text x="0.0" y="719.2" font-family='"Liberation Sans", sans-serif' font-weight="bold" font-size="42.6">C</text>
<g fill="#0000ff"><rect x="735.24" y="1273.40" width="2.55" height="4.30"/><rect x="738.69" y="1272.40" width="2.55" height="5.30"/><rect x="742.13" y="1269.10" width="2.55" height="8.60"/><rect x="745.58" y="1270.00" width="2.55" height="7.70"/><rect x="749.02" y="1264.90" width="2.55" height="12.80"/><rect x="752.47" y="1251.70" width="2.55" height="26.00"/><rect x="755.92" y="1246.50" width="2.55" height="31.20"/><rect x="759.36" y="1240.70" width="2.55" height="37.00"/><rect x="762.81" y="1232.80" width="2.55" height="44.90"/><rect x="766.25" y="1232.50" width="2.55" height="45.20"/><rect x="769.70" y="1230.00" width="2.55" height="47.70"/><rect x="773.15" y="1238.60" width="2.55" height="39.10"/><rect x="776.59" y="1243.50" width="2.55" height="34.20"/><rect x="780.04" y="1245.90" width="2.55" height="31.80"/><rect x="783.48" y="1225.20" width="2.55" height="52.50"/><rect x="786.93" y="1197.70" width="2.55" height="80.00"/><rect x="790.38" y="1196.40" width="2.55" height="81.30"/><rect x="793.82" y="1216.60" width="2.55" height="61.10"/><rect x="797.27" y="1222.10" width="2.55" height="55.60"/><rect x="800.71" y="1208.10" width="2.55" height="69.60"/><rect x="804.16" y="1214.10" width="2.55" height="63.60"/><rect x="807.61" y="1210.50" width="2.55" height="67.20"/><rect x="811.05" y="1206.20" width="2.55" height="71.50"/><rect x="814.50" y="1200.70" width="2.55" height="77.00"/><rect x="817.94" y="1196.40" width="2.55" height="81.30"/><rect x="821.39" y="1206.20" width="2.55" height="71.50"/><rect x="824.84" y="1199.50" width="2.55" height="78.20"/><rect x="828.28" y="1208.00" width="2.55" height="69.70"/><rect x="831.73" y="1206.60" width="2.55" height="71.10"/><rect x="835.17" y="1204.70" width="2.55" height="73.00"/><rect x="838.62" y="1198.90" width="2.55" height="78.80"/><rect x="842.07" y="1200.50" width="2.55" height="77.20"/><rect x="845.51" y="1201.70" width="2.55" height="76.00"/><rect x="848.96" y="1204.70" width="2.55" height="73.00"/><rect x="852.40" y="1200.70" width="2.55" height="77.00"/><rect x="855.85" y="1201.30" width="2.55" height="76.40"/><rect x="859.30" y="1195.80" width="2.55" height="81.90"/><rect x="862.74" y="1208.00" width="2.55" height="69.70"/><rect x="866.19" y="1202.50" width="2.55" height="75.20"/><rect x="869.63" y="1217.80" width="2.55" height="59.90"/><rect x="873.08" y="1225.80" width="2.55" height="51.90"/><rect x="876.53" y="1228.80" width="2.55" height="48.90"/><rect x="879.97" y="1231.60" width="2.55" height="46.10"/><rect x="883.42" y="1239.20" width="2.55" height="38.50"/><rect x="886.86" y="1242.60" width="2.55" height="35.10"/><rect x="890.31" y="1250.80" width="2.55" height="26.90"/><rect x="893.76" y="1255.70" width="2.55" height="22.00"/><rect x="897.20" y="1258.80" width="2.55" height="18.90"/><rect x="900.65" y="1262.20" width="2.55" height="15.50"/><rect x="904.09" y="1263.60" width="2.55" height="14.10"/><rect x="907.54" y="1265.50" width="2.55" height="12.20"/><rect x="910.99" y="1269.50" width="2.55" height="8.20"/><rect x="914.43" y="1270.00" width="2.55" height="7.70"/><rect x="917.88" y="1271.60" width="2.55" height="6.10"/><rect x="921.32" y="1273.70" width="2.55" height="4.00"/><rect x="924.77" y="1275.30" width="2.55" height="2.40"/><rect x="928.22" y="1275.90" width="2.55" height="1.80"/></g>
<rect x="718.2" y="1061.1" width="257.9" height="216.6" fill="none" stroke="#000" stroke-width="1.5"/>
<path d="M718.2 1277.7v6.5M786.8 1277.7v6.5M855.4 1277.7v6.5M924 1277.7v6.5M718.2 1277.7h-6.5M718.2 1230.5h-6.5M718.2 1183.4h-6.5M718.2 1136.2h-6.5M718.2 1089.1h-6.5" stroke="#000" stroke-width="1.5" fill="none"/>
<g font-family='"Liberation Sans", sans-serif' font-size="19.1" fill="#000">
<text x="718.2" y="1304.6" text-anchor="middle" textLength="11.7" lengthAdjust="spacingAndGlyphs">0</text>
<text x="786.8" y="1304.6" text-anchor="middle" textLength="23.3" lengthAdjust="spacingAndGlyphs">20</text>
<text x="855.4" y="1304.6" text-anchor="middle" textLength="23.3" lengthAdjust="spacingAndGlyphs">40</text>
<text x="924" y="1304.6" text-anchor="middle" textLength="23.3" lengthAdjust="spacingAndGlyphs">60</text>
<text x="704.4" y="1284.5" text-anchor="end" textLength="11.7" lengthAdjust="spacingAndGlyphs">0</text>
<text x="704.4" y="1237.4" text-anchor="end" textLength="35" lengthAdjust="spacingAndGlyphs">500</text>
<text x="704.4" y="1190.2" text-anchor="end" textLength="46.6" lengthAdjust="spacingAndGlyphs">1000</text>
<text x="704.4" y="1143.1" text-anchor="end" textLength="46.6" lengthAdjust="spacingAndGlyphs">1500</text>
<text x="704.4" y="1095.9" text-anchor="end" textLength="46.6" lengthAdjust="spacingAndGlyphs">2000</text>
</g>
<g font-family='"Liberation Sans", sans-serif' font-size="30.5" fill="#a3a3a3">
<text x="807.5" y="1138.2" font-style="italic">r</text>
<rect x="808.5" y="1115.4" width="12" height="1.7"/>
<text x="828.3" y="1138.2" textLength="21" lengthAdjust="spacingAndGlyphs">=</text>
<text x="858.1" y="1138.2" textLength="36.4" lengthAdjust="spacingAndGlyphs">32</text>
<text x="808.5" y="1171.2" font-style="italic">σ</text>
<text x="835" y="1171.2" textLength="21" lengthAdjust="spacingAndGlyphs">=</text>
<text x="864.7" y="1171.2" textLength="36.4" lengthAdjust="spacingAndGlyphs">12</text>
</g>
<text x="847.2" y="1049.7" text-anchor="middle" font-family='"Liberation Sans", sans-serif' font-weight="bold" font-size="31.3" textLength="58.0" lengthAdjust="spacingAndGlyphs">Ss1</text>
<text x="847.2" y="1342.9" text-anchor="middle" font-family='"Liberation Sans", sans-serif' font-size="30.5" textLength="64" lengthAdjust="spacingAndGlyphs">r (<tspan font-style="italic">Å</tspan>)</text>
<rect x="98.2" y="1061.1" width="568.1" height="216.6" fill="#fff"/>
<path d="M98.2 1165.3 98.3 1175.4 98.5 1174.6 98.6 1174.4 98.7 1183.2 98.8 1157.5 99.0 1158.0 99.1 1151.3 99.2 1162.0 99.3 1175.3 99.5 1167.8 99.6 1171.6 99.7 1148.1 99.8 1164.3 100.0 1156.8 100.1 1183.0 100.2 1179.2 100.3 1179.2 100.5 1168.8 100.6 1173.8 100.7 1175.4 100.8 1165.2 101.0 1161.6 101.1 1165.0 101.2 1160.5 101.3 1159.8 101.5 1163.0 101.6 1158.9 101.7 1174.5 101.8 1151.7 102.0 1173.9 102.1 1162.4 102.2 1161.0 102.3 1151.7 102.5 1163.5 102.6 1164.7 102.7 1170.0 102.8 1162.9 103.0 1168.7 103.1 1189.9 103.2 1177.9 103.3 1164.2 103.5 1179.3 103.6 1169.8 103.7 1176.5 103.8 1178.2 104.0 1167.1 104.1 1147.3 104.2 1162.1 104.3 1175.9 104.5 1168.2 104.6 1176.4 104.7 1184.5 104.8 1169.0 105.0 1186.4 105.1 1194.6 105.2 1190.3 105.3 1190.7 105.5 1190.3 105.6 1197.6 105.7 1183.3 105.8 1177.6 106.0 1183.4 106.1 1168.4 106.2 1158.8 106.3 1164.5 106.5 1179.5 106.6 1183.8 106.7 1163.7 106.8 1157.9 107.0 1171.8 107.1 1176.6 107.2 1179.3 107.3 1187.7 107.5 1195.4 107.6 1186.9 107.7 1189.5 107.8 1172.9 108.0 1169.2 108.1 1183.0 108.2 1190.4 108.3 1192.7 108.5 1192.2 108.6 1194.2 108.7 1195.2 108.8 1170.7 109.0 1176.1 109.1 1189.0 109.2 1193.2 109.3 1174.3 109.5 1196.4 109.6 1185.9 109.7 1186.7 109.8 1192.6 110.0 1199.4 110.1 1179.9 110.2 1201.2 110.3 1197.1 110.5 1188.3 110.6 1192.5 110.7 1176.4 110.8 1187.2 111.0 1199.8 111.1 1193.4 111.2 1197.1 111.3 1200.7 111.5 1204.6 111.6 1217.5 111.7 1208.8 111.8 1205.1 112.0 1214.8 112.1 1234.3 112.2 1212.2 112.3 1218.8 112.5 1194.7 112.6 1227.7 112.7 1226.6 112.8 1236.0 113.0 1220.7 113.1 1205.5 113.2 1228.9 113.3 1232.9 113.5 1212.5 113.6 1200.7 113.7 1225.8 113.8 1223.1 114.0 1253.7 114.1 1224.2 114.2 1217.8 114.3 1222.1 114.5 1201.9 114.6 1208.3 114.7 1242.9 114.8 1226.2 115.0 1216.7 115.1 1206.3 115.2 1227.5 115.3 1232.4 115.5 1228.1 115.6 1219.3 115.7 1225.7 115.8 1227.7 116.0 1215.5 116.1 1228.0 116.2 1199.3 116.3 1203.0 116.5 1214.6 116.6 1218.8 116.7 1208.3 116.8 1221.9 117.0 1231.8 117.1 1227.3 117.2 1223.9 117.3 1229.0 117.5 1225.6 117.6 1210.0 117.7 1215.7 117.8 1230.4 118.0 1211.0 118.1 1217.8 118.2 1215.1 118.3 1210.2 118.5 1208.3 118.6 1217.7 118.7 1221.6 118.8 1222.4 119.0 1207.2 119.1 1214.4 119.2 1221.6 119.3 1228.6 119.5 1227.6 119.6 1229.0 119.7 1231.8 119.8 1230.0 120.0 1214.9 120.1 1219.9 120.2 1213.9 120.3 1201.7 120.5 1201.8 120.6 1236.3 120.7 1213.7 120.8 1202.0 121.0 1211.3 121.1 1233.8 121.2 1223.6 121.3 1226.0 121.5 1220.1 121.6 1220.8 121.7 1234.0 121.8 1232.2 122.0 1223.5 122.1 1231.3 122.2 1234.8 122.3 1223.0 122.5 1225.5 122.6 1226.0 122.7 1217.1 122.8 1233.4 123.0 1223.7 123.1 1217.3 123.2 1205.6 123.3 1207.4 123.5 1235.9 123.6 1214.8 123.7 1226.6 123.8 1221.0 124.0 1228.9 124.1 1231.3 124.2 1217.4 124.3 1219.2 124.5 1223.3 124.6 1223.9 124.7 1222.3 124.8 1218.8 125.0 1227.3 125.1 1235.6 125.2 1229.2 125.3 1214.7 125.5 1222.9 125.6 1220.9 125.7 1224.2 125.8 1238.2 126.0 1220.3 126.1 1218.5 126.2 1209.2 126.3 1212.9 126.5 1210.6 126.6 1231.1 126.7 1222.2 126.8 1211.6 127.0 1233.5 127.1 1205.9 127.2 1221.3 127.3 1225.6 127.5 1221.8 127.6 1212.8 127.7 1211.9 127.8 1209.4 128.0 1219.4 128.1 1192.8 128.2 1202.9 128.3 1211.1 128.4 1205.6 128.6 1192.2 128.7 1204.4 128.8 1201.6 128.9 1216.1 129.1 1224.9 129.2 1213.1 129.3 1190.0 129.4 1202.8 129.6 1197.5 129.7 1213.0 129.8 1226.7 129.9 1214.7 130.1 1229.0 130.2 1228.1 130.3 1218.5 130.4 1199.0 130.6 1206.8 130.7 1190.5 130.8 1215.4 130.9 1209.7 131.1 1223.0 131.2 1212.9 131.3 1184.3 131.4 1209.1 131.6 1217.4 131.7 1227.4 131.8 1197.6 131.9 1191.8 132.1 1202.6 132.2 1190.5 132.3 1183.6 132.4 1185.4 132.6 1226.5 132.7 1200.5 132.8 1188.6 132.9 1193.2 133.1 1199.7 133.2 1218.0 133.3 1216.9 133.4 1214.4 133.6 1203.5 133.7 1202.7 133.8 1191.2 133.9 1176.4 134.1 1223.1 134.2 1197.1 134.3 1212.7 134.4 1197.1 134.6 1197.2 134.7 1196.4 134.8 1179.2 134.9 1193.9 135.1 1203.3 135.2 1211.4 135.3 1208.4 135.4 1215.1 135.6 1206.4 135.7 1200.6 135.8 1172.6 135.9 1186.7 136.1 1218.0 136.2 1204.8 136.3 1211.3 136.4 1199.0 136.6 1190.4 136.7 1224.9 136.8 1209.6 136.9 1221.8 137.1 1211.3 137.2 1198.2 137.3 1172.1 137.4 1195.1 137.6 1178.3 137.7 1172.4 137.8 1209.7 137.9 1211.6 138.1 1210.9 138.2 1203.0 138.3 1200.4 138.4 1205.9 138.6 1203.6 138.7 1202.0 138.8 1210.4 138.9 1173.7 139.1 1206.2 139.2 1193.7 139.3 1210.2 139.4 1217.6 139.6 1193.4 139.7 1209.4 139.8 1212.4 139.9 1194.0 140.1 1192.5 140.2 1200.0 140.3 1175.3 140.4 1189.1 140.6 1199.7 140.7 1194.3 140.8 1179.9 140.9 1190.9 141.1 1214.5 141.2 1216.7 141.3 1201.1 141.4 1190.6 141.6 1196.9 141.7 1198.4 141.8 1191.5 141.9 1193.6 142.1 1203.5 142.2 1208.4 142.3 1178.3 142.4 1203.0 142.6 1200.1 142.7 1208.8 142.8 1199.7 142.9 1201.9 143.1 1212.7 143.2 1179.6 143.3 1206.3 143.4 1200.6 143.6 1182.9 143.7 1180.3 143.8 1194.6 143.9 1188.5 144.1 1202.6 144.2 1199.4 144.3 1196.1 144.4 1203.4 144.6 1199.0 144.7 1201.8 144.8 1202.7 144.9 1199.4 145.1 1201.6 145.2 1201.8 145.3 1188.7 145.4 1192.7 145.6 1194.3 145.7 1193.2 145.8 1186.4 145.9 1190.8 146.1 1196.9 146.2 1197.5 146.3 1205.3 146.4 1194.9 146.6 1193.9 146.7 1193.1 146.8 1194.5 146.9 1193.3 147.1 1185.7 147.2 1197.4 147.3 1203.7 147.4 1206.0 147.6 1193.3 147.7 1196.3 147.8 1209.5 147.9 1200.3 148.1 1201.5 148.2 1198.8 148.3 1205.6 148.4 1206.9 148.6 1213.3 148.7 1206.3 148.8 1204.3 148.9 1193.4 149.1 1196.5 149.2 1195.4 149.3 1197.7 149.4 1191.9 149.6 1207.4 149.7 1195.7 149.8 1202.3 149.9 1193.6 150.1 1202.7 150.2 1213.5 150.3 1199.1 150.4 1204.4 150.6 1202.7 150.7 1204.9 150.8 1206.4 150.9 1199.6 151.1 1201.5 151.2 1199.2 151.3 1197.2 151.4 1194.0 151.6 1208.9 151.7 1199.6 151.8 1207.6 151.9 1208.2 152.1 1197.4 152.2 1209.4 152.3 1198.3 152.4 1206.4 152.6 1213.6 152.7 1199.8 152.8 1195.5 152.9 1194.5 153.1 1216.4 153.2 1202.3 153.3 1193.3 153.4 1205.5 153.6 1201.1 153.7 1201.1 153.8 1194.4 153.9 1186.7 154.1 1192.7 154.2 1192.1 154.3 1188.0 154.4 1190.6 154.6 1191.9 154.7 1203.8 154.8 1205.3 154.9 1204.2 155.1 1197.0 155.2 1190.6 155.3 1199.5 155.4 1202.2 155.6 1206.1 155.7 1200.1 155.8 1198.1 155.9 1200.4 156.1 1192.7 156.2 1191.9 156.3 1200.9 156.4 1190.4 156.6 1195.7 156.7 1202.2 156.8 1199.8 156.9 1200.5 157.1 1190.7 157.2 1194.9 157.3 1194.4 157.4 1199.2 157.6 1198.4 157.7 1194.9 157.8 1207.0 157.9 1199.2 158.1 1190.7 158.2 1185.6 158.3 1188.4 158.4 1183.9 158.6 1200.8 158.7 1194.7 158.8 1185.1 158.9 1179.3 159.1 1173.4 159.2 1178.9 159.3 1194.5 159.4 1192.7 159.6 1182.8 159.7 1182.1 159.8 1160.3 159.9 1182.8 160.1 1176.2 160.2 1191.8 160.3 1177.1 160.4 1169.8 160.6 1175.7 160.7 1166.2 160.8 1187.4 160.9 1178.3 161.1 1176.9 161.2 1175.6 161.3 1165.8 161.4 1174.0 161.6 1171.1 161.7 1191.3 161.8 1172.2 161.9 1172.3 162.1 1160.5 162.2 1158.8 162.3 1159.0 162.4 1181.4 162.6 1168.4 162.7 1178.2 162.8 1162.1 162.9 1156.9 163.1 1132.4 163.2 1167.8 163.3 1188.9 163.4 1163.5 163.6 1182.5 163.7 1177.1 163.8 1152.0 163.9 1169.0 164.1 1146.0 164.2 1150.4 164.3 1175.0 164.4 1162.7 164.6 1138.3 164.7 1175.0 164.8 1140.9 164.9 1149.0 165.1 1147.1 165.2 1149.3 165.3 1137.7 165.4 1121.5 165.6 1177.5 165.7 1140.2 165.8 1133.2 165.9 1114.0 166.1 1142.0 166.2 1170.6 166.3 1178.0 166.4 1181.1 166.6 1180.7 166.7 1162.4 166.8 1150.3 166.9 1173.5 167.1 1150.6 167.2 1150.0 167.3 1127.7 167.4 1143.1 167.6 1178.4 167.7 1151.0 167.8 1153.8 167.9 1108.9 168.1 1161.4 168.2 1155.7 168.3 1172.2 168.4 1155.9 168.6 1134.9 168.7 1123.0 168.8 1150.6 168.9 1147.9 169.1 1133.1 169.2 1144.2 169.3 1138.2 169.4 1156.8 169.6 1144.5 169.7 1131.1 169.8 1144.4 169.9 1140.9 170.1 1167.1 170.2 1147.2 170.3 1133.0 170.4 1146.2 170.6 1146.6 170.7 1153.0 170.8 1153.8 170.9 1140.2 171.1 1148.7 171.2 1150.1 171.3 1139.3 171.4 1144.1 171.6 1153.0 171.7 1137.8 171.8 1139.8 171.9 1146.0 172.1 1150.9 172.2 1157.6 172.3 1141.2 172.4 1153.8 172.6 1159.5 172.7 1169.6 172.8 1152.8 172.9 1144.7 173.1 1137.2 173.2 1156.0 173.3 1167.0 173.4 1150.1 173.6 1157.9 173.7 1163.7 173.8 1166.0 173.9 1153.3 174.1 1161.3 174.2 1156.2 174.3 1146.5 174.4 1156.7 174.6 1160.0 174.7 1147.6 174.8 1159.3 174.9 1177.2 175.1 1146.1 175.2 1162.0 175.3 1167.5 175.4 1160.0 175.6 1161.4 175.7 1155.8 175.8 1171.2 175.9 1151.0 176.1 1155.2 176.2 1137.8 176.3 1157.4 176.4 1161.9 176.6 1142.3 176.7 1146.6 176.8 1161.0 176.9 1154.4 177.1 1146.0 177.2 1139.3 177.3 1157.1 177.4 1177.6 177.6 1158.6 177.7 1163.5 177.8 1164.4 177.9 1159.9 178.1 1160.9 178.2 1161.4 178.3 1152.3 178.4 1180.3 178.6 1180.3 178.7 1169.6 178.8 1179.2 178.9 1157.2 179.1 1158.4 179.2 1171.2 179.3 1153.1 179.4 1148.4 179.6 1162.4 179.7 1144.6 179.8 1174.2 179.9 1171.5 180.1 1166.7 180.2 1169.7 180.3 1156.7 180.4 1154.1 180.6 1169.5 180.7 1173.9 180.8 1168.4 180.9 1166.2 181.1 1162.1 181.2 1178.0 181.3 1157.6 181.4 1159.3 181.6 1162.8 181.7 1155.8 181.8 1156.6 181.9 1159.7 182.1 1177.3 182.2 1187.6 182.3 1178.4 182.4 1161.5 182.6 1166.6 182.7 1171.8 182.8 1172.3 182.9 1172.1 183.1 1179.4 183.2 1162.4 183.3 1170.0 183.4 1178.0 183.6 1183.8 183.7 1182.2 183.8 1180.4 183.9 1179.4 184.1 1175.8 184.2 1181.1 184.3 1180.5 184.4 1177.3 184.6 1190.8 184.7 1193.8 184.8 1183.9 184.9 1189.8 185.1 1196.1 185.2 1191.1 185.3 1189.7 185.4 1193.0 185.6 1177.0 185.7 1175.9 185.8 1192.6 185.9 1194.6 186.1 1205.3 186.2 1191.7 186.3 1203.9 186.4 1206.9 186.6 1214.7 186.7 1193.4 186.8 1193.5 186.9 1200.3 187.1 1202.3 187.2 1190.5 187.3 1193.0 187.4 1186.4 187.6 1223.4 187.7 1206.9 187.8 1204.7 187.9 1198.2 188.1 1204.6 188.2 1215.3 188.3 1205.2 188.4 1207.3 188.6 1232.0 188.7 1226.0 188.8 1216.7 188.9 1207.3 189.1 1211.0 189.2 1202.3 189.3 1212.9 189.4 1203.0 189.6 1200.1 189.7 1203.1 189.8 1195.5 189.9 1208.5 190.1 1231.3 190.2 1206.7 190.3 1188.7 190.4 1214.0 190.6 1206.8 190.7 1227.6 190.8 1214.0 190.9 1216.6 191.1 1198.9 191.2 1186.7 191.3 1198.4 191.4 1208.9 191.6 1195.4 191.7 1185.4 191.8 1192.8 191.9 1195.4 192.1 1196.7 192.2 1199.4 192.3 1219.3 192.4 1204.1 192.6 1195.7 192.7 1188.7 192.8 1203.2 192.9 1185.6 193.1 1207.0 193.2 1198.9 193.3 1185.0 193.4 1195.3 193.6 1194.4 193.7 1204.3 193.8 1184.1 193.9 1193.1 194.1 1192.6 194.2 1199.5 194.3 1183.6 194.4 1182.8 194.6 1204.7 194.7 1197.0 194.8 1177.9 194.9 1188.6 195.1 1180.8 195.2 1179.5 195.3 1174.2 195.4 1191.4 195.6 1181.2 195.7 1185.0 195.8 1184.2 195.9 1169.5 196.1 1172.8 196.2 1186.2 196.3 1167.7 196.4 1179.6 196.6 1178.3 196.7 1184.2 196.8 1185.3 196.9 1186.3 197.1 1179.0 197.2 1178.8 197.3 1169.4 197.4 1168.4 197.6 1181.1 197.7 1169.2 197.8 1181.6 197.9 1183.7 198.1 1166.5 198.2 1175.9 198.3 1164.0 198.4 1172.6 198.6 1162.9 198.7 1171.8 198.8 1171.6 198.9 1158.8 199.1 1187.8 199.2 1182.2 199.3 1153.8 199.4 1168.3 199.6 1162.6 199.7 1187.9 199.8 1169.9 199.9 1170.9 200.1 1164.4 200.2 1171.9 200.3 1160.0 200.4 1153.0 200.6 1155.8 200.7 1156.9 200.8 1168.9 200.9 1164.8 201.1 1157.3 201.2 1155.9 201.3 1149.2 201.4 1160.0 201.6 1136.7 201.7 1152.3 201.8 1172.7 201.9 1157.4 202.1 1150.3 202.2 1158.5 202.3 1149.1 202.4 1150.5 202.6 1169.8 202.7 1158.2 202.8 1189.2 202.9 1178.8 203.1 1169.8 203.2 1162.6 203.3 1166.7 203.4 1148.5 203.6 1171.2 203.7 1185.6 203.8 1185.6 203.9 1174.4 204.1 1186.0 204.2 1189.6 204.3 1182.0 204.4 1187.3 204.6 1197.8 204.7 1193.9 204.8 1184.0 204.9 1187.8 205.1 1191.3 205.2 1171.9 205.3 1189.9 205.4 1191.4 205.6 1171.2 205.7 1172.5 205.8 1213.6 205.9 1203.1 206.1 1216.7 206.2 1200.1 206.3 1220.4 206.4 1214.0 206.6 1197.8 206.7 1205.9 206.8 1222.5 206.9 1227.5 207.1 1216.2 207.2 1201.4 207.3 1193.9 207.4 1209.9 207.6 1217.7 207.7 1208.6 207.8 1204.1 207.9 1213.4 208.1 1211.7 208.2 1210.3 208.3 1189.4 208.4 1198.2 208.6 1223.6 208.7 1208.4 208.8 1226.2 208.9 1214.2 209.1 1203.9 209.2 1207.8 209.3 1211.8 209.4 1199.2 209.6 1206.5 209.7 1201.3 209.8 1219.0 209.9 1203.6 210.1 1206.2 210.2 1190.9 210.3 1189.4 210.4 1201.4 210.6 1196.0 210.7 1200.9 210.8 1206.8 210.9 1210.8 211.1 1193.0 211.2 1200.6 211.3 1209.8 211.4 1199.1 211.6 1191.1 211.7 1194.9 211.8 1216.5 211.9 1206.0 212.1 1217.5 212.2 1202.9 212.3 1213.1 212.4 1191.6 212.6 1197.7 212.7 1201.7 212.8 1216.8 212.9 1208.4 213.1 1212.1 213.2 1199.4 213.3 1196.7 213.4 1210.3 213.6 1214.1 213.7 1212.9 213.8 1212.2 213.9 1197.5 214.1 1216.2 214.2 1203.7 214.3 1209.9 214.4 1206.7 214.6 1185.6 214.7 1181.0 214.8 1181.2 214.9 1193.7 215.1 1205.2 215.2 1196.8 215.3 1203.8 215.4 1189.3 215.6 1191.4 215.7 1189.9 215.8 1196.8 215.9 1189.5 216.1 1196.1 216.2 1202.6 216.3 1196.4 216.4 1192.3 216.6 1194.8 216.7 1190.1 216.8 1190.7 216.9 1203.7 217.1 1203.3 217.2 1191.3 217.3 1196.9 217.4 1203.1 217.6 1206.7 217.7 1206.5 217.8 1208.8 217.9 1202.9 218.1 1202.0 218.2 1200.6 218.3 1208.7 218.4 1209.0 218.6 1214.7 218.7 1211.9 218.8 1200.2 218.9 1194.2 219.1 1193.8 219.2 1196.8 219.3 1206.0 219.4 1196.8 219.6 1191.6 219.7 1199.9 219.8 1207.0 219.9 1208.0 220.1 1213.1 220.2 1204.0 220.3 1198.8 220.4 1199.0 220.6 1192.5 220.7 1194.9 220.8 1206.9 220.9 1213.3 221.1 1210.3 221.2 1203.2 221.3 1198.1 221.4 1199.9 221.6 1186.4 221.7 1199.1 221.8 1202.8 221.9 1197.3 222.1 1196.9 222.2 1185.1 222.3 1199.0 222.4 1201.6 222.6 1181.1 222.7 1187.4 222.8 1195.5 222.9 1206.1 223.1 1190.3 223.2 1192.6 223.3 1203.5 223.4 1198.4 223.6 1192.1 223.7 1188.9 223.8 1191.5 223.9 1185.6 224.1 1197.6 224.2 1185.7 224.3 1193.8 224.4 1198.0 224.6 1200.8 224.7 1192.9 224.8 1190.4 224.9 1192.1 225.1 1190.4 225.2 1197.8 225.3 1190.2 225.4 1205.0 225.6 1205.8 225.7 1190.7 225.8 1194.4 225.9 1183.6 226.1 1196.3 226.2 1196.7 226.3 1192.4 226.4 1185.8 226.6 1192.8 226.7 1209.2 226.8 1209.8 226.9 1201.4 227.1 1192.8 227.2 1195.8 227.3 1191.2 227.4 1186.8 227.6 1189.2 227.7 1201.0 227.8 1201.6 227.9 1201.2 228.1 1192.7 228.2 1189.4 228.3 1205.6 228.4 1199.9 228.6 1209.5 228.7 1198.9 228.8 1208.6 228.9 1206.1 229.1 1201.6 229.2 1201.1 229.3 1216.5 229.4 1213.6 229.6 1205.8 229.7 1207.3 229.8 1197.0 229.9 1216.1 230.1 1218.2 230.2 1207.4 230.3 1211.1 230.4 1194.6 230.6 1211.9 230.7 1213.1 230.8 1212.3 230.9 1216.2 231.1 1213.8 231.2 1205.3 231.3 1205.7 231.4 1209.5 231.6 1217.7 231.7 1213.8 231.8 1208.7 231.9 1214.9 232.1 1205.8 232.2 1226.4 232.3 1219.0 232.4 1209.2 232.6 1215.3 232.7 1223.0 232.8 1221.2 232.9 1231.0 233.1 1210.2 233.2 1226.9 233.3 1219.5 233.4 1224.6 233.6 1231.7 233.7 1213.3 233.8 1208.5 233.9 1214.9 234.1 1207.7 234.2 1205.9 234.3 1218.3 234.4 1229.0 234.6 1220.0 234.7 1225.4 234.8 1237.5 234.9 1230.8 235.1 1222.9 235.2 1222.6 235.3 1227.1 235.4 1222.6 235.6 1228.2 235.7 1225.6 235.8 1229.7 235.9 1224.6 236.1 1221.6 236.2 1214.5 236.3 1209.5 236.4 1215.9 236.6 1216.0 236.7 1220.4 236.8 1218.4 236.9 1215.3 237.1 1232.6 237.2 1222.5 237.3 1226.4 237.4 1210.8 237.6 1221.8 237.7 1224.7 237.8 1219.8 237.9 1208.9 238.1 1221.5 238.2 1209.6 238.3 1200.9 238.4 1198.2 238.6 1209.3 238.7 1207.2 238.8 1215.6 238.9 1215.9 239.1 1220.5 239.2 1213.7 239.3 1210.4 239.4 1208.5 239.6 1202.1 239.7 1200.1 239.8 1200.0 239.9 1206.4 240.1 1199.6 240.2 1203.3 240.3 1211.9 240.4 1189.0 240.6 1194.2 240.7 1194.1 240.8 1200.6 240.9 1191.0 241.1 1194.5 241.2 1215.8 241.3 1193.2 241.4 1197.2 241.6 1199.6 241.7 1195.7 241.8 1187.4 241.9 1201.9 242.1 1181.6 242.2 1184.2 242.3 1189.9 242.4 1187.2 242.6 1200.6 242.7 1190.5 242.8 1206.3 242.9 1192.9 243.1 1202.7 243.2 1194.6 243.3 1186.5 243.4 1183.8 243.6 1194.3 243.7 1181.8 243.8 1183.2 243.9 1175.9 244.1 1164.8 244.2 1182.8 244.3 1187.3 244.4 1170.1 244.6 1182.0 244.7 1176.9 244.8 1159.3 244.9 1164.1 245.1 1180.5 245.2 1187.0 245.3 1181.3 245.4 1196.2 245.6 1184.4 245.7 1169.9 245.8 1160.4 245.9 1189.5 246.1 1176.0 246.2 1175.0 246.3 1171.1 246.4 1171.1 246.6 1176.4 246.7 1186.5 246.8 1190.1 246.9 1189.6 247.1 1196.2 247.2 1183.9 247.3 1176.9 247.4 1185.9 247.6 1169.8 247.7 1194.7 247.8 1197.2 247.9 1198.7 248.1 1183.8 248.2 1187.3 248.3 1193.8 248.4 1185.7 248.6 1184.0 248.7 1193.0 248.8 1199.0 248.9 1193.0 249.1 1208.8 249.2 1220.8 249.3 1212.1 249.4 1203.1 249.6 1200.7 249.7 1219.3 249.8 1211.3 249.9 1212.6 250.1 1209.5 250.2 1201.7 250.3 1219.6 250.4 1207.1 250.6 1208.5 250.7 1188.9 250.8 1223.1 250.9 1217.5 251.1 1209.1 251.2 1201.5 251.3 1201.8 251.4 1192.7 251.6 1209.8 251.7 1202.0 251.8 1211.6 251.9 1213.9 252.1 1226.7 252.2 1215.3 252.3 1213.9 252.4 1215.5 252.6 1207.0 252.7 1208.6 252.8 1213.6 252.9 1221.3 253.1 1219.8 253.2 1211.9 253.3 1221.9 253.4 1212.0 253.6 1201.8 253.7 1222.8 253.8 1215.9 253.9 1211.3 254.1 1205.3 254.2 1209.8 254.3 1225.9 254.4 1217.1 254.6 1229.7 254.7 1219.2 254.8 1224.5 254.9 1218.3 255.1 1214.0 255.2 1213.6 255.3 1214.8 255.4 1209.2 255.6 1208.2 255.7 1218.1 255.8 1225.9 255.9 1220.4 256.1 1218.6 256.2 1211.6 256.3 1224.3 256.4 1226.5 256.6 1211.0 256.7 1216.8 256.8 1214.9 256.9 1205.7 257.1 1227.5 257.2 1228.7 257.3 1222.3 257.4 1229.8 257.6 1215.8 257.7 1219.4 257.8 1229.1 257.9 1217.3 258.1 1219.9 258.2 1209.4 258.3 1221.4 258.4 1228.4 258.6 1210.6 258.7 1208.6 258.8 1214.7 258.9 1229.6 259.1 1214.6 259.2 1208.4 259.3 1214.0 259.4 1227.4 259.6 1203.6 259.7 1212.2 259.8 1229.0 259.9 1218.6 260.1 1213.9 260.2 1224.6 260.3 1205.4 260.4 1235.3 260.6 1224.9 260.7 1213.8 260.8 1216.4 260.9 1215.3 261.1 1212.6 261.2 1202.2 261.3 1210.3 261.4 1196.3 261.6 1226.1 261.7 1205.6 261.8 1205.5 261.9 1204.8 262.1 1220.7 262.2 1214.0 262.3 1230.1 262.4 1213.0 262.6 1216.1 262.7 1214.4 262.8 1211.0 262.9 1226.0 263.1 1230.2 263.2 1232.0 263.3 1203.0 263.4 1216.0 263.6 1202.5 263.7 1199.5 263.8 1192.3 263.9 1199.4 264.1 1217.9 264.2 1230.3 264.3 1236.6 264.4 1209.6 264.6 1207.9 264.7 1217.2 264.8 1218.5 264.9 1220.0 265.1 1200.6 265.2 1213.2 265.3 1223.8 265.4 1223.2 265.6 1219.8 265.7 1213.9 265.8 1219.2 265.9 1236.3 266.1 1230.0 266.2 1234.1 266.3 1240.5 266.4 1218.2 266.6 1229.4 266.7 1230.3 266.8 1237.9 266.9 1227.0 267.1 1225.5 267.2 1222.3 267.3 1228.6 267.4 1226.8 267.6 1227.9 267.7 1232.1 267.8 1228.3 267.9 1224.2 268.1 1227.5 268.2 1227.8 268.3 1234.8 268.4 1241.9 268.6 1233.5 268.7 1221.2 268.8 1235.5 268.9 1235.1 269.1 1229.6 269.2 1233.3 269.3 1248.2 269.4 1229.5 269.6 1228.1 269.7 1235.5 269.8 1224.2 269.9 1231.2 270.1 1244.2 270.2 1244.2 270.3 1243.4 270.4 1238.6 270.6 1239.2 270.7 1256.4 270.8 1247.0 270.9 1252.6 271.1 1235.5 271.2 1243.1 271.3 1245.9 271.4 1245.2 271.6 1228.8 271.7 1238.1 271.8 1254.4 271.9 1251.3 272.1 1241.0 272.2 1251.8 272.3 1233.3 272.4 1248.7 272.6 1250.3 272.7 1243.5 272.8 1239.3 272.9 1233.7 273.1 1243.5 273.2 1260.6 273.3 1256.9 273.4 1252.3 273.6 1255.2 273.7 1243.6 273.8 1249.8 273.9 1229.9 274.1 1237.2 274.2 1239.7 274.3 1243.2 274.4 1242.8 274.6 1248.4 274.7 1239.7 274.8 1249.9 274.9 1242.4 275.1 1249.5 275.2 1244.7 275.3 1249.2 275.4 1246.8 275.6 1237.6 275.7 1241.7 275.8 1230.6 275.9 1238.7 276.1 1242.6 276.2 1238.0 276.3 1237.7 276.4 1246.4 276.6 1249.6 276.7 1251.7 276.8 1236.2 276.9 1233.9 277.1 1242.8 277.2 1245.1 277.3 1224.0 277.4 1249.5 277.6 1248.1 277.7 1228.8 277.8 1243.7 277.9 1234.2 278.1 1234.5 278.2 1227.6 278.3 1227.4 278.4 1230.7 278.6 1235.0 278.7 1226.3 278.8 1232.6 278.9 1228.7 279.1 1229.2 279.2 1226.4 279.3 1227.7 279.4 1245.4 279.6 1223.4 279.7 1221.3 279.8 1230.5 279.9 1228.9 280.1 1224.0 280.2 1234.4 280.3 1223.9 280.4 1230.9 280.6 1239.6 280.7 1238.2 280.8 1231.1 280.9 1231.8 281.1 1233.2 281.2 1236.7 281.3 1225.0 281.4 1240.0 281.6 1238.8 281.7 1246.5 281.8 1238.7 281.9 1237.4 282.1 1209.3 282.2 1216.1 282.3 1236.3 282.4 1226.9 282.6 1216.8 282.7 1223.2 282.8 1218.2 282.9 1218.6 283.1 1207.8 283.2 1215.2 283.3 1224.2 283.4 1213.6 283.6 1212.0 283.7 1200.2 283.8 1207.3 283.9 1199.4 284.1 1187.8 284.2 1192.8 284.3 1194.3 284.4 1200.8 284.6 1204.6 284.7 1193.2 284.8 1188.1 284.9 1195.5 285.1 1180.8 285.2 1182.1 285.3 1182.0 285.4 1181.5 285.6 1175.8 285.7 1195.9 285.8 1192.0 285.9 1178.5 286.1 1163.4 286.2 1170.4 286.3 1183.3 286.4 1160.9 286.6 1200.9 286.7 1184.0 286.8 1181.3 286.9 1187.9 287.1 1169.7 287.2 1180.9 287.3 1182.9 287.4 1190.5 287.6 1176.3 287.7 1189.2 287.8 1197.4 287.9 1191.2 288.1 1182.7 288.2 1178.8 288.3 1170.1 288.4 1179.7 288.6 1191.6 288.7 1203.1 288.8 1201.7 288.9 1203.2 289.1 1189.5 289.2 1187.6 289.3 1178.4 289.4 1184.4 289.6 1182.2 289.7 1189.5 289.8 1199.0 289.9 1194.8 290.1 1192.8 290.2 1200.9 290.3 1209.3 290.4 1207.0 290.6 1184.5 290.7 1206.5 290.8 1193.6 290.9 1183.1 291.1 1189.0 291.2 1200.1 291.3 1177.7 291.4 1198.8 291.6 1195.1 291.7 1196.6 291.8 1182.4 291.9 1185.2 292.1 1181.2 292.2 1196.8 292.3 1185.6 292.4 1191.2 292.6 1184.7 292.7 1176.0 292.8 1191.8 292.9 1196.7 293.1 1199.5 293.2 1185.5 293.3 1186.6 293.4 1190.8 293.6 1188.8 293.7 1187.3 293.8 1199.3 293.9 1184.8 294.1 1189.9 294.2 1181.3 294.3 1191.9 294.4 1182.8 294.6 1176.1 294.7 1185.4 294.8 1182.2 294.9 1178.0 295.1 1177.6 295.2 1174.1 295.3 1181.1 295.4 1180.6 295.6 1190.5 295.7 1173.4 295.8 1186.6 295.9 1181.6 296.1 1163.1 296.2 1184.3 296.3 1158.7 296.4 1173.7 296.6 1153.8 296.7 1169.5 296.8 1165.9 296.9 1165.5 297.1 1147.9 297.2 1155.4 297.3 1177.2 297.4 1175.2 297.6 1166.8 297.7 1163.8 297.8 1156.7 297.9 1179.2 298.1 1165.9 298.2 1176.3 298.3 1146.3 298.4 1138.5 298.6 1173.4 298.7 1151.1 298.8 1154.9 298.9 1164.1 299.1 1171.9 299.2 1169.6 299.3 1168.1 299.4 1182.0 299.6 1166.5 299.7 1172.0 299.8 1161.6 299.9 1161.0 300.1 1183.4 300.2 1159.9 300.3 1131.3 300.4 1152.4 300.6 1159.3 300.7 1181.9 300.8 1157.7 300.9 1142.7 301.1 1156.2 301.2 1181.0 301.3 1157.6 301.4 1173.6 301.6 1166.8 301.7 1167.2 301.8 1148.3 301.9 1156.0 302.1 1146.2 302.2 1154.5 302.3 1147.1 302.4 1168.3 302.6 1151.8 302.7 1152.1 302.8 1131.3 302.9 1137.7 303.1 1180.4 303.2 1155.8 303.3 1135.5 303.4 1150.9 303.6 1151.3 303.7 1147.9 303.8 1149.7 303.9 1148.0 304.1 1164.6 304.2 1142.0 304.3 1154.6 304.4 1164.5 304.6 1145.7 304.7 1178.7 304.8 1160.2 304.9 1155.1 305.1 1149.2 305.2 1164.0 305.3 1140.4 305.4 1160.7 305.6 1180.8 305.7 1167.4 305.8 1170.2 305.9 1152.5 306.1 1167.5 306.2 1154.8 306.3 1156.2 306.4 1161.6 306.6 1182.1 306.7 1161.9 306.8 1145.4 306.9 1162.6 307.1 1172.6 307.2 1173.9 307.3 1170.6 307.4 1180.7 307.6 1178.8 307.7 1178.3 307.8 1167.8 307.9 1157.6 308.1 1181.7 308.2 1166.5 308.3 1181.4 308.4 1183.7 308.6 1166.4 308.7 1167.6 308.8 1176.3 308.9 1182.5 309.1 1170.2 309.2 1172.8 309.3 1168.3 309.4 1166.2 309.6 1175.7 309.7 1173.6 309.8 1161.7 309.9 1178.0 310.1 1175.5 310.2 1175.2 310.3 1168.1 310.4 1183.0 310.6 1183.1 310.7 1183.4 310.8 1180.8 310.9 1184.0 311.1 1195.1 311.2 1186.1 311.3 1185.1 311.4 1179.4 311.6 1187.9 311.7 1182.3 311.8 1177.3 311.9 1192.7 312.1 1184.8 312.2 1177.3 312.3 1177.4 312.4 1179.4 312.6 1175.0 312.7 1197.4 312.8 1194.4 312.9 1176.1 313.1 1196.3 313.2 1186.2 313.3 1190.4 313.4 1185.4 313.6 1192.2 313.7 1193.4 313.8 1197.4 313.9 1198.9 314.1 1170.6 314.2 1180.9 314.3 1188.0 314.4 1187.8 314.6 1176.6 314.7 1184.3 314.8 1187.7 314.9 1172.9 315.1 1179.4 315.2 1195.2 315.3 1185.5 315.4 1188.7 315.6 1191.1 315.7 1196.1 315.8 1199.3 315.9 1202.9 316.1 1195.9 316.2 1195.4 316.3 1192.7 316.4 1195.3 316.6 1193.4 316.7 1200.4 316.8 1201.6 316.9 1185.0 317.1 1178.6 317.2 1194.8 317.3 1191.3 317.4 1182.6 317.6 1201.1 317.7 1209.3 317.8 1190.0 317.9 1187.3 318.1 1188.7 318.2 1187.8 318.3 1193.0 318.4 1185.5 318.6 1193.1 318.7 1191.2 318.8 1203.2 318.9 1195.5 319.1 1202.5 319.2 1209.4 319.3 1201.9 319.4 1201.5 319.6 1190.8 319.7 1193.1 319.8 1213.4 319.9 1210.6 320.1 1197.0 320.2 1189.9 320.3 1190.6 320.4 1202.9 320.6 1174.0 320.7 1191.0 320.8 1178.4 320.9 1203.6 321.1 1179.2 321.2 1198.5 321.3 1189.7 321.4 1191.0 321.6 1208.6 321.7 1194.3 321.8 1198.8 321.9 1196.4 322.1 1178.7 322.2 1187.5 322.3 1200.5 322.4 1196.1 322.6 1193.6 322.7 1183.0 322.8 1205.7 322.9 1187.1 323.1 1209.2 323.2 1196.0 323.3 1199.0 323.4 1176.5 323.6 1188.5 323.7 1179.5 323.8 1188.8 323.9 1202.8 324.1 1196.4 324.2 1193.9 324.3 1201.2 324.4 1179.4 324.6 1189.0 324.7 1183.3 324.8 1200.3 324.9 1184.5 325.1 1206.0 325.2 1211.3 325.3 1172.6 325.4 1184.9 325.6 1172.2 325.7 1199.4 325.8 1182.7 325.9 1195.0 326.1 1194.2 326.2 1181.0 326.3 1172.3 326.4 1197.8 326.6 1184.6 326.7 1190.3 326.8 1202.7 326.9 1189.8 327.1 1184.0 327.2 1175.0 327.3 1187.7 327.4 1176.8 327.6 1165.5 327.7 1173.7 327.8 1174.4 327.9 1164.3 328.1 1175.2 328.2 1187.2 328.3 1186.6 328.4 1198.5 328.6 1193.5 328.7 1183.3 328.8 1158.9 328.9 1175.0 329.1 1187.0 329.2 1174.9 329.3 1187.8 329.4 1168.0 329.6 1174.5 329.7 1180.5 329.8 1189.1 329.9 1174.3 330.1 1188.8 330.2 1170.4 330.3 1153.3 330.4 1164.4 330.6 1179.4 330.7 1166.6 330.8 1181.0 330.9 1167.0 331.1 1182.3 331.2 1148.7 331.3 1181.0 331.4 1148.9 331.6 1159.4 331.7 1151.2 331.8 1162.1 331.9 1159.1 332.1 1157.3 332.2 1164.5 332.3 1168.3 332.4 1157.4 332.6 1168.2 332.7 1144.4 332.8 1144.9 332.9 1141.9 333.1 1156.5 333.2 1162.6 333.3 1151.9 333.4 1147.5 333.6 1141.5 333.7 1155.5 333.8 1161.7 333.9 1148.2 334.1 1148.1 334.2 1145.8 334.3 1148.0 334.4 1151.9 334.6 1131.0 334.7 1139.1 334.8 1151.5 334.9 1139.4 335.1 1154.2 335.2 1158.5 335.3 1140.5 335.4 1138.4 335.6 1155.8 335.7 1135.0 335.8 1136.0 335.9 1131.7 336.1 1145.1 336.2 1150.9 336.3 1153.6 336.4 1152.7 336.6 1138.3 336.7 1158.1 336.8 1151.6 336.9 1147.7 337.1 1166.0 337.2 1155.8 337.3 1156.2 337.4 1161.0 337.6 1171.1 337.7 1157.3 337.8 1161.0 337.9 1135.9 338.1 1141.6 338.2 1171.6 338.3 1174.1 338.4 1158.9 338.6 1148.5 338.7 1142.2 338.8 1142.7 338.9 1149.1 339.1 1139.6 339.2 1153.6 339.3 1156.1 339.4 1146.6 339.6 1144.4 339.7 1145.6 339.8 1152.9 339.9 1157.4 340.1 1166.4 340.2 1146.0 340.3 1156.0 340.4 1162.1 340.6 1166.5 340.7 1173.0 340.8 1162.4 340.9 1176.8 341.1 1185.1 341.2 1175.5 341.3 1183.8 341.4 1180.2 341.6 1174.8 341.7 1167.7 341.8 1171.3 341.9 1188.6 342.1 1174.8 342.2 1163.9 342.3 1164.9 342.4 1177.9 342.6 1167.1 342.7 1180.5 342.8 1181.8 342.9 1177.6 343.1 1191.1 343.2 1165.4 343.3 1168.0 343.4 1172.5 343.6 1179.4 343.7 1164.2 343.8 1168.9 343.9 1187.7 344.1 1174.5 344.2 1184.6 344.3 1174.8 344.4 1167.2 344.6 1178.2 344.7 1188.2 344.8 1176.0 344.9 1160.2 345.1 1162.1 345.2 1165.5 345.3 1167.9 345.4 1160.8 345.6 1176.4 345.7 1160.4 345.8 1179.0 345.9 1160.2 346.1 1156.9 346.2 1179.1 346.3 1178.8 346.4 1166.7 346.6 1161.0 346.7 1163.7 346.8 1167.0 346.9 1169.7 347.1 1179.2 347.2 1159.1 347.3 1164.5 347.4 1165.9 347.6 1149.0 347.7 1175.3 347.8 1186.5 347.9 1168.3 348.1 1143.2 348.2 1149.4 348.3 1171.9 348.4 1141.1 348.6 1141.1 348.7 1152.2 348.8 1166.8 348.9 1173.9 349.1 1177.4 349.2 1142.8 349.3 1153.0 349.4 1151.5 349.6 1151.3 349.7 1170.2 349.8 1170.2 349.9 1158.2 350.1 1166.0 350.2 1167.4 350.3 1178.5 350.4 1162.5 350.6 1171.1 350.7 1159.9 350.8 1168.9 350.9 1166.3 351.1 1168.7 351.2 1166.8 351.3 1180.3 351.4 1163.3 351.6 1158.1 351.7 1160.6 351.8 1170.1 351.9 1174.1 352.1 1168.7 352.2 1162.8 352.3 1163.9 352.4 1162.0 352.6 1171.0 352.7 1168.8 352.8 1170.3 352.9 1169.2 353.1 1169.1 353.2 1177.5 353.3 1166.3 353.4 1171.1 353.6 1172.4 353.7 1163.1 353.8 1180.1 353.9 1172.2 354.1 1159.6 354.2 1173.8 354.3 1173.5 354.4 1174.5 354.6 1167.3 354.7 1164.5 354.8 1168.1 354.9 1156.4 355.1 1166.5 355.2 1167.7 355.3 1174.6 355.4 1166.9 355.6 1172.0 355.7 1156.3 355.8 1158.5 355.9 1171.7 356.1 1180.0 356.2 1176.9 356.3 1156.2 356.4 1155.9 356.6 1159.3 356.7 1175.6 356.8 1163.2 356.9 1168.3 357.1 1171.5 357.2 1172.5 357.3 1167.8 357.4 1171.2 357.6 1176.7 357.7 1172.2 357.8 1169.8 357.9 1176.8 358.1 1184.9 358.2 1189.1 358.3 1166.1 358.4 1173.0 358.6 1173.2 358.7 1162.9 358.8 1168.3 358.9 1166.2 359.1 1163.3 359.2 1166.3 359.3 1178.2 359.4 1166.1 359.6 1168.4 359.7 1172.7 359.8 1166.1 359.9 1162.9 360.1 1159.2 360.2 1166.3 360.3 1187.5 360.4 1163.9 360.6 1182.6 360.7 1170.5 360.8 1168.1 360.9 1183.7 361.1 1185.1 361.2 1186.6 361.3 1181.7 361.4 1189.3 361.6 1178.1 361.7 1185.3 361.8 1192.9 361.9 1186.1 362.1 1178.4 362.2 1199.6 362.3 1188.1 362.4 1180.0 362.6 1192.9 362.7 1201.5 362.8 1198.0 362.9 1183.3 363.1 1191.6 363.2 1195.9 363.3 1200.1 363.4 1185.1 363.6 1184.1 363.7 1196.3 363.8 1198.0 363.9 1202.5 364.1 1209.5 364.2 1192.2 364.3 1191.3 364.4 1196.0 364.6 1213.3 364.7 1204.6 364.8 1212.2 364.9 1190.6 365.1 1205.2 365.2 1213.9 365.3 1219.7 365.4 1206.7 365.6 1222.8 365.7 1204.7 365.8 1217.0 365.9 1220.9 366.1 1206.8 366.2 1192.5 366.3 1218.3 366.4 1207.3 366.6 1190.1 366.7 1200.8 366.8 1187.5 366.9 1195.3 367.1 1183.5 367.2 1172.2 367.3 1193.6 367.4 1183.5 367.6 1186.3 367.7 1188.5 367.8 1184.7 367.9 1176.9 368.1 1186.5 368.2 1190.5 368.3 1185.8 368.4 1176.9 368.6 1178.9 368.7 1197.2 368.8 1196.4 368.9 1176.5 369.1 1183.0 369.2 1183.4 369.3 1182.7 369.4 1174.3 369.6 1178.1 369.7 1166.1 369.8 1177.9 369.9 1177.9 370.1 1180.0 370.2 1180.1 370.3 1178.4 370.4 1158.8 370.6 1149.3 370.7 1166.0 370.8 1161.7 370.9 1176.5 371.1 1160.2 371.2 1159.3 371.3 1147.0 371.4 1161.2 371.6 1160.2 371.7 1180.6 371.8 1170.1 371.9 1185.6 372.1 1160.2 372.2 1144.2 372.3 1175.7 372.4 1174.4 372.6 1187.8 372.7 1161.8 372.8 1143.3 372.9 1181.2 373.1 1172.8 373.2 1160.4 373.3 1189.0 373.4 1172.0 373.6 1157.6 373.7 1169.3 373.8 1160.7 373.9 1155.4 374.1 1168.8 374.2 1167.3 374.3 1164.7 374.4 1165.5 374.6 1151.6 374.7 1172.9 374.8 1189.1 374.9 1176.5 375.1 1185.1 375.2 1190.1 375.3 1172.6 375.4 1163.3 375.6 1158.6 375.7 1163.4 375.8 1178.6 375.9 1171.7 376.1 1185.2 376.2 1168.3 376.3 1190.1 376.4 1173.5 376.6 1173.0 376.7 1174.8 376.8 1172.3 376.9 1173.4 377.1 1181.4 377.2 1175.8 377.3 1180.9 377.4 1169.3 377.6 1167.3 377.7 1160.9 377.8 1181.9 377.9 1170.3 378.1 1181.4 378.2 1180.5 378.3 1180.8 378.4 1177.7 378.6 1185.5 378.7 1186.7 378.8 1199.4 378.9 1182.9 379.1 1178.2 379.2 1168.4 379.3 1203.6 379.4 1179.7 379.6 1192.4 379.7 1194.8 379.8 1172.5 379.9 1175.0 380.1 1192.3 380.2 1187.2 380.3 1170.6 380.4 1185.1 380.6 1206.0 380.7 1195.8 380.8 1196.7 380.9 1207.0 381.1 1213.8 381.2 1196.2 381.3 1182.4 381.4 1187.4 381.6 1183.0 381.7 1169.6 381.8 1184.5 381.9 1176.0 382.1 1206.4 382.2 1192.2 382.3 1160.2 382.4 1168.0 382.6 1190.5 382.7 1181.2 382.8 1175.9 382.9 1178.1 383.1 1174.4 383.2 1192.9 383.3 1181.9 383.4 1173.6 383.6 1194.7 383.7 1172.4 383.8 1185.8 383.9 1172.7 384.1 1177.2 384.2 1177.0 384.3 1169.0 384.4 1173.9 384.6 1199.5 384.7 1173.4 384.8 1204.7 384.9 1196.9 385.1 1203.6 385.2 1181.1 385.3 1194.2 385.4 1186.8 385.6 1204.9 385.7 1181.6 385.8 1194.8 385.9 1177.6 386.1 1195.0 386.2 1179.8 386.3 1169.0 386.4 1163.9 386.6 1170.7 386.7 1194.1 386.8 1168.5 386.9 1168.9 387.1 1175.7 387.2 1178.5 387.3 1181.1 387.4 1196.9 387.6 1179.5 387.7 1161.7 387.8 1183.0 387.9 1173.8 388.1 1173.9 388.2 1178.1 388.3 1196.3 388.4 1195.7 388.6 1181.1 388.7 1173.1 388.8 1181.3 388.9 1167.6 389.1 1151.8 389.2 1162.3 389.3 1185.4 389.4 1168.5 389.6 1167.1 389.7 1192.6 389.8 1197.9 389.9 1199.4 390.1 1169.0 390.2 1180.1 390.3 1194.0 390.4 1192.3 390.6 1172.2 390.7 1170.1 390.8 1161.1 390.9 1161.4 391.1 1173.4 391.2 1175.0 391.3 1156.8 391.4 1174.0 391.6 1170.0 391.7 1183.9 391.8 1159.9 391.9 1165.0 392.1 1133.6 392.2 1165.2 392.3 1168.6 392.4 1172.3 392.6 1160.7 392.7 1157.4 392.8 1154.6 392.9 1171.6 393.1 1143.1 393.2 1148.8 393.3 1159.0 393.4 1146.6 393.6 1135.3 393.7 1141.0 393.8 1149.9 393.9 1168.7 394.1 1142.0 394.2 1115.2 394.3 1150.7 394.4 1143.1 394.6 1149.2 394.7 1139.5 394.8 1137.7 394.9 1109.8 395.1 1139.0 395.2 1121.6 395.3 1143.0 395.4 1111.3 395.6 1148.6 395.7 1137.1 395.8 1109.8 395.9 1132.7 396.1 1138.1 396.2 1139.5 396.3 1122.9 396.4 1166.7 396.6 1137.2 396.7 1152.6 396.8 1111.8 396.9 1141.5 397.1 1146.8 397.2 1140.9 397.3 1157.6 397.4 1135.3 397.6 1145.8 397.7 1140.9 397.8 1144.9 397.9 1128.3 398.1 1148.0 398.2 1150.8 398.3 1148.0 398.4 1147.9 398.6 1138.3 398.7 1133.5 398.8 1138.2 398.9 1147.7 399.1 1127.6 399.2 1139.4 399.3 1165.2 399.4 1159.0 399.6 1134.9 399.7 1160.5 399.8 1125.9 399.9 1139.5 400.1 1160.3 400.2 1158.7 400.3 1154.4 400.4 1135.5 400.6 1124.1 400.7 1150.5 400.8 1152.7 400.9 1171.4 401.1 1146.3 401.2 1135.0 401.3 1140.0 401.4 1125.2 401.6 1140.8 401.7 1147.9 401.8 1148.1 401.9 1172.3 402.1 1176.5 402.2 1153.0 402.3 1145.7 402.4 1166.2 402.6 1168.0 402.7 1141.8 402.8 1142.8 402.9 1142.8 403.1 1137.4 403.2 1144.8 403.3 1138.9 403.4 1160.4 403.6 1161.9 403.7 1138.5 403.8 1145.8 403.9 1148.2 404.1 1171.3 404.2 1153.5 404.3 1167.5 404.4 1179.4 404.6 1153.5 404.7 1165.1 404.8 1162.9 404.9 1172.2 405.1 1147.6 405.2 1155.0 405.3 1141.2 405.4 1167.8 405.6 1140.5 405.7 1160.5 405.8 1144.4 405.9 1151.8 406.1 1152.7 406.2 1164.6 406.3 1173.5 406.4 1183.7 406.6 1189.2 406.7 1173.2 406.8 1155.4 406.9 1183.2 407.1 1156.2 407.2 1167.9 407.3 1161.1 407.4 1161.1 407.6 1172.7 407.7 1157.0 407.8 1168.7 407.9 1171.5 408.1 1188.3 408.2 1192.3 408.3 1187.9 408.4 1176.9 408.6 1197.2 408.7 1190.7 408.8 1159.4 408.9 1173.8 409.1 1178.5 409.2 1162.4 409.3 1172.9 409.4 1167.6 409.6 1159.2 409.7 1169.3 409.8 1162.7 409.9 1154.0 410.1 1167.1 410.2 1147.4 410.3 1178.4 410.4 1167.1 410.6 1169.7 410.7 1179.8 410.8 1181.2 410.9 1167.6 411.1 1171.5 411.2 1178.9 411.3 1184.7 411.4 1162.4 411.6 1169.2 411.7 1156.1 411.8 1155.4 411.9 1163.2 412.1 1163.2 412.2 1154.5 412.3 1154.5 412.4 1162.6 412.6 1151.6 412.7 1165.1 412.8 1155.1 412.9 1178.8 413.1 1172.0 413.2 1176.6 413.3 1167.0 413.4 1180.2 413.6 1177.4 413.7 1179.7 413.8 1174.1 413.9 1178.8 414.1 1172.6 414.2 1179.3 414.3 1171.5 414.4 1170.2 414.6 1175.4 414.7 1176.3 414.8 1175.2 414.9 1167.6 415.1 1172.0 415.2 1186.6 415.3 1181.1 415.4 1182.7 415.6 1173.9 415.7 1194.1 415.8 1180.5 415.9 1186.9 416.1 1182.1 416.2 1195.7 416.3 1166.6 416.4 1159.4 416.6 1173.5 416.7 1160.2 416.8 1166.5 416.9 1169.1 417.1 1174.0 417.2 1184.6 417.3 1162.4 417.4 1178.6 417.6 1189.1 417.7 1194.2 417.8 1163.4 417.9 1164.8 418.1 1189.5 418.2 1161.1 418.3 1178.0 418.4 1171.9 418.6 1171.7 418.7 1146.6 418.8 1143.4 418.9 1147.5 419.1 1163.2 419.2 1167.3 419.3 1150.2 419.4 1157.2 419.6 1155.9 419.7 1143.3 419.8 1138.4 419.9 1129.9 420.1 1132.7 420.2 1135.8 420.3 1155.6 420.4 1154.6 420.6 1143.1 420.7 1144.8 420.8 1132.8 420.9 1120.6 421.1 1135.7 421.2 1143.4 421.3 1132.4 421.4 1149.4 421.6 1151.7 421.7 1150.2 421.8 1124.5 421.9 1138.1 422.1 1146.7 422.2 1134.5 422.3 1135.7 422.4 1149.4 422.6 1163.5 422.7 1155.5 422.8 1148.7 422.9 1140.6 423.1 1133.8 423.2 1135.0 423.3 1147.3 423.4 1141.9 423.6 1158.6 423.7 1136.9 423.8 1134.6 423.9 1145.0 424.1 1150.0 424.2 1150.5 424.3 1139.6 424.4 1141.0 424.6 1157.7 424.7 1148.9 424.8 1146.5 424.9 1157.1 425.1 1157.3 425.2 1154.0 425.3 1169.6 425.4 1144.4 425.6 1156.6 425.7 1150.1 425.8 1165.2 425.9 1149.4 426.1 1163.1 426.2 1155.8 426.3 1180.5 426.4 1168.1 426.6 1182.5 426.7 1159.9 426.8 1155.9 426.9 1166.1 427.1 1146.1 427.2 1151.1 427.3 1180.0 427.4 1182.2 427.6 1168.2 427.7 1181.5 427.8 1177.2 427.9 1177.2 428.1 1160.8 428.2 1181.2 428.3 1167.4 428.4 1190.5 428.6 1164.7 428.7 1199.5 428.8 1173.2 428.9 1158.6 429.1 1159.1 429.2 1179.3 429.3 1182.7 429.4 1171.3 429.6 1188.9 429.7 1207.5 429.8 1188.5 429.9 1192.9 430.1 1195.2 430.2 1195.2 430.3 1161.3 430.4 1196.9 430.6 1183.9 430.7 1183.7 430.8 1197.3 430.9 1155.3 431.1 1185.6 431.2 1186.0 431.3 1203.3 431.4 1190.5 431.6 1200.1 431.7 1198.6 431.8 1170.2 431.9 1178.4 432.1 1172.0 432.2 1178.6 432.3 1170.1 432.4 1160.8 432.6 1175.4 432.7 1176.0 432.8 1185.3 432.9 1200.9 433.1 1180.4 433.2 1178.0 433.3 1194.0 433.4 1194.2 433.6 1165.1 433.7 1176.9 433.8 1162.4 433.9 1166.8 434.1 1171.5 434.2 1176.3 434.3 1175.8 434.4 1181.4 434.6 1184.0 434.7 1199.0 434.8 1193.3 434.9 1170.9 435.1 1194.6 435.2 1187.5 435.3 1168.8 435.4 1167.3 435.6 1179.3 435.7 1182.4 435.8 1186.2 435.9 1164.6 436.1 1174.8 436.2 1206.3 436.3 1166.2 436.4 1162.9 436.6 1179.4 436.7 1186.1 436.8 1176.7 436.9 1184.0 437.1 1182.4 437.2 1172.8 437.3 1181.3 437.4 1179.6 437.6 1188.0 437.7 1194.2 437.8 1175.1 437.9 1181.7 438.1 1170.6 438.2 1177.7 438.3 1185.7 438.4 1195.4 438.6 1178.2 438.7 1194.3 438.8 1188.6 438.9 1186.0 439.1 1186.5 439.2 1182.5 439.3 1194.8 439.4 1177.1 439.6 1196.3 439.7 1188.0 439.8 1212.7 439.9 1193.2 440.1 1200.3 440.2 1207.5 440.3 1210.3 440.4 1221.4 440.6 1225.4 440.7 1204.7 440.8 1197.3 440.9 1220.0 441.1 1212.8 441.2 1205.7 441.3 1206.7 441.4 1217.9 441.6 1220.1 441.7 1185.7 441.8 1195.8 441.9 1201.4 442.1 1197.5 442.2 1223.1 442.3 1230.1 442.4 1216.0 442.6 1232.3 442.7 1215.9 442.8 1232.1 442.9 1228.0 443.1 1220.3 443.2 1221.9 443.3 1210.2 443.4 1225.9 443.6 1211.6 443.7 1218.9 443.8 1204.6 443.9 1201.7 444.1 1210.7 444.2 1212.2 444.3 1224.3 444.4 1210.3 444.6 1212.7 444.7 1213.1 444.8 1226.8 444.9 1213.0 445.1 1195.7 445.2 1188.1 445.3 1197.0 445.4 1202.7 445.6 1190.5 445.7 1187.5 445.8 1188.4 445.9 1197.1 446.1 1204.4 446.2 1192.2 446.3 1188.2 446.4 1207.2 446.6 1215.0 446.7 1204.3 446.8 1191.0 446.9 1187.8 447.1 1198.6 447.2 1178.1 447.3 1175.3 447.4 1198.0 447.6 1180.5 447.7 1183.0 447.8 1209.3 447.9 1191.2 448.1 1204.2 448.2 1192.0 448.3 1182.4 448.4 1194.0 448.6 1191.5 448.7 1199.2 448.8 1180.6 448.9 1194.2 449.1 1194.4 449.2 1199.3 449.3 1195.7 449.4 1184.4 449.6 1201.6 449.7 1201.4 449.8 1201.5 449.9 1198.8 450.1 1196.1 450.2 1187.8 450.3 1176.3 450.4 1175.6 450.6 1186.9 450.7 1174.7 450.8 1182.1 450.9 1195.9 451.1 1184.4 451.2 1204.3 451.3 1180.1 451.4 1193.9 451.6 1177.2 451.7 1192.0 451.8 1205.3 451.9 1193.8 452.1 1185.3 452.2 1185.1 452.3 1198.6 452.4 1203.3 452.6 1201.5 452.7 1195.5 452.8 1191.0 452.9 1192.5 453.1 1192.0 453.2 1189.0 453.3 1206.3 453.4 1211.5 453.6 1213.3 453.7 1216.7 453.8 1203.3 453.9 1194.2 454.1 1205.3 454.2 1205.3 454.3 1201.0 454.4 1209.6 454.6 1207.0 454.7 1213.2 454.8 1213.5 454.9 1207.6 455.1 1211.5 455.2 1210.2 455.3 1214.9 455.4 1214.4 455.6 1210.6 455.7 1217.1 455.8 1215.5 455.9 1215.5 456.1 1216.8 456.2 1226.7 456.3 1220.4 456.4 1216.6 456.6 1214.0 456.7 1209.2 456.8 1215.4 456.9 1216.9 457.1 1214.9 457.2 1219.9 457.3 1219.7 457.4 1220.7 457.6 1217.3 457.7 1223.7 457.8 1221.4 457.9 1216.3 458.1 1217.8 458.2 1222.0 458.3 1216.7 458.4 1222.9 458.6 1217.9 458.7 1212.0 458.8 1220.0 458.9 1217.3 459.1 1218.8 459.2 1218.5 459.3 1222.6 459.4 1219.9 459.6 1222.2 459.7 1217.1 459.8 1219.2 459.9 1217.6 460.1 1219.2 460.2 1226.3 460.3 1218.5 460.4 1220.5 460.6 1218.7 460.7 1220.7 460.8 1217.2 460.9 1217.3 461.1 1213.7 461.2 1222.2 461.3 1220.2 461.4 1220.4 461.6 1215.6 461.7 1223.4 461.8 1223.7 461.9 1219.2 462.1 1220.3 462.2 1218.8 462.3 1222.3 462.4 1213.3 462.6 1218.8 462.7 1220.2 462.8 1222.3 462.9 1216.9 463.1 1216.7 463.2 1215.7 463.3 1221.7 463.4 1221.3 463.6 1223.3 463.7 1222.9 463.8 1222.4 463.9 1216.7 464.1 1218.5 464.2 1223.6 464.3 1221.7 464.4 1217.3 464.6 1217.2 464.7 1218.7 464.8 1220.0 464.9 1221.7 465.1 1222.0 465.2 1223.8 465.3 1226.4 465.4 1225.9 465.6 1220.6 465.7 1230.1 465.8 1224.8 465.9 1222.5 466.1 1228.3 466.2 1230.8 466.3 1228.5 466.4 1231.2 466.6 1227.0 466.7 1226.6 466.8 1223.4 466.9 1230.6 467.1 1229.5 467.2 1234.8 467.3 1229.1 467.4 1233.5 467.6 1231.1 467.7 1236.7 467.8 1232.0 467.9 1236.6 468.1 1228.8 468.2 1229.8 468.3 1229.8 468.4 1236.1 468.6 1225.7 468.7 1227.5 468.8 1233.0 468.9 1232.8 469.1 1232.6 469.2 1234.2 469.3 1231.6 469.4 1234.5 469.6 1237.6 469.7 1228.5 469.8 1236.0 469.9 1228.2 470.1 1223.9 470.2 1228.3 470.3 1228.7 470.4 1230.4 470.6 1223.6 470.7 1227.0 470.8 1225.0 470.9 1232.6 471.1 1228.8 471.2 1224.3 471.3 1220.9 471.4 1225.3 471.6 1236.4 471.7 1218.7 471.8 1220.5 471.9 1231.1 472.1 1231.9 472.2 1225.0 472.3 1223.8 472.4 1221.5 472.6 1218.2 472.7 1220.8 472.8 1226.0 472.9 1225.8 473.1 1214.2 473.2 1219.9 473.3 1218.4 473.4 1229.8 473.6 1216.1 473.7 1214.8 473.8 1213.4 473.9 1237.7 474.1 1237.8 474.2 1225.8 474.3 1230.8 474.4 1214.7 474.6 1221.1 474.7 1238.7 474.8 1226.7 474.9 1216.7 475.1 1219.3 475.2 1220.1 475.3 1223.2 475.4 1223.9 475.6 1221.9 475.7 1214.9 475.8 1223.3 475.9 1225.1 476.1 1215.0 476.2 1227.6 476.3 1225.3 476.4 1237.9 476.6 1232.1 476.7 1223.3 476.8 1219.9 476.9 1237.8 477.1 1237.4 477.2 1233.1 477.3 1234.6 477.4 1219.6 477.6 1234.7 477.7 1229.0 477.8 1229.0 477.9 1236.8 478.1 1235.5 478.2 1221.3 478.3 1233.9 478.4 1231.1 478.6 1240.1 478.7 1235.6 478.8 1238.0 478.9 1228.3 479.1 1227.7 479.2 1226.2 479.3 1235.9 479.4 1230.0 479.6 1233.2 479.7 1249.9 479.8 1246.7 479.9 1250.7 480.1 1238.3 480.2 1234.2 480.3 1236.7 480.4 1244.6 480.6 1237.1 480.7 1253.2 480.8 1239.4 480.9 1251.3 481.1 1238.8 481.2 1237.7 481.3 1245.3 481.4 1244.7 481.6 1242.9 481.7 1242.1 481.8 1246.5 481.9 1241.8 482.1 1255.7 482.2 1251.6 482.3 1248.8 482.4 1238.8 482.6 1255.1 482.7 1248.6 482.8 1240.0 482.9 1236.6 483.1 1227.9 483.2 1234.9 483.3 1228.0 483.4 1229.7 483.6 1246.5 483.7 1239.5 483.8 1235.1 483.9 1248.9 484.1 1237.6 484.2 1251.0 484.3 1239.9 484.4 1241.4 484.6 1237.1 484.7 1235.1 484.8 1238.9 484.9 1246.2 485.1 1240.2 485.2 1232.6 485.3 1226.8 485.4 1242.1 485.6 1234.2 485.7 1230.5 485.8 1238.1 485.9 1239.6 486.1 1240.3 486.2 1233.9 486.3 1225.5 486.4 1237.6 486.6 1236.8 486.7 1236.7 486.8 1231.9 486.9 1239.2 487.1 1238.1 487.2 1239.2 487.3 1244.9 487.4 1237.8 487.6 1235.8 487.7 1235.6 487.8 1228.1 487.9 1233.8 488.1 1243.0 488.2 1243.7 488.3 1236.0 488.4 1230.6 488.6 1239.4 488.7 1238.9 488.8 1239.5 488.9 1247.7 489.1 1239.2 489.2 1245.7 489.3 1242.2 489.4 1244.9 489.6 1236.1 489.7 1238.3 489.8 1241.1 489.9 1239.0 490.1 1240.0 490.2 1238.1 490.3 1250.9 490.4 1228.2 490.6 1242.8 490.7 1241.2 490.8 1233.2 490.9 1234.7 491.1 1229.6 491.2 1241.8 491.3 1245.1 491.4 1243.8 491.6 1251.2 491.7 1231.7 491.8 1230.4 491.9 1235.4 492.1 1243.7 492.2 1243.8 492.3 1234.2 492.4 1239.1 492.6 1244.7 492.7 1231.7 492.8 1241.9 492.9 1246.2 493.1 1248.0 493.2 1248.3 493.3 1239.6 493.4 1226.7 493.6 1228.4 493.7 1231.8 493.8 1236.6 493.9 1243.8 494.1 1240.8 494.2 1241.9 494.3 1249.0 494.4 1231.7 494.6 1239.8 494.7 1244.0 494.8 1248.8 494.9 1253.7 495.1 1249.4 495.2 1234.7 495.3 1242.2 495.4 1234.4 495.6 1240.9 495.7 1235.4 495.8 1234.8 495.9 1239.8 496.1 1234.8 496.2 1238.3 496.3 1238.0 496.4 1241.8 496.6 1235.0 496.7 1229.7 496.8 1224.4 496.9 1238.2 497.1 1242.1 497.2 1231.3 497.3 1223.5 497.4 1239.2 497.6 1237.8 497.7 1242.6 497.8 1238.4 497.9 1245.8 498.1 1241.2 498.2 1237.1 498.3 1243.5 498.4 1230.0 498.6 1234.7 498.7 1236.7 498.8 1234.0 498.9 1237.8 499.1 1233.4 499.2 1223.5 499.3 1247.0 499.4 1237.8 499.6 1234.1 499.7 1225.4 499.8 1233.8 499.9 1233.8 500.1 1225.4 500.2 1241.4 500.3 1243.1 500.4 1224.4 500.6 1238.5 500.7 1230.9 500.8 1239.7 500.9 1239.7 501.1 1243.1 501.2 1240.6 501.3 1246.2 501.4 1235.3 501.6 1233.1 501.7 1232.7 501.8 1231.9 501.9 1248.7 502.1 1239.0 502.2 1244.3 502.3 1238.6 502.4 1235.3 502.6 1241.2 502.7 1232.2 502.8 1238.8 502.9 1244.0 503.1 1237.5 503.2 1236.5 503.3 1232.8 503.4 1238.9 503.6 1241.6 503.7 1243.0 503.8 1233.7 503.9 1234.5 504.1 1228.8 504.2 1235.7 504.3 1239.1 504.4 1235.8 504.6 1233.6 504.7 1236.3 504.8 1236.0 504.9 1237.1 505.1 1228.9 505.2 1226.2 505.3 1227.9 505.4 1225.1 505.6 1233.2 505.7 1247.4 505.8 1236.0 505.9 1220.5 506.1 1223.5 506.2 1222.5 506.3 1233.6 506.4 1233.6 506.6 1245.7 506.7 1235.0 506.8 1230.7 506.9 1241.1 507.1 1225.1 507.2 1229.4 507.3 1239.8 507.4 1234.4 507.6 1234.7 507.7 1223.3 507.8 1215.5 507.9 1224.4 508.1 1237.1 508.2 1226.2 508.3 1219.2 508.4 1213.5 508.6 1242.1 508.7 1217.6 508.8 1220.8 508.9 1216.4 509.1 1231.6 509.2 1213.5 509.3 1212.2 509.4 1226.1 509.6 1212.5 509.7 1228.6 509.8 1237.6 509.9 1229.7 510.1 1207.7 510.2 1215.8 510.3 1221.6 510.4 1237.0 510.6 1241.7 510.7 1237.8 510.8 1228.2 510.9 1223.4 511.1 1223.5 511.2 1218.5 511.3 1219.1 511.4 1217.6 511.6 1222.4 511.7 1235.4 511.8 1213.3 511.9 1238.7 512.1 1232.1 512.2 1232.9 512.3 1223.8 512.5 1221.2 512.6 1232.0 512.7 1218.7 512.8 1210.7 513.0 1216.5 513.1 1212.5 513.2 1228.5 513.3 1220.4 513.5 1221.7 513.6 1217.2 513.7 1215.3 513.8 1224.7 514.0 1218.6 514.1 1227.1 514.2 1199.5 514.3 1213.2 514.5 1219.2 514.6 1211.8 514.7 1195.0 514.8 1206.2 515.0 1205.7 515.1 1218.3 515.2 1219.2 515.3 1217.9 515.5 1210.5 515.6 1209.4 515.7 1207.9 515.8 1213.9 516.0 1206.4 516.1 1209.2 516.2 1211.2 516.3 1203.6 516.5 1203.6 516.6 1196.1 516.7 1190.2 516.8 1191.9 517.0 1190.4 517.1 1182.4 517.2 1193.8 517.3 1201.2 517.5 1202.4 517.6 1207.0 517.7 1192.2 517.8 1206.3 518.0 1190.0 518.1 1190.1 518.2 1199.5 518.3 1173.7 518.5 1186.1 518.6 1187.4 518.7 1199.9 518.8 1180.2 519.0 1182.0 519.1 1157.3 519.2 1173.6 519.3 1160.8 519.5 1160.0 519.6 1177.9 519.7 1167.6 519.8 1157.5 520.0 1175.8 520.1 1172.6 520.2 1165.1 520.3 1150.4 520.5 1155.1 520.6 1148.7 520.7 1157.6 520.8 1157.7 521.0 1160.6 521.1 1155.3 521.2 1158.5 521.3 1172.2 521.5 1159.7 521.6 1172.4 521.7 1174.0 521.8 1174.2 522.0 1146.6 522.1 1169.3 522.2 1166.6 522.3 1169.7 522.5 1162.6 522.6 1161.2 522.7 1151.8 522.8 1148.9 523.0 1165.0 523.1 1155.1 523.2 1157.7 523.3 1173.9 523.5 1181.5 523.6 1167.4 523.7 1144.4 523.8 1165.4 524.0 1176.4 524.1 1169.4 524.2 1163.4 524.3 1154.2 524.5 1166.6 524.6 1189.5 524.7 1180.8 524.8 1167.1 525.0 1158.1 525.1 1171.3 525.2 1155.0 525.3 1162.9 525.5 1168.9 525.6 1171.4 525.7 1181.1 525.8 1179.5 526.0 1167.8 526.1 1159.7 526.2 1181.0 526.3 1163.4 526.5 1166.6 526.6 1209.5 526.7 1187.8 526.8 1209.9 527.0 1192.0 527.1 1201.4 527.2 1208.7 527.3 1217.1 527.5 1203.7 527.6 1192.5 527.7 1204.9 527.8 1191.3 528.0 1190.4 528.1 1220.7 528.2 1205.0 528.3 1227.2 528.5 1231.6 528.6 1209.1 528.7 1209.7 528.8 1212.7 529.0 1229.6 529.1 1221.0 529.2 1234.8 529.3 1222.9 529.5 1236.1 529.6 1222.4 529.7 1240.0 529.8 1237.8 530.0 1244.8 530.1 1242.1 530.2 1206.8 530.3 1247.7 530.5 1233.1 530.6 1209.2 530.7 1216.3 530.8 1213.5 531.0 1234.9 531.1 1225.9 531.2 1229.6 531.3 1244.4 531.5 1212.4 531.6 1206.8 531.7 1229.9 531.8 1210.1 532.0 1240.7 532.1 1217.8 532.2 1216.3 532.3 1242.4 532.5 1258.2 532.6 1235.7 532.7 1223.5 532.8 1205.2 533.0 1215.5 533.1 1214.5 533.2 1202.8 533.3 1208.2 533.5 1227.8 533.6 1219.0 533.7 1183.3 533.8 1228.2 534.0 1229.2 534.1 1192.7 534.2 1220.9 534.3 1188.9 534.5 1207.1 534.6 1203.3 534.7 1184.4 534.8 1198.7 535.0 1196.9 535.1 1195.8 535.2 1172.0 535.3 1196.1 535.5 1184.5 535.6 1204.7 535.7 1199.5 535.8 1194.5 536.0 1165.8 536.1 1204.0 536.2 1186.1 536.3 1175.3 536.5 1163.5 536.6 1167.7 536.7 1183.7 536.8 1141.3 537.0 1170.8 537.1 1151.8 537.2 1153.9 537.3 1175.1 537.5 1181.1 537.6 1171.6 537.7 1179.0 537.8 1198.2 538.0 1182.5 538.1 1162.6 538.2 1170.3 538.3 1172.0 538.5 1199.0 538.6 1179.1 538.7 1156.7 538.8 1157.9 539.0 1195.8 539.1 1193.7 539.2 1170.5 539.3 1162.3 539.5 1192.9 539.6 1170.3 539.7 1181.2 539.8 1198.8 540.0 1200.8 540.1 1179.0 540.2 1196.5 540.3 1170.1 540.5 1191.7 540.6 1184.8 540.7 1166.3 540.8 1207.1 541.0 1195.0 541.1 1202.3 541.2 1190.2 541.3 1222.8 541.5 1221.8 541.6 1196.0 541.7 1219.8 541.8 1209.7 542.0 1216.5 542.1 1167.9 542.2 1188.8 542.3 1174.0 542.5 1182.8 542.6 1181.0 542.7 1188.2 542.8 1159.5 543.0 1174.3 543.1 1162.8 543.2 1191.5 543.3 1186.7 543.5 1189.5 543.6 1194.0 543.7 1191.1 543.8 1172.9 544.0 1177.2 544.1 1153.9 544.2 1165.6 544.3 1168.2 544.5 1169.6 544.6 1176.0 544.7 1172.8 544.8 1191.4 545.0 1185.6 545.1 1173.7 545.2 1166.8 545.3 1162.2 545.5 1180.1 545.6 1162.0 545.7 1176.7 545.8 1157.5 546.0 1164.6 546.1 1152.9 546.2 1169.4 546.3 1169.9 546.5 1162.3 546.6 1148.7 546.7 1144.9 546.8 1154.0 547.0 1174.7 547.1 1157.5 547.2 1166.7 547.3 1155.9 547.5 1170.3 547.6 1156.6 547.7 1177.1 547.8 1158.0 548.0 1160.6 548.1 1182.1 548.2 1171.5 548.3 1167.3 548.5 1164.0 548.6 1169.1 548.7 1155.3 548.8 1151.2 549.0 1177.3 549.1 1167.1 549.2 1167.2 549.3 1164.7 549.5 1165.5 549.6 1176.5 549.7 1168.6 549.8 1163.7 550.0 1157.3 550.1 1164.2 550.2 1175.4 550.3 1160.1 550.5 1157.9 550.6 1174.6 550.7 1167.6 550.8 1175.5 551.0 1153.8 551.1 1152.5 551.2 1148.7 551.3 1163.9 551.5 1145.3 551.6 1164.3 551.7 1161.5 551.8 1166.9 552.0 1171.7 552.1 1174.3 552.2 1136.5 552.3 1163.0 552.5 1174.0 552.6 1158.5 552.7 1168.0 552.8 1169.3 553.0 1170.7 553.1 1149.0 553.2 1173.5 553.3 1146.5 553.5 1163.5 553.6 1168.5 553.7 1168.6 553.8 1166.9 554.0 1180.2 554.1 1172.9 554.2 1167.8 554.3 1176.6 554.5 1146.5 554.6 1152.7 554.7 1144.8 554.8 1142.2 555.0 1168.9 555.1 1164.2 555.2 1179.4 555.3 1172.3 555.5 1135.0 555.6 1150.0 555.7 1152.7 555.8 1151.0 556.0 1177.2 556.1 1157.3 556.2 1171.4 556.3 1161.3 556.5 1159.1 556.6 1153.6 556.7 1177.6 556.8 1163.8 557.0 1150.6 557.1 1160.5 557.2 1146.1 557.3 1171.8 557.5 1151.3 557.6 1152.7 557.7 1162.1 557.8 1151.8 558.0 1174.4 558.1 1164.3 558.2 1163.8 558.3 1163.5 558.5 1162.5 558.6 1163.2 558.7 1180.9 558.8 1162.8 559.0 1151.1 559.1 1171.0 559.2 1171.9 559.3 1157.3 559.5 1153.9 559.6 1171.0 559.7 1162.2 559.8 1157.8 560.0 1155.6 560.1 1149.2 560.2 1161.5 560.3 1141.3 560.5 1139.0 560.6 1131.3 560.7 1142.1 560.8 1137.9 561.0 1152.9 561.1 1143.8 561.2 1148.0 561.3 1158.5 561.5 1153.3 561.6 1142.9 561.7 1141.9 561.8 1138.5 562.0 1147.6 562.1 1149.7 562.2 1165.9 562.3 1161.4 562.5 1155.4 562.6 1140.8 562.7 1150.2 562.8 1133.7 563.0 1120.4 563.1 1148.2 563.2 1158.8 563.3 1121.7 563.5 1152.7 563.6 1127.3 563.7 1130.4 563.8 1150.5 564.0 1146.0 564.1 1147.2 564.2 1134.7 564.3 1161.9 564.5 1150.1 564.6 1147.1 564.7 1170.1 564.8 1154.7 565.0 1159.1 565.1 1162.8 565.2 1154.2 565.3 1136.9 565.5 1156.6 565.6 1145.8 565.7 1167.5 565.8 1169.7 566.0 1130.4 566.1 1171.4 566.2 1143.2 566.3 1155.5 566.5 1160.1 566.6 1155.7 566.7 1159.9 566.8 1172.0 567.0 1163.2 567.1 1156.3 567.2 1157.7 567.3 1156.1 567.5 1154.3 567.6 1154.8 567.7 1153.8 567.8 1166.4 568.0 1149.7 568.1 1140.7 568.2 1168.9 568.3 1155.0 568.5 1172.2 568.6 1160.3 568.7 1144.4 568.8 1158.4 569.0 1178.7 569.1 1149.0 569.2 1148.2 569.3 1130.6 569.5 1152.8 569.6 1151.2 569.7 1178.7 569.8 1125.7 570.0 1154.7 570.1 1154.1 570.2 1161.5 570.3 1149.7 570.5 1154.7 570.6 1142.5 570.7 1142.3 570.8 1162.6 571.0 1113.5 571.1 1160.5 571.2 1139.4 571.3 1146.0 571.5 1168.8 571.6 1173.3 571.7 1157.5 571.8 1150.2 572.0 1125.6 572.1 1145.1 572.2 1144.3 572.3 1140.4 572.5 1131.1 572.6 1145.0 572.7 1156.2 572.8 1141.7 573.0 1125.3 573.1 1152.3 573.2 1136.2 573.3 1138.6 573.5 1143.3 573.6 1142.7 573.7 1135.2 573.8 1137.6 574.0 1147.6 574.1 1144.6 574.2 1152.0 574.3 1161.3 574.5 1166.9 574.6 1144.4 574.7 1144.6 574.8 1148.5 575.0 1150.1 575.1 1157.0 575.2 1155.5 575.3 1138.1 575.5 1137.9 575.6 1154.4 575.7 1165.4 575.8 1168.4 576.0 1163.2 576.1 1162.2 576.2 1148.1 576.3 1144.0 576.5 1155.9 576.6 1179.6 576.7 1174.5 576.8 1161.1 577.0 1156.1 577.1 1157.3 577.2 1156.7 577.3 1173.9 577.5 1158.0 577.6 1168.5 577.7 1162.0 577.8 1168.8 578.0 1177.1 578.1 1171.0 578.2 1170.7 578.3 1163.7 578.5 1163.9 578.6 1183.2 578.7 1169.6 578.8 1171.0 579.0 1163.7 579.1 1175.7 579.2 1167.7 579.3 1176.0 579.5 1172.9 579.6 1170.4 579.7 1178.9 579.8 1184.4 580.0 1171.0 580.1 1185.4 580.2 1183.2 580.3 1188.9 580.5 1193.1 580.6 1182.8 580.7 1183.8 580.8 1189.1 581.0 1197.7 581.1 1174.9 581.2 1201.1 581.3 1193.4 581.5 1182.3 581.6 1192.4 581.7 1189.4 581.8 1211.3 582.0 1199.6 582.1 1197.3 582.2 1199.7 582.3 1197.3 582.5 1205.7 582.6 1211.6 582.7 1210.7 582.8 1204.4 583.0 1216.8 583.1 1212.5 583.2 1210.9 583.3 1219.7 583.5 1215.5 583.6 1199.4 583.7 1213.4 583.8 1201.2 584.0 1203.6 584.1 1209.6 584.2 1214.3 584.3 1216.5 584.5 1212.4 584.6 1219.2 584.7 1218.3 584.8 1213.9 585.0 1205.6 585.1 1216.5 585.2 1209.0 585.3 1209.8 585.5 1211.8 585.6 1211.7 585.7 1205.1 585.8 1213.6 586.0 1211.1 586.1 1212.0 586.2 1220.1 586.3 1227.3 586.5 1221.0 586.6 1214.8 586.7 1214.5 586.8 1223.5 587.0 1219.8 587.1 1213.6 587.2 1228.8 587.3 1225.2 587.5 1217.6 587.6 1215.9 587.7 1211.1 587.8 1209.0 588.0 1217.5 588.1 1214.6 588.2 1224.3 588.3 1216.9 588.5 1217.8 588.6 1222.5 588.7 1212.7 588.8 1219.7 589.0 1210.9 589.1 1228.2 589.2 1213.9 589.3 1213.2 589.5 1228.8 589.6 1218.0 589.7 1221.4 589.8 1218.3 590.0 1207.6 590.1 1216.2 590.2 1212.9 590.3 1225.0 590.5 1213.9 590.6 1224.9 590.7 1217.1 590.8 1219.2 591.0 1228.3 591.1 1217.7 591.2 1215.4 591.3 1219.7 591.5 1212.5 591.6 1219.9 591.7 1221.4 591.8 1217.1 592.0 1206.7 592.1 1204.0 592.2 1207.1 592.3 1209.9 592.5 1201.7 592.6 1208.4 592.7 1211.7 592.8 1211.9 593.0 1219.2 593.1 1209.3 593.2 1211.9 593.3 1204.6 593.5 1214.8 593.6 1208.1 593.7 1206.6 593.8 1208.0 594.0 1192.7 594.1 1210.5 594.2 1202.3 594.3 1203.1 594.5 1203.1 594.6 1222.0 594.7 1208.3 594.8 1199.7 595.0 1201.6 595.1 1200.0 595.2 1199.0 595.3 1202.6 595.5 1210.7 595.6 1192.5 595.7 1202.3 595.8 1198.9 596.0 1200.0 596.1 1208.0 596.2 1198.6 596.3 1179.4 596.5 1198.6 596.6 1203.4 596.7 1203.5 596.8 1190.7 597.0 1209.1 597.1 1195.5 597.2 1186.7 597.3 1208.3 597.5 1175.6 597.6 1194.0 597.7 1196.3 597.8 1189.1 598.0 1183.6 598.1 1200.6 598.2 1201.2 598.3 1204.3 598.5 1192.0 598.6 1188.2 598.7 1187.6 598.8 1177.2 599.0 1194.4 599.1 1196.3 599.2 1193.0 599.3 1176.5 599.5 1181.4 599.6 1185.7 599.7 1187.1 599.8 1178.2 600.0 1185.6 600.1 1193.1 600.2 1174.9 600.3 1175.9 600.5 1169.6 600.6 1166.9 600.7 1171.0 600.8 1177.5 601.0 1179.5 601.1 1175.2 601.2 1181.1 601.3 1179.7 601.5 1171.3 601.6 1176.2 601.7 1173.1 601.8 1171.8 602.0 1163.0 602.1 1172.5 602.2 1164.6 602.3 1177.6 602.5 1168.2 602.6 1172.6 602.7 1164.5 602.8 1153.3 603.0 1163.7 603.1 1156.7 603.2 1161.7 603.3 1159.6 603.5 1177.0 603.6 1162.9 603.7 1160.8 603.8 1159.1 604.0 1172.3 604.1 1163.0 604.2 1159.5 604.3 1171.2 604.5 1170.8 604.6 1157.7 604.7 1143.9 604.8 1159.5 605.0 1156.9 605.1 1150.3 605.2 1159.3 605.3 1159.3 605.5 1148.1 605.6 1161.5 605.7 1161.2 605.8 1169.7 606.0 1158.5 606.1 1170.0 606.2 1160.3 606.3 1157.3 606.5 1159.4 606.6 1163.7 606.7 1151.6 606.8 1168.4 607.0 1163.7 607.1 1168.4 607.2 1162.9 607.3 1164.3 607.5 1162.8 607.6 1147.9 607.7 1143.2 607.8 1152.7 608.0 1176.5 608.1 1153.0 608.2 1162.5 608.3 1170.6 608.5 1158.1 608.6 1165.2 608.7 1162.6 608.8 1178.4 609.0 1174.8 609.1 1149.8 609.2 1155.1 609.3 1144.9 609.5 1151.9 609.6 1147.2 609.7 1144.2 609.8 1166.1 610.0 1159.9 610.1 1158.8 610.2 1164.0 610.3 1166.4 610.5 1156.5 610.6 1133.0 610.7 1155.7 610.8 1153.4 611.0 1129.5 611.1 1138.4 611.2 1132.9 611.3 1130.0 611.5 1148.6 611.6 1136.2 611.7 1137.9 611.8 1132.3 612.0 1148.3 612.1 1126.0 612.2 1133.2 612.3 1143.8 612.5 1136.2 612.6 1126.5 612.7 1116.8 612.8 1140.5 613.0 1139.2 613.1 1135.9 613.2 1131.0 613.3 1137.2 613.5 1137.0 613.6 1118.0 613.7 1128.5 613.8 1141.3 614.0 1148.4 614.1 1115.9 614.2 1137.6 614.3 1151.6 614.5 1144.4 614.6 1153.5 614.7 1139.3 614.8 1141.5 615.0 1138.1 615.1 1136.5 615.2 1147.8 615.3 1142.6 615.5 1152.8 615.6 1151.7 615.7 1136.5 615.8 1153.2 616.0 1128.4 616.1 1139.7 616.2 1140.5 616.3 1137.1 616.5 1149.6 616.6 1163.5 616.7 1161.7 616.8 1157.5 617.0 1142.5 617.1 1157.1 617.2 1150.5 617.3 1149.9 617.5 1158.7 617.6 1150.9 617.7 1150.1 617.8 1160.3 618.0 1153.7 618.1 1166.1 618.2 1148.6 618.3 1164.8 618.5 1167.2 618.6 1163.4 618.7 1152.3 618.8 1167.1 619.0 1156.3 619.1 1170.7 619.2 1168.5 619.3 1154.7 619.5 1164.7 619.6 1169.5 619.7 1170.4 619.8 1165.7 620.0 1165.5 620.1 1180.8 620.2 1171.1 620.3 1173.0 620.5 1168.8 620.6 1154.1 620.7 1168.7 620.8 1165.2 621.0 1166.9 621.1 1165.2 621.2 1160.0 621.3 1160.9 621.5 1159.8 621.6 1169.7 621.7 1163.1 621.8 1163.6 622.0 1157.9 622.1 1173.6 622.2 1165.3 622.3 1165.2 622.5 1167.9 622.6 1157.2 622.7 1161.5 622.8 1167.3 623.0 1178.3 623.1 1164.7 623.2 1157.9 623.3 1160.4 623.5 1154.7 623.6 1142.8 623.7 1149.9 623.8 1149.3 624.0 1154.1 624.1 1133.8 624.2 1146.4 624.3 1147.8 624.5 1150.1 624.6 1144.1 624.7 1146.2 624.8 1130.1 625.0 1135.1 625.1 1132.1 625.2 1151.1 625.3 1148.3 625.5 1136.0 625.6 1120.9 625.7 1135.3 625.8 1141.8 626.0 1126.2 626.1 1134.0 626.2 1131.7 626.3 1138.1 626.5 1136.6 626.6 1131.0 626.7 1133.1 626.8 1152.2 627.0 1150.5 627.1 1156.5 627.2 1148.0 627.3 1148.0 627.5 1161.0 627.6 1144.7 627.7 1148.5 627.8 1151.5 628.0 1136.5 628.1 1170.5 628.2 1137.9 628.3 1134.8 628.5 1140.8 628.6 1154.8 628.7 1165.5 628.8 1177.9 629.0 1170.3 629.1 1154.7 629.2 1165.8 629.3 1146.1 629.5 1177.1 629.6 1166.3 629.7 1145.1 629.8 1161.2 630.0 1172.0 630.1 1156.5 630.2 1161.6 630.3 1165.7 630.5 1171.5 630.6 1159.5 630.7 1179.3 630.8 1171.9 631.0 1153.9 631.1 1156.4 631.2 1184.1 631.3 1193.9 631.5 1184.4 631.6 1175.5 631.7 1167.5 631.8 1154.8 632.0 1152.8 632.1 1183.4 632.2 1151.4 632.3 1168.5 632.5 1189.3 632.6 1180.2 632.7 1158.0 632.8 1164.7 633.0 1175.1 633.1 1160.5 633.2 1164.4 633.3 1177.6 633.5 1160.0 633.6 1166.3 633.7 1172.1 633.8 1170.1 634.0 1169.0 634.1 1175.5 634.2 1179.2 634.3 1182.5 634.5 1183.5 634.6 1175.6 634.7 1163.1 634.8 1157.5 635.0 1172.7 635.1 1161.5 635.2 1151.4 635.3 1162.4 635.5 1157.7 635.6 1162.1 635.7 1148.1 635.8 1156.4 636.0 1175.8 636.1 1169.6 636.2 1154.8 636.3 1156.8 636.5 1172.4 636.6 1167.9 636.7 1170.5 636.8 1150.3 637.0 1163.6 637.1 1162.6 637.2 1163.4 637.3 1188.6 637.5 1165.9 637.6 1159.4 637.7 1164.3 637.8 1150.1 638.0 1155.2 638.1 1149.2 638.2 1163.2 638.3 1160.1 638.5 1145.8 638.6 1156.1 638.7 1151.7 638.8 1145.8 639.0 1159.1 639.1 1187.4 639.2 1145.8 639.3 1161.3 639.5 1189.6 639.6 1189.0 639.7 1194.4 639.8 1195.3 640.0 1182.8 640.1 1193.3 640.2 1192.3 640.3 1169.2 640.5 1149.5 640.6 1189.3 640.7 1188.3 640.8 1171.8 641.0 1157.1 641.1 1144.4 641.2 1163.7 641.3 1159.9 641.5 1152.2 641.6 1154.5 641.7 1165.4 641.8 1162.0 642.0 1163.8 642.1 1143.0 642.2 1173.9 642.3 1166.1 642.5 1159.3 642.6 1159.5 642.7 1145.5 642.8 1155.4 643.0 1153.7 643.1 1151.9 643.2 1168.3 643.3 1161.9 643.5 1144.5 643.6 1132.9 643.7 1148.8 643.8 1138.9 644.0 1142.5 644.1 1141.6 644.2 1126.5 644.3 1147.7 644.5 1141.6 644.6 1135.5 644.7 1144.0 644.8 1140.2 645.0 1134.8 645.1 1118.8 645.2 1137.5 645.3 1155.2 645.5 1146.0 645.6 1144.2 645.7 1141.8 645.8 1137.7 646.0 1126.8 646.1 1159.5 646.2 1147.7 646.3 1142.1 646.5 1147.0 646.6 1158.5 646.7 1127.0 646.8 1143.5 647.0 1127.7 647.1 1131.4 647.2 1137.8 647.3 1134.4 647.5 1138.8 647.6 1132.1 647.7 1156.2 647.8 1136.0 648.0 1120.7 648.1 1136.4 648.2 1140.2 648.3 1124.7 648.5 1146.1 648.6 1138.2 648.7 1149.3 648.8 1147.6 649.0 1157.2 649.1 1145.6 649.2 1132.8 649.3 1134.0 649.5 1139.9 649.6 1136.4 649.7 1135.8 649.8 1145.1 650.0 1143.9 650.1 1139.5 650.2 1128.3 650.3 1125.3 650.5 1141.0 650.6 1153.0 650.7 1152.2 650.8 1126.3 651.0 1137.8 651.1 1143.0 651.2 1151.4 651.3 1148.3 651.5 1136.0 651.6 1128.3 651.7 1131.8 651.8 1137.5 652.0 1133.7 652.1 1159.4 652.2 1163.8 652.3 1143.8 652.5 1140.0 652.6 1124.1 652.7 1158.8 652.8 1159.2 653.0 1162.8 653.1 1150.5 653.2 1149.9 653.3 1150.9 653.5 1155.8 653.6 1166.8 653.7 1174.3 653.8 1161.3 654.0 1152.5 654.1 1177.2 654.2 1145.8 654.3 1168.7 654.5 1162.7 654.6 1170.5 654.7 1161.1 654.8 1166.3 655.0 1178.2 655.1 1174.8 655.2 1187.2 655.3 1169.9 655.5 1179.4 655.6 1186.4 655.7 1191.8 655.8 1198.6 656.0 1201.9 656.1 1209.0 656.2 1209.7 656.3 1194.3 656.5 1211.1 656.6 1213.5 656.7 1198.6 656.8 1205.0 657.0 1208.0 657.1 1195.1 657.2 1203.9 657.3 1192.5 657.5 1188.1 657.6 1212.6 657.7 1216.9 657.8 1224.7 658.0 1203.8 658.1 1205.4 658.2 1203.3 658.3 1208.6 658.5 1201.1 658.6 1197.7 658.7 1226.8 658.8 1221.9 659.0 1212.7 659.1 1218.7 659.2 1230.4 659.3 1222.2 659.5 1229.4 659.6 1231.9 659.7 1235.9 659.8 1238.5 660.0 1226.8 660.1 1232.8 660.2 1238.0 660.3 1240.2 660.5 1236.8 660.6 1227.3 660.7 1241.1 660.8 1241.0 661.0 1245.9 661.1 1247.5 661.2 1246.6 661.3 1241.5 661.5 1241.2 661.6 1241.1 661.7 1250.7 661.8 1245.6 662.0 1245.4 662.1 1249.6 662.2 1249.3 662.3 1243.9 662.5 1252.3 662.6 1248.8 662.7 1252.5 662.8 1241.8 663.0 1241.3 663.1 1263.0 663.2 1259.5 663.3 1252.3 663.5 1249.1 663.6 1264.2 663.7 1249.8 663.8 1255.1 664.0 1252.6 664.1 1244.5 664.2 1261.7 664.3 1252.1 664.5 1255.6 664.6 1250.3 664.7 1256.3 664.8 1259.2 665.0 1245.5 665.1 1247.1 665.2 1264.7 665.3 1256.5 665.5 1246.6 665.6 1259.8 665.7 1258.2 665.8 1258.0 666.0 1247.6 666.1 1256.2 666.2 1254.1" fill="none" stroke="#0000ff" stroke-width="0.9" stroke-dasharray="0.7 0.6" stroke-linejoin="round"/>
<path d="M98.2 1191.1H666.3" stroke="#6e6e6e" stroke-width="2.7" stroke-dasharray="10 4.75" stroke-dashoffset="-0.6" fill="none"/>
<rect x="98.2" y="1061.1" width="568.1" height="216.6" fill="none" stroke="#000" stroke-width="1.5"/>
<path d="M98.2 1277.7v6.5M179.4 1277.7v6.5M260.5 1277.7v6.5M341.7 1277.7v6.5M422.8 1277.7v6.5M504 1277.7v6.5M585.1 1277.7v6.5M666.3 1277.7v6.5M98.2 1277.7h-6.5M98.2 1223.5h-6.5M98.2 1169.4h-6.5M98.2 1115.2h-6.5M98.2 1061.1h-6.5" stroke="#000" stroke-width="1.5" fill="none"/>
<g font-family='"Liberation Sans", sans-serif' font-size="19.1" fill="#000">
<text x="98.2" y="1304.6" text-anchor="middle" textLength="11.7" lengthAdjust="spacingAndGlyphs">0</text>
<text x="179.4" y="1304.6" text-anchor="middle" textLength="35" lengthAdjust="spacingAndGlyphs">200</text>
<text x="260.5" y="1304.6" text-anchor="middle" textLength="35" lengthAdjust="spacingAndGlyphs">400</text>
<text x="341.7" y="1304.6" text-anchor="middle" textLength="35" lengthAdjust="spacingAndGlyphs">600</text>
<text x="422.8" y="1304.6" text-anchor="middle" textLength="35" lengthAdjust="spacingAndGlyphs">800</text>
<text x="504" y="1304.6" text-anchor="middle" textLength="46.6" lengthAdjust="spacingAndGlyphs">1000</text>
<text x="585.1" y="1304.6" text-anchor="middle" textLength="46.6" lengthAdjust="spacingAndGlyphs">1200</text>
<text x="666.3" y="1304.6" text-anchor="middle" textLength="46.6" lengthAdjust="spacingAndGlyphs">1400</text>
<text x="85.1" y="1284.5" text-anchor="end" textLength="11.7" lengthAdjust="spacingAndGlyphs">0</text>
<text x="85.1" y="1230.4" text-anchor="end" textLength="23.3" lengthAdjust="spacingAndGlyphs">20</text>
<text x="85.1" y="1176.2" text-anchor="end" textLength="23.3" lengthAdjust="spacingAndGlyphs">40</text>
<text x="85.1" y="1122.1" text-anchor="end" textLength="23.3" lengthAdjust="spacingAndGlyphs">60</text>
<text x="85.1" y="1067.9" text-anchor="end" textLength="23.3" lengthAdjust="spacingAndGlyphs">80</text>
</g>
<text x="382.2" y="1049.7" text-anchor="middle" font-family='"Liberation Sans", sans-serif' font-weight="bold" font-size="31.3" textLength="58.0" lengthAdjust="spacingAndGlyphs">Ss1</text>
<text x="382.2" y="1339.7" text-anchor="middle" font-family='"Liberation Sans", sans-serif' font-size="30.5" textLength="76" lengthAdjust="spacingAndGlyphs">t (ns)</text>
<text transform="translate(46.5 1168.4) rotate(-90)" x="0" y="0" text-anchor="middle" font-family='"Liberation Sans", sans-serif' font-size="30.5" textLength="64" lengthAdjust="spacingAndGlyphs">r (<tspan font-style="italic">Å</tspan>)</text>
<text x="0.0" y="1059.8" font-family='"Liberation Sans", sans-serif' font-weight="bold" font-size="42.6">D</text>
<g fill="#3a7408"><rect x="738.69" y="1622.50" width="2.55" height="1.30"/><rect x="742.13" y="1619.30" width="2.55" height="4.50"/><rect x="745.58" y="1615.50" width="2.55" height="8.30"/><rect x="749.02" y="1608.80" width="2.55" height="15.00"/><rect x="752.47" y="1610.10" width="2.55" height="13.70"/><rect x="755.92" y="1611.60" width="2.55" height="12.20"/><rect x="759.36" y="1606.90" width="2.55" height="16.90"/><rect x="762.81" y="1601.20" width="2.55" height="22.60"/><rect x="766.25" y="1596.30" width="2.55" height="27.50"/><rect x="769.70" y="1593.90" width="2.55" height="29.90"/><rect x="773.15" y="1590.20" width="2.55" height="33.60"/><rect x="776.59" y="1589.60" width="2.55" height="34.20"/><rect x="780.04" y="1584.90" width="2.55" height="38.90"/><rect x="783.48" y="1578.80" width="2.55" height="45.00"/><rect x="786.93" y="1566.40" width="2.55" height="57.40"/><rect x="790.38" y="1556.80" width="2.55" height="67.00"/><rect x="793.82" y="1543.50" width="2.55" height="80.30"/><rect x="797.27" y="1523.80" width="2.55" height="100.00"/><rect x="800.71" y="1510.20" width="2.55" height="113.60"/><rect x="804.16" y="1525.80" width="2.55" height="98.00"/><rect x="807.61" y="1534.40" width="2.55" height="89.40"/><rect x="811.05" y="1539.50" width="2.55" height="84.30"/><rect x="814.50" y="1529.70" width="2.55" height="94.10"/><rect x="817.94" y="1520.70" width="2.55" height="103.10"/><rect x="821.39" y="1531.60" width="2.55" height="92.20"/><rect x="824.84" y="1533.10" width="2.55" height="90.70"/><rect x="828.28" y="1534.90" width="2.55" height="88.90"/><rect x="831.73" y="1535.80" width="2.55" height="88.00"/><rect x="835.17" y="1538.20" width="2.55" height="85.60"/><rect x="838.62" y="1544.80" width="2.55" height="79.00"/><rect x="842.07" y="1545.30" width="2.55" height="78.50"/><rect x="845.51" y="1543.80" width="2.55" height="80.00"/><rect x="848.96" y="1545.30" width="2.55" height="78.50"/><rect x="852.40" y="1553.50" width="2.55" height="70.30"/><rect x="855.85" y="1562.50" width="2.55" height="61.30"/><rect x="859.30" y="1562.50" width="2.55" height="61.30"/><rect x="862.74" y="1565.80" width="2.55" height="58.00"/><rect x="866.19" y="1564.80" width="2.55" height="59.00"/><rect x="869.63" y="1567.80" width="2.55" height="56.00"/><rect x="873.08" y="1569.70" width="2.55" height="54.10"/><rect x="876.53" y="1583.50" width="2.55" height="40.30"/><rect x="879.97" y="1593.90" width="2.55" height="29.90"/><rect x="883.42" y="1593.90" width="2.55" height="29.90"/><rect x="886.86" y="1600.30" width="2.55" height="23.50"/><rect x="890.31" y="1602.40" width="2.55" height="21.40"/><rect x="893.76" y="1608.90" width="2.55" height="14.90"/><rect x="897.20" y="1606.90" width="2.55" height="16.90"/><rect x="900.65" y="1610.00" width="2.55" height="13.80"/><rect x="904.09" y="1610.60" width="2.55" height="13.20"/><rect x="907.54" y="1613.70" width="2.55" height="10.10"/><rect x="910.99" y="1617.10" width="2.55" height="6.70"/><rect x="914.43" y="1617.10" width="2.55" height="6.70"/><rect x="917.88" y="1617.90" width="2.55" height="5.90"/><rect x="921.32" y="1622.00" width="2.55" height="1.80"/><rect x="924.77" y="1622.50" width="2.55" height="1.30"/></g>
<rect x="718.2" y="1407.2" width="257.9" height="216.6" fill="none" stroke="#000" stroke-width="1.5"/>
<path d="M718.2 1623.8v6.5M786.8 1623.8v6.5M855.4 1623.8v6.5M924 1623.8v6.5M718.2 1623.8h-6.5M718.2 1576.6h-6.5M718.2 1529.5h-6.5M718.2 1482.3h-6.5M718.2 1435.2h-6.5" stroke="#000" stroke-width="1.5" fill="none"/>
<g font-family='"Liberation Sans", sans-serif' font-size="19.1" fill="#000">
<text x="718.2" y="1650.7" text-anchor="middle" textLength="11.7" lengthAdjust="spacingAndGlyphs">0</text>
<text x="786.8" y="1650.7" text-anchor="middle" textLength="23.3" lengthAdjust="spacingAndGlyphs">20</text>
<text x="855.4" y="1650.7" text-anchor="middle" textLength="23.3" lengthAdjust="spacingAndGlyphs">40</text>
<text x="924" y="1650.7" text-anchor="middle" textLength="23.3" lengthAdjust="spacingAndGlyphs">60</text>
<text x="704.4" y="1630.6" text-anchor="end" textLength="11.7" lengthAdjust="spacingAndGlyphs">0</text>
<text x="704.4" y="1583.5" text-anchor="end" textLength="35" lengthAdjust="spacingAndGlyphs">500</text>
<text x="704.4" y="1536.3" text-anchor="end" textLength="46.6" lengthAdjust="spacingAndGlyphs">1000</text>
<text x="704.4" y="1489.2" text-anchor="end" textLength="46.6" lengthAdjust="spacingAndGlyphs">1500</text>
<text x="704.4" y="1442" text-anchor="end" textLength="46.6" lengthAdjust="spacingAndGlyphs">2000</text>
</g>
<g font-family='"Liberation Sans", sans-serif' font-size="30.5" fill="#a3a3a3">
<text x="794.7" y="1451.4" font-style="italic">r</text>
<rect x="795.7" y="1428.6" width="12" height="1.7"/>
<text x="815.5" y="1451.4" textLength="21" lengthAdjust="spacingAndGlyphs">=</text>
<text x="845.3" y="1451.4" textLength="36.4" lengthAdjust="spacingAndGlyphs">32</text>
<text x="795.7" y="1484.4" font-style="italic">σ</text>
<text x="822.2" y="1484.4" textLength="21" lengthAdjust="spacingAndGlyphs">=</text>
<text x="851.9" y="1484.4" textLength="36.4" lengthAdjust="spacingAndGlyphs">10</text>
</g>
<text x="847.2" y="1395.8" text-anchor="middle" font-family='"Liberation Sans", sans-serif' font-weight="bold" font-size="31.3" textLength="78.3" lengthAdjust="spacingAndGlyphs">Ss14</text>
<text x="847.2" y="1689" text-anchor="middle" font-family='"Liberation Sans", sans-serif' font-size="30.5" textLength="64" lengthAdjust="spacingAndGlyphs">r (<tspan font-style="italic">Å</tspan>)</text>
<rect x="98.2" y="1407.2" width="568.1" height="216.6" fill="#fff"/>
<path d="M98.2 1503.2 98.3 1480.4 98.5 1508.5 98.6 1506.5 98.7 1522.7 98.8 1514.4 99.0 1531.6 99.1 1512.5 99.2 1501.2 99.3 1514.8 99.5 1515.9 99.6 1505.0 99.7 1504.8 99.8 1519.7 100.0 1523.1 100.1 1505.6 100.2 1504.3 100.3 1481.7 100.5 1533.5 100.6 1513.3 100.7 1535.9 100.8 1525.5 101.0 1546.3 101.1 1547.2 101.2 1527.9 101.3 1545.0 101.5 1504.8 101.6 1537.7 101.7 1493.7 101.8 1519.5 102.0 1539.1 102.1 1527.3 102.2 1513.7 102.3 1502.5 102.5 1509.3 102.6 1537.8 102.7 1539.9 102.8 1517.8 103.0 1494.6 103.1 1526.0 103.2 1492.5 103.3 1502.8 103.5 1501.0 103.6 1527.0 103.7 1522.8 103.8 1525.6 104.0 1522.5 104.1 1505.5 104.2 1522.4 104.3 1539.9 104.5 1519.1 104.6 1525.6 104.7 1514.5 104.8 1530.2 105.0 1527.2 105.1 1529.4 105.2 1521.5 105.3 1538.8 105.5 1512.4 105.6 1507.4 105.7 1502.6 105.8 1518.3 106.0 1504.1 106.1 1500.9 106.2 1518.5 106.3 1527.2 106.5 1520.9 106.6 1485.9 106.7 1491.5 106.8 1493.0 107.0 1491.9 107.1 1501.8 107.2 1531.3 107.3 1511.3 107.5 1502.3 107.6 1518.2 107.7 1513.9 107.8 1513.8 108.0 1504.3 108.1 1510.9 108.2 1517.6 108.3 1491.2 108.5 1490.7 108.6 1521.6 108.7 1525.2 108.8 1510.3 109.0 1501.6 109.1 1509.8 109.2 1500.0 109.3 1508.1 109.5 1532.7 109.6 1520.5 109.7 1529.9 109.8 1516.3 110.0 1520.4 110.1 1532.8 110.2 1505.1 110.3 1510.8 110.5 1514.2 110.6 1520.0 110.7 1535.2 110.8 1528.9 111.0 1504.1 111.1 1512.7 111.2 1507.7 111.3 1506.5 111.5 1539.9 111.6 1511.5 111.7 1521.1 111.8 1511.9 112.0 1529.3 112.1 1526.9 112.2 1523.9 112.3 1521.0 112.5 1536.1 112.6 1512.9 112.7 1510.9 112.8 1505.4 113.0 1537.3 113.1 1522.1 113.2 1508.9 113.3 1515.0 113.5 1550.5 113.6 1529.6 113.7 1537.9 113.8 1534.4 114.0 1526.9 114.1 1515.5 114.2 1518.7 114.3 1519.2 114.5 1497.5 114.6 1555.8 114.7 1548.3 114.8 1533.4 115.0 1525.5 115.1 1514.5 115.2 1541.1 115.3 1527.9 115.5 1536.4 115.6 1507.7 115.7 1530.9 115.8 1558.7 116.0 1531.1 116.1 1542.2 116.2 1532.7 116.3 1547.1 116.5 1549.3 116.6 1534.8 116.7 1523.0 116.8 1533.1 117.0 1531.7 117.1 1522.3 117.2 1535.6 117.3 1537.9 117.5 1520.6 117.6 1527.9 117.7 1556.2 117.8 1549.6 118.0 1536.7 118.1 1555.7 118.2 1533.0 118.3 1509.4 118.5 1509.9 118.6 1510.4 118.7 1531.3 118.8 1543.8 119.0 1511.9 119.1 1541.3 119.2 1521.9 119.3 1534.2 119.5 1538.8 119.6 1539.4 119.7 1535.4 119.8 1536.0 120.0 1523.0 120.1 1534.4 120.2 1543.5 120.3 1544.7 120.5 1552.6 120.6 1549.6 120.7 1543.6 120.8 1551.4 121.0 1539.0 121.1 1521.5 121.2 1513.9 121.3 1540.2 121.5 1539.5 121.6 1541.9 121.7 1530.9 121.8 1535.2 122.0 1550.6 122.1 1538.8 122.2 1522.5 122.3 1525.7 122.5 1543.4 122.6 1523.4 122.7 1512.9 122.8 1512.8 123.0 1513.1 123.1 1534.8 123.2 1532.3 123.3 1523.9 123.5 1517.2 123.6 1526.7 123.7 1528.0 123.8 1524.5 124.0 1526.6 124.1 1522.3 124.2 1545.6 124.3 1512.2 124.5 1528.2 124.6 1520.8 124.7 1536.3 124.8 1530.4 125.0 1535.5 125.1 1538.4 125.2 1536.0 125.3 1543.9 125.5 1520.8 125.6 1541.1 125.7 1533.0 125.8 1538.1 126.0 1552.3 126.1 1550.8 126.2 1556.5 126.3 1514.8 126.5 1520.4 126.6 1544.0 126.7 1524.5 126.8 1531.9 127.0 1556.3 127.1 1551.5 127.2 1528.5 127.3 1541.4 127.5 1546.7 127.6 1540.8 127.7 1537.7 127.8 1540.4 128.0 1520.0 128.1 1537.2 128.2 1526.5 128.3 1542.5 128.4 1545.8 128.6 1528.5 128.7 1544.4 128.8 1543.7 128.9 1537.9 129.1 1546.3 129.2 1534.0 129.3 1531.4 129.4 1535.1 129.6 1533.7 129.7 1548.3 129.8 1509.0 129.9 1523.2 130.1 1508.0 130.2 1519.4 130.3 1531.4 130.4 1530.1 130.6 1541.4 130.7 1535.0 130.8 1505.0 130.9 1507.0 131.1 1541.8 131.2 1548.2 131.3 1531.1 131.4 1507.1 131.6 1547.0 131.7 1502.9 131.8 1522.6 131.9 1521.7 132.1 1524.5 132.2 1507.8 132.3 1513.1 132.4 1531.1 132.6 1515.8 132.7 1501.8 132.8 1515.0 132.9 1518.7 133.1 1516.8 133.2 1508.5 133.3 1522.6 133.4 1517.4 133.6 1503.6 133.7 1517.6 133.8 1517.3 133.9 1519.3 134.1 1497.1 134.2 1503.9 134.3 1520.3 134.4 1529.4 134.6 1524.0 134.7 1520.6 134.8 1527.0 134.9 1531.5 135.1 1542.0 135.2 1528.2 135.3 1512.2 135.4 1522.3 135.6 1493.7 135.7 1513.1 135.8 1510.6 135.9 1515.5 136.1 1523.2 136.2 1519.0 136.3 1498.4 136.4 1508.5 136.6 1504.7 136.7 1514.1 136.8 1521.0 136.9 1504.8 137.1 1524.3 137.2 1536.2 137.3 1518.2 137.4 1528.3 137.6 1501.7 137.7 1509.3 137.8 1530.9 137.9 1500.2 138.1 1510.9 138.2 1508.5 138.3 1534.8 138.4 1540.4 138.6 1519.4 138.7 1525.2 138.8 1501.3 138.9 1529.9 139.1 1531.5 139.2 1544.5 139.3 1503.9 139.4 1527.1 139.6 1524.1 139.7 1505.9 139.8 1514.7 139.9 1526.4 140.1 1539.9 140.2 1535.7 140.3 1526.7 140.4 1537.0 140.6 1532.9 140.7 1526.0 140.8 1520.8 140.9 1534.1 141.1 1537.3 141.2 1558.2 141.3 1535.9 141.4 1555.3 141.6 1544.1 141.7 1551.2 141.8 1527.5 141.9 1522.6 142.1 1527.9 142.2 1543.2 142.3 1537.1 142.4 1542.5 142.6 1537.9 142.7 1545.4 142.8 1536.1 142.9 1524.8 143.1 1535.2 143.2 1531.5 143.3 1551.5 143.4 1530.7 143.6 1529.5 143.7 1523.5 143.8 1540.9 143.9 1540.4 144.1 1536.9 144.2 1510.6 144.3 1501.2 144.4 1522.7 144.6 1532.8 144.7 1544.7 144.8 1502.1 144.9 1515.3 145.1 1496.5 145.2 1502.3 145.3 1513.3 145.4 1531.6 145.6 1514.0 145.7 1507.2 145.8 1511.9 145.9 1535.1 146.1 1545.2 146.2 1505.9 146.3 1513.6 146.4 1513.3 146.6 1534.6 146.7 1529.4 146.8 1542.8 146.9 1513.0 147.1 1520.4 147.2 1516.3 147.3 1507.9 147.4 1518.1 147.6 1508.1 147.7 1546.2 147.8 1533.4 147.9 1514.4 148.1 1515.7 148.2 1542.8 148.3 1523.5 148.4 1532.9 148.6 1533.7 148.7 1539.6 148.8 1536.0 148.9 1526.6 149.1 1521.1 149.2 1508.4 149.3 1523.7 149.4 1528.8 149.6 1525.2 149.7 1526.9 149.8 1517.4 149.9 1547.5 150.1 1528.8 150.2 1519.7 150.3 1521.6 150.4 1525.7 150.6 1534.6 150.7 1509.8 150.8 1528.1 150.9 1521.6 151.1 1524.0 151.2 1535.5 151.3 1535.1 151.4 1521.1 151.6 1523.5 151.7 1542.4 151.8 1541.0 151.9 1535.8 152.1 1526.3 152.2 1533.2 152.3 1528.9 152.4 1518.6 152.6 1511.9 152.7 1525.0 152.8 1525.9 152.9 1533.9 153.1 1518.7 153.2 1533.8 153.3 1519.2 153.4 1531.9 153.6 1527.2 153.7 1514.9 153.8 1508.4 153.9 1515.0 154.1 1514.6 154.2 1526.2 154.3 1512.0 154.4 1500.5 154.6 1511.8 154.7 1533.1 154.8 1532.8 154.9 1509.2 155.1 1506.9 155.2 1511.9 155.3 1501.2 155.4 1502.7 155.6 1501.6 155.7 1491.7 155.8 1493.5 155.9 1494.4 156.1 1501.9 156.2 1485.8 156.3 1496.7 156.4 1485.0 156.6 1483.6 156.7 1478.4 156.8 1516.8 156.9 1515.8 157.1 1513.0 157.2 1504.5 157.3 1488.5 157.4 1488.2 157.6 1490.1 157.7 1491.6 157.8 1493.0 157.9 1504.9 158.1 1455.8 158.2 1465.4 158.3 1485.3 158.4 1474.0 158.6 1473.5 158.7 1495.8 158.8 1482.6 158.9 1502.9 159.1 1482.5 159.2 1483.1 159.3 1466.7 159.4 1456.3 159.6 1471.1 159.7 1481.8 159.8 1479.7 159.9 1467.7 160.1 1491.0 160.2 1489.2 160.3 1489.0 160.4 1480.6 160.6 1507.9 160.7 1511.9 160.8 1500.2 160.9 1494.0 161.1 1497.7 161.2 1514.5 161.3 1517.1 161.4 1504.7 161.6 1496.2 161.7 1481.8 161.8 1520.7 161.9 1497.0 162.1 1511.5 162.2 1511.8 162.3 1520.7 162.4 1503.0 162.6 1493.7 162.7 1509.1 162.8 1515.5 162.9 1524.3 163.1 1502.2 163.2 1509.7 163.3 1513.9 163.4 1506.7 163.6 1516.3 163.7 1527.2 163.8 1523.6 163.9 1512.7 164.1 1525.8 164.2 1533.4 164.3 1533.4 164.4 1536.3 164.6 1519.7 164.7 1533.7 164.8 1539.0 164.9 1533.9 165.1 1536.7 165.2 1533.1 165.3 1549.2 165.4 1541.9 165.6 1536.8 165.7 1545.9 165.8 1548.5 165.9 1554.8 166.1 1545.5 166.2 1546.2 166.3 1556.2 166.4 1572.0 166.6 1565.3 166.7 1549.9 166.8 1560.6 166.9 1556.3 167.1 1548.2 167.2 1557.2 167.3 1561.3 167.4 1571.1 167.6 1580.1 167.7 1580.2 167.8 1577.2 167.9 1566.1 168.1 1568.6 168.2 1567.2 168.3 1578.9 168.4 1563.8 168.6 1561.4 168.7 1577.8 168.8 1573.2 168.9 1563.6 169.1 1566.6 169.2 1566.8 169.3 1567.0 169.4 1571.9 169.6 1569.1 169.7 1563.8 169.8 1559.8 169.9 1548.6 170.1 1556.9 170.2 1571.6 170.3 1566.7 170.4 1558.2 170.6 1559.7 170.7 1554.7 170.8 1563.0 170.9 1578.3 171.1 1578.1 171.2 1575.1 171.3 1570.4 171.4 1560.9 171.6 1550.3 171.7 1558.5 171.8 1555.7 171.9 1565.3 172.1 1561.0 172.2 1553.2 172.3 1559.9 172.4 1573.0 172.6 1552.7 172.7 1564.0 172.8 1561.0 172.9 1553.7 173.1 1545.8 173.2 1550.5 173.3 1552.7 173.4 1557.5 173.6 1557.3 173.7 1553.2 173.8 1542.6 173.9 1548.9 174.1 1542.5 174.2 1535.2 174.3 1551.2 174.4 1539.2 174.6 1531.2 174.7 1541.0 174.8 1523.3 174.9 1536.8 175.1 1543.8 175.2 1536.3 175.3 1540.5 175.4 1557.0 175.6 1555.7 175.7 1549.5 175.8 1544.4 175.9 1531.7 176.1 1532.3 176.2 1530.3 176.3 1532.5 176.4 1533.2 176.6 1523.0 176.7 1546.2 176.8 1521.7 176.9 1531.4 177.1 1540.3 177.2 1529.7 177.3 1519.6 177.4 1524.9 177.6 1547.6 177.7 1536.5 177.8 1522.7 177.9 1529.9 178.1 1521.3 178.2 1498.0 178.3 1519.1 178.4 1533.0 178.6 1536.8 178.7 1521.2 178.8 1499.7 178.9 1529.3 179.1 1517.8 179.2 1527.8 179.3 1535.3 179.4 1526.9 179.6 1520.6 179.7 1512.7 179.8 1514.2 179.9 1520.7 180.1 1516.5 180.2 1526.2 180.3 1500.8 180.4 1507.6 180.6 1521.1 180.7 1516.6 180.8 1518.1 180.9 1512.0 181.1 1532.0 181.2 1547.1 181.3 1521.1 181.4 1540.2 181.6 1516.1 181.7 1529.1 181.8 1510.8 181.9 1532.4 182.1 1532.6 182.2 1534.3 182.3 1546.0 182.4 1542.5 182.6 1536.0 182.7 1527.5 182.8 1534.8 182.9 1529.7 183.1 1531.8 183.2 1550.4 183.3 1548.8 183.4 1542.5 183.6 1544.0 183.7 1524.6 183.8 1534.7 183.9 1519.4 184.1 1525.6 184.2 1536.2 184.3 1538.0 184.4 1541.1 184.6 1536.1 184.7 1533.6 184.8 1532.2 184.9 1545.3 185.1 1546.5 185.2 1519.1 185.3 1528.9 185.4 1542.1 185.6 1528.8 185.7 1530.5 185.8 1522.1 185.9 1513.9 186.1 1525.3 186.2 1521.6 186.3 1523.0 186.4 1509.4 186.6 1509.2 186.7 1519.4 186.8 1517.7 186.9 1527.3 187.1 1511.8 187.2 1527.0 187.3 1528.1 187.4 1522.8 187.6 1527.2 187.7 1519.9 187.8 1516.9 187.9 1517.9 188.1 1504.1 188.2 1514.6 188.3 1525.8 188.4 1500.7 188.6 1521.3 188.7 1510.1 188.8 1510.8 188.9 1515.8 189.1 1518.4 189.2 1531.8 189.3 1516.5 189.4 1535.2 189.6 1518.9 189.7 1520.8 189.8 1523.2 189.9 1507.3 190.1 1498.3 190.2 1511.3 190.3 1521.0 190.4 1524.8 190.6 1510.2 190.7 1533.7 190.8 1514.6 190.9 1503.6 191.1 1524.7 191.2 1529.8 191.3 1502.7 191.4 1520.2 191.6 1496.3 191.7 1508.4 191.8 1536.5 191.9 1533.7 192.1 1525.5 192.2 1524.2 192.3 1505.1 192.4 1517.8 192.6 1522.9 192.7 1504.7 192.8 1518.8 192.9 1527.3 193.1 1525.4 193.2 1528.9 193.3 1521.4 193.4 1508.4 193.6 1522.7 193.7 1499.7 193.8 1512.2 193.9 1541.0 194.1 1555.7 194.2 1542.3 194.3 1504.7 194.4 1545.9 194.6 1544.7 194.7 1534.8 194.8 1547.2 194.9 1547.7 195.1 1523.5 195.2 1518.0 195.3 1551.8 195.4 1513.7 195.6 1545.7 195.7 1549.5 195.8 1561.0 195.9 1573.2 196.1 1573.4 196.2 1575.6 196.3 1567.9 196.4 1561.4 196.6 1568.7 196.7 1554.5 196.8 1539.0 196.9 1548.3 197.1 1528.8 197.2 1540.2 197.3 1578.1 197.4 1565.8 197.6 1553.7 197.7 1545.9 197.8 1528.8 197.9 1542.4 198.1 1542.3 198.2 1552.9 198.3 1556.3 198.4 1555.3 198.6 1531.8 198.7 1570.3 198.8 1565.3 198.9 1559.1 199.1 1554.1 199.2 1562.8 199.3 1574.4 199.4 1569.2 199.6 1547.4 199.7 1542.4 199.8 1537.0 199.9 1555.4 200.1 1567.6 200.2 1575.9 200.3 1565.5 200.4 1571.2 200.6 1553.6 200.7 1565.4 200.8 1559.1 200.9 1550.5 201.1 1536.0 201.2 1563.5 201.3 1531.2 201.4 1553.6 201.6 1540.7 201.7 1553.1 201.8 1540.7 201.9 1552.3 202.1 1541.8 202.2 1528.4 202.3 1530.6 202.4 1516.3 202.6 1535.2 202.7 1547.2 202.8 1540.6 202.9 1534.0 203.1 1546.4 203.2 1516.3 203.3 1531.0 203.4 1525.5 203.6 1516.9 203.7 1527.2 203.8 1505.5 203.9 1513.2 204.1 1519.7 204.2 1499.4 204.3 1506.6 204.4 1517.1 204.6 1523.8 204.7 1497.6 204.8 1516.7 204.9 1502.4 205.1 1504.8 205.2 1496.5 205.3 1513.6 205.4 1496.3 205.6 1506.7 205.7 1510.2 205.8 1516.1 205.9 1492.9 206.1 1513.0 206.2 1507.1 206.3 1525.0 206.4 1504.6 206.6 1497.7 206.7 1503.2 206.8 1501.1 206.9 1502.6 207.1 1488.8 207.2 1481.7 207.3 1481.9 207.4 1493.7 207.6 1509.3 207.7 1503.1 207.8 1493.9 207.9 1502.2 208.1 1506.7 208.2 1530.5 208.3 1529.5 208.4 1513.9 208.6 1491.1 208.7 1502.1 208.8 1502.9 208.9 1513.4 209.1 1530.5 209.2 1512.4 209.3 1486.0 209.4 1502.2 209.6 1487.2 209.7 1513.3 209.8 1521.5 209.9 1514.2 210.1 1491.6 210.2 1502.1 210.3 1520.0 210.4 1498.1 210.6 1498.4 210.7 1508.0 210.8 1512.6 210.9 1508.6 211.1 1510.7 211.2 1509.5 211.3 1500.3 211.4 1504.0 211.6 1508.7 211.7 1494.2 211.8 1505.6 211.9 1506.7 212.1 1510.8 212.2 1510.3 212.3 1494.6 212.4 1489.0 212.6 1504.5 212.7 1503.1 212.8 1505.5 212.9 1498.6 213.1 1489.3 213.2 1504.2 213.3 1502.8 213.4 1510.5 213.6 1517.1 213.7 1518.4 213.8 1517.8 213.9 1497.0 214.1 1484.4 214.2 1493.9 214.3 1490.5 214.4 1489.0 214.6 1509.7 214.7 1490.4 214.8 1513.1 214.9 1519.8 215.1 1527.5 215.2 1524.4 215.3 1528.0 215.4 1506.9 215.6 1501.6 215.7 1517.6 215.8 1498.0 215.9 1518.9 216.1 1509.3 216.2 1491.5 216.3 1525.1 216.4 1503.1 216.6 1530.5 216.7 1502.1 216.8 1502.1 216.9 1512.6 217.1 1513.0 217.2 1498.3 217.3 1511.6 217.4 1515.2 217.6 1518.7 217.7 1500.5 217.8 1506.5 217.9 1512.6 218.1 1522.6 218.2 1519.3 218.3 1514.5 218.4 1513.4 218.6 1531.2 218.7 1514.2 218.8 1521.7 218.9 1502.5 219.1 1533.3 219.2 1528.8 219.3 1507.6 219.4 1526.2 219.6 1537.9 219.7 1535.4 219.8 1528.5 219.9 1535.0 220.1 1521.7 220.2 1524.3 220.3 1524.4 220.4 1529.1 220.6 1519.8 220.7 1541.9 220.8 1532.4 220.9 1521.8 221.1 1528.6 221.2 1536.2 221.3 1535.2 221.4 1545.9 221.6 1534.3 221.7 1528.4 221.8 1540.4 221.9 1551.1 222.1 1531.5 222.2 1521.9 222.3 1529.9 222.4 1538.4 222.6 1531.2 222.7 1543.6 222.8 1535.9 222.9 1555.3 223.1 1536.4 223.2 1536.7 223.3 1549.7 223.4 1561.1 223.6 1568.0 223.7 1549.8 223.8 1556.5 223.9 1566.2 224.1 1581.9 224.2 1553.6 224.3 1543.6 224.4 1568.1 224.6 1563.3 224.7 1588.1 224.8 1573.9 224.9 1577.0 225.1 1560.9 225.2 1576.2 225.3 1594.5 225.4 1573.0 225.6 1552.6 225.7 1581.6 225.8 1567.4 225.9 1569.7 226.1 1557.3 226.2 1580.2 226.3 1557.6 226.4 1556.6 226.6 1563.3 226.7 1560.7 226.8 1535.4 226.9 1562.6 227.1 1544.2 227.2 1561.0 227.3 1554.1 227.4 1556.0 227.6 1546.8 227.7 1539.7 227.8 1554.8 227.9 1558.1 228.1 1569.1 228.2 1564.0 228.3 1545.2 228.4 1566.2 228.6 1576.8 228.7 1566.1 228.8 1549.9 228.9 1535.8 229.1 1546.2 229.2 1527.9 229.3 1552.1 229.4 1541.3 229.6 1536.1 229.7 1545.1 229.8 1527.8 229.9 1519.2 230.1 1531.4 230.2 1554.2 230.3 1532.8 230.4 1549.3 230.6 1518.8 230.7 1534.1 230.8 1543.8 230.9 1560.9 231.1 1520.5 231.2 1532.7 231.3 1524.5 231.4 1537.1 231.6 1528.8 231.7 1534.6 231.8 1525.0 231.9 1525.1 232.1 1536.2 232.2 1551.0 232.3 1538.2 232.4 1534.1 232.6 1525.9 232.7 1548.1 232.8 1510.3 232.9 1507.2 233.1 1514.0 233.2 1530.4 233.3 1539.2 233.4 1536.1 233.6 1537.2 233.7 1530.1 233.8 1520.8 233.9 1511.6 234.1 1526.8 234.2 1513.1 234.3 1525.7 234.4 1531.4 234.6 1516.2 234.7 1514.6 234.8 1512.6 234.9 1526.0 235.1 1522.0 235.2 1511.1 235.3 1519.2 235.4 1534.8 235.6 1523.1 235.7 1518.4 235.8 1510.8 235.9 1502.6 236.1 1511.3 236.2 1513.2 236.3 1508.7 236.4 1524.6 236.6 1510.8 236.7 1508.4 236.8 1511.5 236.9 1515.5 237.1 1488.8 237.2 1506.8 237.3 1521.3 237.4 1496.2 237.6 1508.1 237.7 1499.6 237.8 1491.7 237.9 1504.2 238.1 1501.9 238.2 1480.5 238.3 1490.7 238.4 1510.0 238.6 1498.2 238.7 1494.6 238.8 1498.6 238.9 1499.0 239.1 1513.0 239.2 1498.4 239.3 1492.4 239.4 1509.5 239.6 1519.6 239.7 1518.8 239.8 1520.6 239.9 1505.1 240.1 1493.6 240.2 1500.2 240.3 1509.4 240.4 1493.7 240.6 1506.0 240.7 1518.4 240.8 1507.8 240.9 1534.4 241.1 1527.1 241.2 1505.6 241.3 1502.7 241.4 1507.0 241.6 1523.0 241.7 1524.1 241.8 1514.3 241.9 1520.3 242.1 1528.3 242.2 1527.5 242.3 1506.5 242.4 1508.0 242.6 1510.6 242.7 1503.8 242.8 1528.1 242.9 1518.5 243.1 1516.9 243.2 1515.2 243.3 1526.7 243.4 1532.1 243.6 1534.7 243.7 1541.4 243.8 1521.2 243.9 1543.5 244.1 1548.9 244.2 1529.7 244.3 1526.3 244.4 1536.0 244.6 1544.9 244.7 1531.6 244.8 1523.8 244.9 1552.6 245.1 1532.0 245.2 1513.8 245.3 1534.2 245.4 1545.3 245.6 1555.5 245.7 1556.5 245.8 1557.1 245.9 1538.7 246.1 1527.5 246.2 1520.7 246.3 1553.5 246.4 1537.6 246.6 1521.5 246.7 1519.8 246.8 1537.1 246.9 1536.0 247.1 1544.1 247.2 1533.5 247.3 1533.0 247.4 1546.0 247.6 1541.8 247.7 1549.4 247.8 1543.9 247.9 1541.5 248.1 1547.9 248.2 1542.5 248.3 1546.8 248.4 1550.6 248.6 1542.2 248.7 1544.7 248.8 1547.7 248.9 1554.0 249.1 1551.4 249.2 1551.2 249.3 1553.5 249.4 1547.0 249.6 1552.2 249.7 1543.5 249.8 1532.3 249.9 1550.6 250.1 1533.3 250.2 1546.3 250.3 1564.1 250.4 1560.7 250.6 1545.2 250.7 1557.6 250.8 1556.0 250.9 1546.9 251.1 1551.7 251.2 1549.3 251.3 1551.0 251.4 1556.9 251.6 1542.7 251.7 1560.0 251.8 1572.4 251.9 1558.4 252.1 1548.9 252.2 1552.0 252.3 1566.4 252.4 1555.2 252.6 1561.4 252.7 1574.8 252.8 1556.5 252.9 1559.4 253.1 1554.6 253.2 1555.6 253.3 1560.1 253.4 1554.2 253.6 1563.2 253.7 1562.9 253.8 1571.4 253.9 1569.4 254.1 1566.7 254.2 1575.7 254.3 1563.7 254.4 1568.5 254.6 1559.1 254.7 1574.8 254.8 1560.3 254.9 1571.8 255.1 1560.4 255.2 1566.1 255.3 1557.0 255.4 1557.9 255.6 1556.9 255.7 1568.1 255.8 1571.0 255.9 1573.4 256.1 1570.9 256.2 1565.5 256.3 1571.4 256.4 1579.5 256.6 1565.8 256.7 1560.1 256.8 1569.2 256.9 1580.7 257.1 1568.5 257.2 1563.8 257.3 1557.7 257.4 1558.6 257.6 1557.1 257.7 1556.6 257.8 1571.5 257.9 1576.0 258.1 1568.2 258.2 1566.6 258.3 1571.4 258.4 1566.5 258.6 1566.1 258.7 1569.5 258.8 1565.6 258.9 1574.0 259.1 1577.9 259.2 1569.6 259.3 1567.5 259.4 1559.5 259.6 1560.5 259.7 1564.2 259.8 1567.1 259.9 1563.5 260.1 1556.0 260.2 1564.9 260.3 1560.4 260.4 1565.6 260.6 1562.4 260.7 1562.2 260.8 1562.4 260.9 1548.7 261.1 1568.1 261.2 1557.6 261.3 1563.8 261.4 1566.2 261.6 1559.1 261.7 1552.3 261.8 1563.7 261.9 1555.6 262.1 1559.7 262.2 1563.9 262.3 1558.4 262.4 1549.0 262.6 1553.8 262.7 1562.4 262.8 1555.3 262.9 1564.9 263.1 1550.7 263.2 1551.5 263.3 1546.3 263.4 1550.4 263.6 1567.4 263.7 1564.3 263.8 1558.0 263.9 1554.2 264.1 1565.0 264.2 1558.6 264.3 1551.2 264.4 1566.0 264.6 1548.8 264.7 1555.0 264.8 1558.8 264.9 1561.2 265.1 1566.7 265.2 1561.1 265.3 1547.6 265.4 1558.1 265.6 1553.2 265.7 1539.7 265.8 1537.4 265.9 1538.2 266.1 1529.5 266.2 1544.6 266.3 1548.7 266.4 1548.2 266.6 1536.5 266.7 1539.9 266.8 1550.6 266.9 1545.2 267.1 1538.8 267.2 1531.6 267.3 1535.6 267.4 1547.7 267.6 1538.2 267.7 1552.7 267.8 1552.0 267.9 1545.4 268.1 1519.3 268.2 1526.4 268.3 1542.1 268.4 1526.6 268.6 1521.5 268.7 1527.0 268.8 1547.0 268.9 1527.6 269.1 1506.6 269.2 1524.7 269.3 1529.1 269.4 1533.1 269.6 1526.4 269.7 1527.4 269.8 1518.5 269.9 1531.5 270.1 1523.0 270.2 1526.7 270.3 1513.2 270.4 1533.4 270.6 1524.4 270.7 1514.5 270.8 1517.3 270.9 1504.4 271.1 1506.9 271.2 1523.3 271.3 1523.6 271.4 1525.9 271.6 1524.4 271.7 1512.0 271.8 1513.5 271.9 1534.5 272.1 1514.6 272.2 1492.8 272.3 1506.2 272.4 1503.5 272.6 1506.2 272.7 1507.7 272.8 1494.4 272.9 1509.3 273.1 1505.5 273.2 1514.7 273.3 1500.8 273.4 1494.9 273.6 1501.1 273.7 1528.8 273.8 1491.5 273.9 1520.7 274.1 1512.7 274.2 1526.6 274.3 1510.5 274.4 1517.5 274.6 1519.0 274.7 1538.6 274.8 1518.7 274.9 1519.0 275.1 1507.0 275.2 1518.4 275.3 1508.1 275.4 1514.3 275.6 1522.2 275.7 1526.5 275.8 1509.5 275.9 1506.8 276.1 1532.4 276.2 1516.9 276.3 1523.0 276.4 1518.9 276.6 1502.5 276.7 1518.0 276.8 1521.4 276.9 1546.1 277.1 1505.7 277.2 1515.2 277.3 1531.6 277.4 1519.8 277.6 1502.0 277.7 1526.1 277.8 1525.8 277.9 1512.8 278.1 1507.9 278.2 1510.2 278.3 1520.7 278.4 1517.8 278.6 1511.0 278.7 1521.0 278.8 1530.8 278.9 1512.7 279.1 1534.0 279.2 1519.7 279.3 1522.9 279.4 1520.9 279.6 1520.9 279.7 1517.2 279.8 1491.5 279.9 1495.9 280.1 1517.9 280.2 1499.9 280.3 1508.8 280.4 1491.3 280.6 1497.9 280.7 1522.6 280.8 1512.6 280.9 1497.8 281.1 1496.9 281.2 1485.1 281.3 1505.1 281.4 1501.0 281.6 1510.1 281.7 1512.1 281.8 1500.3 281.9 1490.2 282.1 1484.8 282.2 1492.2 282.3 1497.9 282.4 1514.1 282.6 1490.4 282.7 1501.3 282.8 1485.6 282.9 1487.4 283.1 1503.4 283.2 1503.1 283.3 1490.1 283.4 1485.6 283.6 1505.6 283.7 1493.5 283.8 1489.1 283.9 1478.3 284.1 1518.2 284.2 1517.8 284.3 1503.5 284.4 1517.2 284.6 1502.8 284.7 1487.8 284.8 1496.1 284.9 1509.1 285.1 1477.6 285.2 1502.6 285.3 1506.7 285.4 1511.7 285.6 1498.5 285.7 1504.3 285.8 1465.5 285.9 1480.6 286.1 1500.2 286.2 1498.6 286.3 1495.7 286.4 1476.2 286.6 1487.9 286.7 1471.4 286.8 1488.6 286.9 1500.4 287.1 1493.5 287.2 1505.4 287.3 1503.3 287.4 1514.3 287.6 1503.4 287.7 1488.7 287.8 1491.1 287.9 1498.4 288.1 1509.2 288.2 1513.5 288.3 1507.2 288.4 1515.7 288.6 1511.2 288.7 1523.9 288.8 1509.3 288.9 1529.7 289.1 1525.9 289.2 1519.2 289.3 1512.0 289.4 1525.6 289.6 1518.2 289.7 1528.3 289.8 1541.1 289.9 1529.1 290.1 1527.6 290.2 1530.3 290.3 1521.6 290.4 1542.0 290.6 1527.3 290.7 1532.7 290.8 1531.0 290.9 1522.9 291.1 1538.5 291.2 1533.3 291.3 1523.7 291.4 1522.1 291.6 1511.2 291.7 1516.6 291.8 1534.3 291.9 1538.2 292.1 1524.1 292.2 1534.8 292.3 1540.1 292.4 1539.7 292.6 1543.9 292.7 1518.5 292.8 1531.3 292.9 1524.4 293.1 1536.9 293.2 1527.8 293.3 1532.6 293.4 1539.9 293.6 1520.2 293.7 1523.8 293.8 1523.7 293.9 1529.3 294.1 1516.2 294.2 1534.7 294.3 1546.7 294.4 1530.9 294.6 1534.5 294.7 1508.9 294.8 1512.0 294.9 1531.3 295.1 1531.3 295.2 1534.8 295.3 1542.1 295.4 1530.7 295.6 1524.7 295.7 1520.8 295.8 1525.7 295.9 1503.9 296.1 1536.3 296.2 1504.8 296.3 1505.9 296.4 1524.9 296.6 1539.2 296.7 1538.8 296.8 1550.0 296.9 1532.4 297.1 1527.7 297.2 1540.7 297.3 1526.3 297.4 1538.8 297.6 1545.6 297.7 1545.7 297.8 1521.8 297.9 1537.3 298.1 1524.5 298.2 1551.2 298.3 1544.1 298.4 1559.2 298.6 1566.8 298.7 1540.6 298.8 1560.8 298.9 1560.4 299.1 1573.2 299.2 1547.1 299.3 1542.8 299.4 1548.2 299.6 1540.5 299.7 1559.5 299.8 1555.5 299.9 1565.6 300.1 1570.3 300.2 1577.7 300.3 1556.8 300.4 1575.8 300.6 1579.8 300.7 1562.6 300.8 1563.7 300.9 1555.5 301.1 1582.7 301.2 1589.7 301.3 1568.6 301.4 1572.6 301.6 1579.1 301.7 1583.9 301.8 1577.4 301.9 1594.2 302.1 1571.6 302.2 1585.8 302.3 1581.3 302.4 1582.9 302.6 1573.4 302.7 1562.1 302.8 1572.4 302.9 1584.7 303.1 1574.8 303.2 1565.0 303.3 1578.3 303.4 1582.9 303.6 1574.8 303.7 1582.2 303.8 1589.2 303.9 1589.1 304.1 1596.2 304.2 1600.5 304.3 1590.5 304.4 1581.8 304.6 1571.9 304.7 1595.7 304.8 1594.5 304.9 1600.1 305.1 1584.7 305.2 1590.0 305.3 1582.7 305.4 1580.4 305.6 1575.0 305.7 1584.7 305.8 1592.7 305.9 1596.8 306.1 1592.9 306.2 1587.6 306.3 1606.0 306.4 1605.6 306.6 1600.9 306.7 1592.6 306.8 1600.2 306.9 1584.8 307.1 1577.4 307.2 1591.5 307.3 1590.5 307.4 1597.4 307.6 1583.9 307.7 1589.8 307.8 1580.3 307.9 1583.9 308.1 1590.9 308.2 1588.0 308.3 1580.6 308.4 1575.2 308.6 1582.3 308.7 1579.6 308.8 1575.1 308.9 1585.7 309.1 1580.3 309.2 1595.4 309.3 1602.5 309.4 1598.8 309.6 1602.1 309.7 1582.5 309.8 1573.3 309.9 1582.9 310.1 1572.9 310.2 1584.7 310.3 1592.3 310.4 1593.0 310.6 1594.4 310.7 1586.1 310.8 1585.3 310.9 1587.3 311.1 1585.4 311.2 1592.0 311.3 1583.7 311.4 1584.5 311.6 1580.0 311.7 1590.6 311.8 1586.8 311.9 1586.0 312.1 1581.4 312.2 1571.6 312.3 1578.6 312.4 1570.5 312.6 1580.4 312.7 1574.8 312.8 1590.5 312.9 1580.7 313.1 1582.4 313.2 1579.8 313.3 1574.9 313.4 1571.2 313.6 1569.8 313.7 1574.9 313.8 1569.8 313.9 1587.3 314.1 1575.3 314.2 1577.4 314.3 1581.5 314.4 1581.5 314.6 1589.9 314.7 1583.6 314.8 1579.7 314.9 1581.2 315.1 1592.0 315.2 1589.3 315.3 1571.5 315.4 1579.0 315.6 1576.0 315.7 1581.2 315.8 1586.0 315.9 1583.1 316.1 1586.1 316.2 1593.2 316.3 1573.8 316.4 1580.2 316.6 1582.0 316.7 1584.8 316.8 1583.1 316.9 1587.7 317.1 1583.0 317.2 1584.7 317.3 1573.3 317.4 1581.3 317.6 1574.6 317.7 1583.7 317.8 1592.4 317.9 1583.4 318.1 1584.4 318.2 1586.4 318.3 1590.4 318.4 1587.7 318.6 1589.7 318.7 1579.6 318.8 1580.2 318.9 1571.8 319.1 1592.2 319.2 1575.7 319.3 1585.1 319.4 1582.2 319.6 1581.3 319.7 1573.1 319.8 1578.3 319.9 1580.1 320.1 1582.3 320.2 1578.0 320.3 1580.7 320.4 1573.6 320.6 1585.7 320.7 1576.3 320.8 1592.0 320.9 1581.4 321.1 1575.1 321.2 1579.2 321.3 1577.8 321.4 1585.4 321.6 1587.8 321.7 1576.1 321.8 1573.4 321.9 1572.2 322.1 1580.0 322.2 1584.6 322.3 1583.0 322.4 1576.6 322.6 1576.1 322.7 1580.0 322.8 1584.7 322.9 1575.8 323.1 1582.6 323.2 1572.1 323.3 1573.6 323.4 1580.8 323.6 1565.9 323.7 1555.3 323.8 1557.5 323.9 1565.4 324.1 1558.9 324.2 1564.8 324.3 1578.5 324.4 1565.7 324.6 1577.7 324.7 1575.6 324.8 1557.0 324.9 1571.5 325.1 1573.1 325.2 1574.2 325.3 1566.5 325.4 1565.2 325.6 1556.2 325.7 1550.6 325.8 1557.3 325.9 1566.0 326.1 1553.8 326.2 1574.2 326.3 1556.0 326.4 1560.1 326.6 1542.5 326.7 1569.5 326.8 1565.5 326.9 1570.2 327.1 1544.0 327.2 1566.4 327.3 1560.0 327.4 1546.7 327.6 1545.8 327.7 1533.5 327.8 1544.4 327.9 1557.3 328.1 1541.0 328.2 1550.1 328.3 1534.8 328.4 1524.5 328.6 1537.5 328.7 1558.4 328.8 1559.0 328.9 1539.2 329.1 1554.6 329.2 1554.8 329.3 1547.3 329.4 1537.8 329.6 1548.9 329.7 1539.6 329.8 1534.0 329.9 1547.0 330.1 1531.3 330.2 1541.4 330.3 1550.9 330.4 1530.4 330.6 1534.4 330.7 1538.1 330.8 1515.6 330.9 1524.1 331.1 1525.3 331.2 1525.9 331.3 1522.8 331.4 1543.9 331.6 1526.4 331.7 1531.1 331.8 1539.2 331.9 1550.6 332.1 1521.5 332.2 1518.8 332.3 1521.0 332.4 1529.1 332.6 1543.2 332.7 1535.6 332.8 1537.1 332.9 1551.4 333.1 1536.0 333.2 1538.0 333.3 1555.8 333.4 1548.7 333.6 1533.5 333.7 1530.2 333.8 1547.4 333.9 1528.5 334.1 1527.5 334.2 1544.4 334.3 1553.3 334.4 1558.0 334.6 1533.4 334.7 1543.6 334.8 1520.1 334.9 1525.2 335.1 1559.3 335.2 1559.7 335.3 1552.8 335.4 1535.0 335.6 1528.6 335.7 1551.6 335.8 1543.8 335.9 1536.1 336.1 1550.7 336.2 1553.6 336.3 1540.5 336.4 1541.0 336.6 1566.1 336.7 1541.9 336.8 1557.6 336.9 1543.4 337.1 1539.4 337.2 1537.0 337.3 1546.6 337.4 1550.0 337.6 1559.1 337.7 1545.8 337.8 1555.7 337.9 1547.8 338.1 1544.9 338.2 1559.2 338.3 1560.5 338.4 1540.3 338.6 1554.4 338.7 1536.5 338.8 1541.4 338.9 1571.6 339.1 1574.8 339.2 1559.6 339.3 1565.6 339.4 1574.4 339.6 1579.2 339.7 1578.7 339.8 1554.3 339.9 1556.2 340.1 1557.9 340.2 1535.6 340.3 1542.8 340.4 1557.0 340.6 1552.9 340.7 1547.6 340.8 1540.2 340.9 1544.6 341.1 1550.9 341.2 1548.8 341.3 1563.2 341.4 1562.3 341.6 1539.8 341.7 1558.1 341.8 1552.0 341.9 1558.0 342.1 1544.1 342.2 1557.0 342.3 1542.6 342.4 1557.2 342.6 1549.0 342.7 1544.6 342.8 1532.6 342.9 1526.9 343.1 1550.5 343.2 1534.8 343.3 1530.8 343.4 1545.4 343.6 1544.2 343.7 1549.2 343.8 1531.0 343.9 1523.9 344.1 1529.9 344.2 1551.3 344.3 1545.6 344.4 1549.5 344.6 1551.4 344.7 1548.5 344.8 1548.3 344.9 1544.7 345.1 1548.6 345.2 1550.8 345.3 1541.5 345.4 1552.8 345.6 1549.2 345.7 1547.9 345.8 1547.2 345.9 1558.1 346.1 1550.0 346.2 1562.6 346.3 1542.5 346.4 1555.3 346.6 1535.9 346.7 1549.1 346.8 1546.2 346.9 1546.3 347.1 1540.5 347.2 1550.4 347.3 1558.7 347.4 1535.3 347.6 1549.1 347.7 1555.5 347.8 1561.7 347.9 1560.5 348.1 1545.1 348.2 1564.6 348.3 1548.5 348.4 1560.1 348.6 1559.3 348.7 1550.9 348.8 1545.8 348.9 1552.4 349.1 1571.7 349.2 1567.1 349.3 1553.2 349.4 1564.6 349.6 1577.1 349.7 1578.8 349.8 1545.0 349.9 1563.5 350.1 1568.5 350.2 1551.9 350.3 1538.0 350.4 1568.3 350.6 1556.0 350.7 1541.2 350.8 1544.3 350.9 1564.5 351.1 1580.6 351.2 1575.0 351.3 1553.9 351.4 1572.8 351.6 1542.8 351.7 1567.9 351.8 1572.3 351.9 1581.8 352.1 1576.1 352.2 1576.7 352.3 1565.9 352.4 1559.0 352.6 1561.5 352.7 1581.9 352.8 1559.3 352.9 1560.0 353.1 1555.7 353.2 1566.6 353.3 1566.6 353.4 1579.9 353.6 1579.6 353.7 1576.7 353.8 1572.0 353.9 1560.3 354.1 1543.9 354.2 1557.4 354.3 1558.6 354.4 1546.8 354.6 1557.8 354.7 1567.4 354.8 1550.5 354.9 1564.5 355.1 1562.4 355.2 1552.4 355.3 1556.7 355.4 1563.5 355.6 1555.6 355.7 1555.0 355.8 1567.9 355.9 1562.9 356.1 1561.5 356.2 1551.2 356.3 1560.3 356.4 1569.3 356.6 1548.2 356.7 1537.3 356.8 1542.8 356.9 1550.6 357.1 1544.4 357.2 1537.1 357.3 1567.3 357.4 1554.3 357.6 1548.3 357.7 1538.1 357.8 1560.2 357.9 1543.5 358.1 1568.2 358.2 1566.3 358.3 1563.0 358.4 1558.5 358.6 1569.5 358.7 1557.0 358.8 1564.3 358.9 1557.4 359.1 1558.3 359.2 1578.0 359.3 1577.7 359.4 1557.2 359.6 1554.1 359.7 1563.2 359.8 1563.6 359.9 1570.6 360.1 1563.3 360.2 1555.2 360.3 1573.7 360.4 1566.7 360.6 1575.4 360.7 1560.6 360.8 1584.0 360.9 1575.8 361.1 1574.4 361.2 1575.8 361.3 1555.2 361.4 1576.6 361.6 1567.9 361.7 1560.1 361.8 1575.5 361.9 1593.8 362.1 1571.4 362.2 1592.0 362.3 1555.5 362.4 1576.2 362.6 1571.0 362.7 1579.7 362.8 1599.5 362.9 1591.7 363.1 1566.3 363.2 1594.1 363.3 1572.5 363.4 1574.0 363.6 1571.1 363.7 1582.4 363.8 1582.5 363.9 1602.2 364.1 1592.2 364.2 1593.1 364.3 1583.4 364.4 1594.7 364.6 1572.8 364.7 1563.5 364.8 1586.1 364.9 1588.4 365.1 1580.7 365.2 1597.2 365.3 1572.2 365.4 1589.9 365.6 1593.8 365.7 1565.2 365.8 1577.4 365.9 1581.5 366.1 1572.2 366.2 1569.8 366.3 1569.4 366.4 1560.5 366.6 1553.0 366.7 1572.4 366.8 1570.0 366.9 1567.0 367.1 1570.6 367.2 1557.6 367.3 1555.9 367.4 1569.0 367.6 1563.1 367.7 1565.9 367.8 1571.4 367.9 1577.0 368.1 1553.7 368.2 1551.3 368.3 1542.2 368.4 1546.8 368.6 1558.7 368.7 1550.9 368.8 1573.0 368.9 1554.6 369.1 1537.0 369.2 1541.7 369.3 1571.6 369.4 1548.0 369.6 1551.0 369.7 1543.8 369.8 1539.2 369.9 1560.9 370.1 1540.9 370.2 1530.8 370.3 1538.6 370.4 1540.8 370.6 1552.5 370.7 1551.2 370.8 1562.6 370.9 1549.2 371.1 1553.1 371.2 1554.3 371.3 1560.1 371.4 1536.2 371.6 1540.9 371.7 1524.8 371.8 1530.7 371.9 1528.7 372.1 1531.9 372.2 1560.0 372.3 1559.4 372.4 1529.5 372.6 1561.8 372.7 1562.0 372.8 1549.2 372.9 1543.2 373.1 1541.6 373.2 1542.5 373.3 1551.0 373.4 1541.4 373.6 1555.2 373.7 1541.4 373.8 1534.1 373.9 1539.5 374.1 1546.6 374.2 1549.2 374.3 1544.0 374.4 1523.4 374.6 1521.2 374.7 1518.0 374.8 1533.8 374.9 1550.3 375.1 1544.8 375.2 1542.7 375.3 1536.2 375.4 1536.8 375.6 1532.4 375.7 1555.7 375.8 1528.0 375.9 1527.3 376.1 1546.7 376.2 1538.5 376.3 1551.6 376.4 1538.0 376.6 1548.3 376.7 1547.4 376.8 1524.8 376.9 1547.7 377.1 1563.1 377.2 1537.8 377.3 1541.3 377.4 1553.8 377.6 1569.5 377.7 1556.3 377.8 1573.0 377.9 1549.2 378.1 1573.6 378.2 1544.6 378.3 1548.7 378.4 1538.7 378.6 1561.5 378.7 1562.0 378.8 1533.2 378.9 1530.0 379.1 1572.7 379.2 1554.9 379.3 1536.1 379.4 1541.9 379.6 1548.7 379.7 1573.0 379.8 1565.8 379.9 1560.6 380.1 1549.8 380.2 1564.8 380.3 1543.9 380.4 1569.0 380.6 1572.8 380.7 1560.2 380.8 1548.8 380.9 1555.4 381.1 1561.8 381.2 1582.0 381.3 1582.3 381.4 1564.6 381.6 1560.3 381.7 1554.7 381.8 1569.1 381.9 1564.5 382.1 1575.0 382.2 1572.1 382.3 1566.6 382.4 1561.9 382.6 1556.0 382.7 1575.1 382.8 1562.0 382.9 1578.7 383.1 1560.4 383.2 1557.3 383.3 1571.1 383.4 1570.3 383.6 1585.3 383.7 1580.0 383.8 1578.7 383.9 1588.3 384.1 1575.6 384.2 1586.6 384.3 1601.2 384.4 1590.1 384.6 1575.2 384.7 1581.9 384.8 1575.8 384.9 1580.0 385.1 1602.5 385.2 1579.5 385.3 1572.6 385.4 1590.6 385.6 1583.7 385.7 1584.3 385.8 1578.9 385.9 1586.7 386.1 1601.1 386.2 1594.4 386.3 1581.1 386.4 1578.6 386.6 1571.5 386.7 1569.9 386.8 1588.8 386.9 1587.7 387.1 1586.1 387.2 1585.7 387.3 1572.9 387.4 1576.4 387.6 1582.4 387.7 1594.7 387.8 1582.2 387.9 1577.1 388.1 1566.3 388.2 1583.2 388.3 1572.3 388.4 1575.0 388.6 1576.5 388.7 1563.6 388.8 1572.1 388.9 1582.3 389.1 1562.1 389.2 1561.4 389.3 1558.5 389.4 1568.3 389.6 1589.7 389.7 1578.3 389.8 1585.7 389.9 1577.0 390.1 1568.6 390.2 1572.0 390.3 1575.4 390.4 1572.0 390.6 1573.1 390.7 1575.4 390.8 1568.8 390.9 1590.4 391.1 1583.8 391.2 1577.1 391.3 1571.5 391.4 1580.6 391.6 1571.0 391.7 1564.7 391.8 1572.9 391.9 1591.5 392.1 1580.8 392.2 1582.9 392.3 1572.3 392.4 1585.5 392.6 1577.8 392.7 1576.5 392.8 1574.6 392.9 1581.1 393.1 1573.6 393.2 1579.0 393.3 1582.7 393.4 1576.2 393.6 1566.9 393.7 1585.9 393.8 1572.4 393.9 1563.9 394.1 1578.5 394.2 1580.4 394.3 1591.5 394.4 1594.6 394.6 1559.9 394.7 1568.3 394.8 1577.5 394.9 1562.5 395.1 1583.4 395.2 1578.9 395.3 1567.1 395.4 1565.4 395.6 1572.6 395.7 1588.6 395.8 1587.6 395.9 1558.2 396.1 1570.8 396.2 1552.0 396.3 1560.7 396.4 1553.1 396.6 1557.7 396.7 1556.4 396.8 1563.2 396.9 1552.8 397.1 1564.2 397.2 1557.6 397.3 1547.6 397.4 1568.3 397.6 1560.5 397.7 1552.8 397.8 1553.4 397.9 1559.1 398.1 1552.0 398.2 1545.8 398.3 1548.9 398.4 1545.6 398.6 1544.9 398.7 1565.7 398.8 1561.6 398.9 1566.0 399.1 1548.9 399.2 1533.4 399.3 1543.4 399.4 1554.1 399.6 1546.3 399.7 1551.2 399.8 1541.1 399.9 1552.9 400.1 1546.3 400.2 1549.0 400.3 1555.8 400.4 1543.8 400.6 1538.2 400.7 1539.3 400.8 1552.5 400.9 1546.5 401.1 1558.2 401.2 1555.4 401.3 1560.1 401.4 1552.4 401.6 1560.1 401.7 1557.2 401.8 1532.2 401.9 1557.8 402.1 1557.7 402.2 1546.0 402.3 1536.5 402.4 1529.5 402.6 1545.9 402.7 1540.1 402.8 1536.2 402.9 1537.2 403.1 1531.1 403.2 1555.7 403.3 1542.6 403.4 1548.8 403.6 1552.2 403.7 1555.3 403.8 1550.6 403.9 1560.5 404.1 1547.3 404.2 1573.0 404.3 1539.6 404.4 1558.1 404.6 1574.5 404.7 1547.8 404.8 1569.2 404.9 1576.0 405.1 1554.6 405.2 1573.1 405.3 1551.9 405.4 1558.5 405.6 1553.6 405.7 1543.5 405.8 1540.1 405.9 1546.1 406.1 1535.6 406.2 1555.2 406.3 1558.8 406.4 1572.6 406.6 1566.6 406.7 1556.5 406.8 1551.4 406.9 1578.8 407.1 1539.3 407.2 1531.8 407.3 1575.1 407.4 1568.9 407.6 1554.9 407.7 1555.7 407.8 1560.9 407.9 1528.8 408.1 1536.6 408.2 1550.5 408.3 1551.7 408.4 1556.7 408.6 1545.6 408.7 1534.7 408.8 1528.4 408.9 1541.9 409.1 1535.5 409.2 1539.6 409.3 1551.3 409.4 1550.5 409.6 1517.6 409.7 1540.9 409.8 1517.6 409.9 1503.5 410.1 1547.2 410.2 1531.9 410.3 1516.8 410.4 1515.1 410.6 1530.5 410.7 1541.3 410.8 1539.9 410.9 1518.8 411.1 1503.5 411.2 1513.6 411.3 1529.9 411.4 1527.1 411.6 1504.2 411.7 1517.7 411.8 1526.7 411.9 1509.8 412.1 1528.8 412.2 1540.0 412.3 1535.7 412.4 1513.5 412.6 1516.3 412.7 1519.6 412.8 1517.2 412.9 1531.5 413.1 1525.3 413.2 1523.2 413.3 1526.9 413.4 1518.7 413.6 1506.6 413.7 1521.7 413.8 1519.6 413.9 1531.3 414.1 1528.7 414.2 1522.6 414.3 1537.4 414.4 1527.6 414.6 1511.1 414.7 1541.2 414.8 1542.8 414.9 1529.5 415.1 1509.1 415.2 1511.9 415.3 1535.0 415.4 1526.8 415.6 1521.4 415.7 1529.1 415.8 1518.2 415.9 1516.3 416.1 1534.9 416.2 1530.2 416.3 1531.5 416.4 1529.3 416.6 1533.4 416.7 1531.2 416.8 1512.1 416.9 1514.4 417.1 1534.7 417.2 1521.9 417.3 1535.4 417.4 1515.8 417.6 1499.5 417.7 1511.8 417.8 1507.3 417.9 1503.8 418.1 1502.0 418.2 1488.9 418.3 1513.2 418.4 1511.3 418.6 1502.4 418.7 1492.6 418.8 1518.1 418.9 1516.1 419.1 1524.4 419.2 1522.9 419.3 1528.0 419.4 1519.3 419.6 1498.9 419.7 1517.0 419.8 1531.4 419.9 1502.4 420.1 1510.5 420.2 1540.1 420.3 1507.2 420.4 1539.5 420.6 1512.0 420.7 1495.7 420.8 1509.9 420.9 1511.5 421.1 1537.2 421.2 1493.1 421.3 1503.1 421.4 1505.4 421.6 1503.5 421.7 1523.5 421.8 1516.4 421.9 1524.9 422.1 1522.4 422.2 1546.7 422.3 1520.2 422.4 1527.8 422.6 1544.7 422.7 1541.5 422.8 1531.6 422.9 1544.2 423.1 1539.5 423.2 1538.9 423.3 1532.4 423.4 1546.4 423.6 1550.4 423.7 1523.9 423.8 1537.3 423.9 1537.8 424.1 1541.7 424.2 1520.9 424.3 1509.8 424.4 1522.5 424.6 1543.8 424.7 1517.7 424.8 1540.6 424.9 1531.6 425.1 1531.8 425.2 1531.9 425.3 1524.8 425.4 1524.8 425.6 1535.5 425.7 1548.3 425.8 1534.2 425.9 1534.2 426.1 1519.5 426.2 1524.6 426.3 1538.4 426.4 1541.2 426.6 1527.0 426.7 1526.5 426.8 1522.5 426.9 1517.7 427.1 1530.6 427.2 1523.9 427.3 1543.0 427.4 1507.6 427.6 1505.7 427.7 1509.0 427.8 1524.7 427.9 1525.5 428.1 1518.5 428.2 1505.3 428.3 1522.8 428.4 1507.7 428.6 1542.3 428.7 1533.8 428.8 1521.0 428.9 1524.7 429.1 1550.3 429.2 1529.8 429.3 1514.9 429.4 1504.5 429.6 1520.7 429.7 1518.2 429.8 1545.3 429.9 1536.7 430.1 1548.9 430.2 1529.2 430.3 1518.9 430.4 1544.6 430.6 1532.8 430.7 1521.7 430.8 1529.6 430.9 1549.3 431.1 1526.7 431.2 1564.7 431.3 1548.0 431.4 1517.1 431.6 1512.6 431.7 1527.7 431.8 1526.0 431.9 1525.0 432.1 1528.1 432.2 1534.3 432.3 1527.8 432.4 1522.2 432.6 1503.3 432.7 1546.8 432.8 1534.4 432.9 1537.5 433.1 1532.6 433.2 1545.6 433.3 1531.6 433.4 1543.8 433.6 1523.3 433.7 1523.1 433.8 1532.0 433.9 1534.0 434.1 1540.9 434.2 1521.7 434.3 1529.3 434.4 1519.6 434.6 1508.0 434.7 1530.8 434.8 1524.0 434.9 1513.2 435.1 1513.2 435.2 1525.3 435.3 1522.4 435.4 1520.4 435.6 1527.1 435.7 1522.1 435.8 1504.6 435.9 1525.8 436.1 1517.6 436.2 1517.0 436.3 1502.2 436.4 1502.1 436.6 1514.3 436.7 1515.2 436.8 1520.2 436.9 1524.1 437.1 1531.5 437.2 1537.8 437.3 1538.1 437.4 1514.2 437.6 1511.6 437.7 1521.1 437.8 1537.7 437.9 1538.0 438.1 1519.3 438.2 1507.7 438.3 1522.7 438.4 1520.1 438.6 1530.0 438.7 1533.6 438.8 1528.7 438.9 1512.9 439.1 1505.5 439.2 1515.7 439.3 1527.4 439.4 1522.9 439.6 1531.9 439.7 1519.4 439.8 1536.6 439.9 1531.2 440.1 1522.3 440.2 1516.0 440.3 1523.3 440.4 1528.5 440.6 1549.8 440.7 1535.6 440.8 1541.1 440.9 1507.7 441.1 1541.2 441.2 1535.1 441.3 1523.8 441.4 1511.5 441.6 1520.5 441.7 1556.0 441.8 1553.8 441.9 1553.7 442.1 1538.2 442.2 1549.9 442.3 1553.1 442.4 1550.9 442.6 1535.4 442.7 1537.1 442.8 1542.1 442.9 1572.7 443.1 1532.5 443.2 1568.2 443.3 1572.9 443.4 1560.0 443.6 1565.7 443.7 1562.0 443.8 1564.5 443.9 1551.6 444.1 1534.3 444.2 1582.4 444.3 1581.7 444.4 1546.2 444.6 1568.8 444.7 1554.2 444.8 1561.3 444.9 1544.3 445.1 1540.2 445.2 1573.7 445.3 1552.4 445.4 1552.1 445.6 1560.8 445.7 1571.0 445.8 1550.0 445.9 1558.0 446.1 1560.7 446.2 1545.5 446.3 1542.3 446.4 1554.5 446.6 1548.4 446.7 1565.3 446.8 1531.4 446.9 1549.4 447.1 1545.3 447.2 1530.8 447.3 1541.2 447.4 1528.9 447.6 1537.6 447.7 1553.7 447.8 1537.9 447.9 1547.8 448.1 1546.2 448.2 1537.4 448.3 1537.4 448.4 1541.9 448.6 1543.3 448.7 1534.7 448.8 1535.8 448.9 1544.6 449.1 1528.3 449.2 1522.6 449.3 1535.5 449.4 1538.9 449.6 1514.3 449.7 1529.4 449.8 1544.7 449.9 1541.7 450.1 1529.0 450.2 1532.9 450.3 1513.8 450.4 1531.0 450.6 1530.6 450.7 1535.3 450.8 1525.9 450.9 1531.2 451.1 1521.2 451.2 1532.8 451.3 1528.7 451.4 1506.2 451.6 1502.4 451.7 1521.4 451.8 1528.7 451.9 1532.2 452.1 1515.8 452.2 1518.5 452.3 1513.7 452.4 1508.9 452.6 1511.2 452.7 1524.5 452.8 1511.1 452.9 1528.7 453.1 1503.3 453.2 1506.9 453.3 1515.6 453.4 1517.0 453.6 1513.2 453.7 1494.0 453.8 1503.8 453.9 1522.9 454.1 1518.7 454.2 1516.2 454.3 1514.5 454.4 1508.1 454.6 1507.1 454.7 1500.5 454.8 1520.9 454.9 1514.2 455.1 1512.0 455.2 1508.6 455.3 1502.7 455.4 1486.6 455.6 1500.3 455.7 1494.5 455.8 1494.4 455.9 1503.6 456.1 1519.4 456.2 1492.2 456.3 1499.8 456.4 1522.0 456.6 1488.4 456.7 1505.1 456.8 1494.9 456.9 1508.8 457.1 1523.2 457.2 1502.8 457.3 1514.3 457.4 1508.0 457.6 1526.7 457.7 1476.0 457.8 1483.2 457.9 1498.8 458.1 1505.5 458.2 1528.1 458.3 1526.1 458.4 1506.9 458.6 1490.2 458.7 1520.7 458.8 1516.1 458.9 1509.2 459.1 1522.4 459.2 1535.4 459.3 1523.0 459.4 1533.7 459.6 1498.3 459.7 1523.4 459.8 1538.7 459.9 1538.2 460.1 1516.6 460.2 1507.1 460.3 1522.8 460.4 1513.0 460.6 1515.4 460.7 1503.4 460.8 1509.9 460.9 1528.3 461.1 1518.7 461.2 1516.9 461.3 1512.2 461.4 1523.9 461.6 1531.7 461.7 1530.9 461.8 1509.7 461.9 1524.2 462.1 1519.4 462.2 1527.1 462.3 1518.8 462.4 1540.0 462.6 1550.6 462.7 1545.0 462.8 1551.3 462.9 1538.6 463.1 1530.9 463.2 1512.5 463.3 1522.0 463.4 1526.5 463.6 1548.4 463.7 1526.9 463.8 1533.5 463.9 1541.0 464.1 1536.7 464.2 1535.3 464.3 1546.5 464.4 1528.8 464.6 1534.9 464.7 1538.5 464.8 1554.0 464.9 1555.0 465.1 1546.9 465.2 1548.6 465.3 1517.5 465.4 1537.2 465.6 1532.4 465.7 1520.9 465.8 1542.4 465.9 1534.5 466.1 1529.0 466.2 1515.6 466.3 1533.0 466.4 1547.5 466.6 1537.8 466.7 1541.5 466.8 1544.5 466.9 1533.0 467.1 1525.9 467.2 1521.0 467.3 1522.8 467.4 1519.6 467.6 1525.2 467.7 1519.3 467.8 1535.6 467.9 1515.3 468.1 1539.3 468.2 1519.3 468.3 1514.5 468.4 1526.2 468.6 1511.3 468.7 1495.1 468.8 1521.9 468.9 1534.0 469.1 1495.3 469.2 1516.3 469.3 1506.7 469.4 1508.1 469.6 1529.6 469.7 1497.3 469.8 1500.3 469.9 1522.1 470.1 1513.2 470.2 1513.4 470.3 1500.7 470.4 1497.2 470.6 1497.7 470.7 1510.7 470.8 1506.1 470.9 1516.4 471.1 1536.3 471.2 1499.4 471.3 1515.3 471.4 1514.9 471.6 1504.3 471.7 1517.5 471.8 1508.5 471.9 1502.2 472.1 1517.2 472.2 1538.8 472.3 1523.6 472.4 1528.4 472.6 1518.1 472.7 1515.9 472.8 1508.4 472.9 1523.5 473.1 1532.6 473.2 1511.4 473.3 1510.2 473.4 1531.6 473.6 1524.8 473.7 1514.7 473.8 1536.9 473.9 1532.9 474.1 1531.0 474.2 1535.4 474.3 1530.5 474.4 1558.8 474.6 1522.8 474.7 1530.3 474.8 1542.4 474.9 1542.9 475.1 1526.5 475.2 1531.7 475.3 1535.1 475.4 1550.9 475.6 1556.7 475.7 1557.8 475.8 1542.7 475.9 1552.3 476.1 1545.5 476.2 1535.3 476.3 1532.2 476.4 1542.5 476.6 1540.4 476.7 1530.1 476.8 1523.2 476.9 1521.3 477.1 1547.6 477.2 1533.8 477.3 1535.0 477.4 1550.9 477.6 1554.8 477.7 1547.7 477.8 1540.8 477.9 1528.6 478.1 1532.0 478.2 1534.8 478.3 1540.6 478.4 1525.7 478.6 1539.8 478.7 1545.1 478.8 1537.8 478.9 1513.9 479.1 1504.6 479.2 1530.0 479.3 1505.6 479.4 1522.4 479.6 1544.5 479.7 1526.3 479.8 1506.1 479.9 1525.6 480.1 1514.0 480.2 1514.5 480.3 1496.7 480.4 1503.3 480.6 1523.8 480.7 1510.5 480.8 1502.6 480.9 1506.3 481.1 1508.1 481.2 1514.4 481.3 1511.8 481.4 1512.6 481.6 1492.3 481.7 1495.4 481.8 1482.9 481.9 1508.0 482.1 1495.3 482.2 1494.3 482.3 1512.0 482.4 1507.5 482.6 1496.5 482.7 1494.6 482.8 1492.6 482.9 1502.4 483.1 1512.5 483.2 1489.2 483.3 1506.0 483.4 1507.4 483.6 1493.2 483.7 1496.6 483.8 1496.7 483.9 1488.2 484.1 1487.1 484.2 1503.8 484.3 1498.7 484.4 1490.5 484.6 1484.5 484.7 1489.6 484.8 1491.6 484.9 1498.2 485.1 1505.3 485.2 1493.9 485.3 1483.6 485.4 1491.9 485.6 1491.5 485.7 1485.2 485.8 1494.2 485.9 1489.1 486.1 1491.4 486.2 1488.9 486.3 1492.3 486.4 1494.2 486.6 1481.1 486.7 1494.6 486.8 1489.7 486.9 1473.9 487.1 1482.3 487.2 1498.0 487.3 1503.0 487.4 1485.4 487.6 1490.1 487.7 1476.7 487.8 1490.1 487.9 1469.1 488.1 1468.9 488.2 1487.8 488.3 1492.6 488.4 1482.5 488.6 1491.5 488.7 1503.8 488.8 1489.5 488.9 1493.9 489.1 1480.8 489.2 1473.0 489.3 1502.6 489.4 1492.0 489.6 1481.8 489.7 1468.4 489.8 1489.8 489.9 1497.1 490.1 1504.0 490.2 1488.3 490.3 1497.2 490.4 1489.6 490.6 1478.1 490.7 1485.3 490.8 1481.1 490.9 1477.1 491.1 1479.3 491.2 1496.1 491.3 1490.9 491.4 1481.4 491.6 1486.1 491.7 1487.3 491.8 1488.1 491.9 1491.6 492.1 1482.6 492.2 1504.3 492.3 1481.3 492.4 1482.8 492.6 1474.8 492.7 1484.0 492.8 1484.6 492.9 1493.0 493.1 1476.6 493.2 1491.9 493.3 1474.7 493.4 1503.1 493.6 1489.7 493.7 1506.2 493.8 1513.1 493.9 1485.7 494.1 1514.6 494.2 1499.4 494.3 1473.5 494.4 1493.3 494.6 1497.4 494.7 1515.0 494.8 1479.0 494.9 1473.7 495.1 1486.0 495.2 1486.6 495.3 1481.2 495.4 1490.0 495.6 1510.6 495.7 1494.6 495.8 1501.3 495.9 1484.6 496.1 1474.4 496.2 1481.2 496.3 1506.7 496.4 1506.1 496.6 1499.6 496.7 1486.0 496.8 1490.2 496.9 1493.2 497.1 1471.0 497.2 1479.0 497.3 1503.4 497.4 1473.5 497.6 1483.6 497.7 1477.7 497.8 1477.6 497.9 1490.8 498.1 1474.6 498.2 1487.3 498.3 1481.0 498.4 1491.0 498.6 1472.5 498.7 1489.2 498.8 1479.8 498.9 1472.2 499.1 1468.2 499.2 1457.2 499.3 1482.5 499.4 1470.3 499.6 1488.6 499.7 1497.7 499.8 1466.2 499.9 1478.9 500.1 1471.0 500.2 1478.3 500.3 1483.8 500.4 1466.5 500.6 1488.3 500.7 1479.5 500.8 1498.3 500.9 1484.3 501.1 1483.7 501.2 1482.0 501.3 1503.1 501.4 1482.7 501.6 1460.3 501.7 1488.0 501.8 1484.8 501.9 1493.6 502.1 1499.6 502.2 1505.1 502.3 1491.2 502.4 1491.2 502.6 1499.6 502.7 1505.0 502.8 1472.2 502.9 1506.5 503.1 1476.1 503.2 1486.9 503.3 1501.2 503.4 1483.3 503.6 1480.0 503.7 1505.4 503.8 1510.4 503.9 1475.6 504.1 1486.1 504.2 1494.1 504.3 1509.1 504.4 1499.9 504.6 1504.6 504.7 1500.2 504.8 1503.9 504.9 1515.2 505.1 1508.4 505.2 1503.2 505.3 1479.5 505.4 1480.5 505.6 1477.2 505.7 1492.3 505.8 1492.6 505.9 1488.4 506.1 1503.9 506.2 1482.6 506.3 1498.1 506.4 1497.6 506.6 1490.8 506.7 1489.1 506.8 1493.6 506.9 1508.6 507.1 1513.4 507.2 1489.1 507.3 1501.3 507.4 1496.4 507.6 1512.7 507.7 1519.1 507.8 1517.2 507.9 1513.5 508.1 1514.5 508.2 1490.2 508.3 1507.9 508.4 1510.2 508.6 1506.0 508.7 1499.6 508.8 1493.8 508.9 1496.7 509.1 1499.6 509.2 1488.8 509.3 1501.8 509.4 1509.6 509.6 1525.4 509.7 1528.5 509.8 1518.5 509.9 1512.5 510.1 1511.1 510.2 1519.6 510.3 1523.2 510.4 1497.8 510.6 1516.5 510.7 1507.8 510.8 1511.0 510.9 1508.3 511.1 1515.3 511.2 1502.9 511.3 1511.2 511.4 1497.7 511.6 1520.4 511.7 1523.5 511.8 1511.9 511.9 1512.6 512.1 1507.7 512.2 1520.1 512.3 1520.8 512.5 1510.9 512.6 1511.3 512.7 1515.6 512.8 1506.2 513.0 1514.5 513.1 1518.3 513.2 1531.2 513.3 1521.1 513.5 1507.6 513.6 1523.7 513.7 1517.7 513.8 1509.0 514.0 1519.4 514.1 1507.8 514.2 1524.5 514.3 1521.3 514.5 1510.1 514.6 1510.5 514.7 1528.2 514.8 1511.9 515.0 1507.0 515.1 1516.2 515.2 1512.9 515.3 1508.7 515.5 1515.7 515.6 1491.9 515.7 1506.6 515.8 1521.7 516.0 1523.8 516.1 1504.5 516.2 1507.5 516.3 1515.3 516.5 1506.8 516.6 1512.4 516.7 1513.4 516.8 1492.6 517.0 1512.1 517.1 1509.5 517.2 1507.4 517.3 1505.4 517.5 1488.9 517.6 1503.2 517.7 1517.3 517.8 1523.9 518.0 1513.8 518.1 1508.4 518.2 1505.2 518.3 1521.9 518.5 1528.6 518.6 1515.0 518.7 1488.9 518.8 1507.5 519.0 1526.1 519.1 1499.1 519.2 1499.4 519.3 1491.4 519.5 1509.0 519.6 1530.9 519.7 1527.2 519.8 1496.2 520.0 1493.2 520.1 1513.5 520.2 1508.3 520.3 1491.1 520.5 1510.9 520.6 1501.3 520.7 1514.7 520.8 1518.8 521.0 1516.7 521.1 1500.7 521.2 1500.3 521.3 1507.9 521.5 1504.9 521.6 1522.8 521.7 1527.8 521.8 1518.3 522.0 1524.2 522.1 1532.1 522.2 1507.6 522.3 1508.8 522.5 1533.6 522.6 1516.8 522.7 1510.0 522.8 1514.8 523.0 1520.3 523.1 1502.0 523.2 1513.5 523.3 1525.3 523.5 1514.3 523.6 1511.7 523.7 1525.0 523.8 1511.3 524.0 1504.6 524.1 1513.5 524.2 1523.3 524.3 1516.4 524.5 1501.0 524.6 1507.1 524.7 1519.7 524.8 1533.7 525.0 1521.2 525.1 1536.2 525.2 1515.5 525.3 1514.8 525.5 1520.5 525.6 1527.7 525.7 1520.6 525.8 1527.4 526.0 1521.5 526.1 1527.0 526.2 1529.1 526.3 1526.8 526.5 1527.1 526.6 1523.9 526.7 1520.3 526.8 1541.8 527.0 1524.6 527.1 1537.8 527.2 1538.2 527.3 1531.0 527.5 1529.5 527.6 1524.4 527.7 1530.8 527.8 1522.8 528.0 1529.8 528.1 1546.0 528.2 1543.8 528.3 1525.4 528.5 1533.1 528.6 1531.1 528.7 1524.3 528.8 1540.8 529.0 1524.3 529.1 1537.1 529.2 1549.4 529.3 1550.2 529.5 1532.0 529.6 1535.2 529.7 1536.6 529.8 1537.9 530.0 1545.2 530.1 1545.2 530.2 1553.1 530.3 1538.7 530.5 1543.3 530.6 1550.4 530.7 1546.9 530.8 1529.6 531.0 1540.6 531.1 1543.7 531.2 1543.5 531.3 1536.4 531.5 1547.6 531.6 1545.2 531.7 1538.3 531.8 1547.0 532.0 1544.5 532.1 1540.9 532.2 1539.3 532.3 1536.2 532.5 1544.2 532.6 1541.3 532.7 1553.8 532.8 1547.5 533.0 1553.1 533.1 1542.0 533.2 1542.6 533.3 1547.2 533.5 1554.0 533.6 1557.1 533.7 1551.6 533.8 1551.6 534.0 1553.3 534.1 1554.7 534.2 1556.4 534.3 1531.5 534.5 1548.7 534.6 1542.6 534.7 1542.0 534.8 1532.5 535.0 1545.0 535.1 1551.3 535.2 1551.6 535.3 1531.9 535.5 1516.8 535.6 1543.8 535.7 1529.3 535.8 1510.7 536.0 1536.5 536.1 1505.2 536.2 1534.4 536.3 1521.2 536.5 1547.0 536.6 1528.8 536.7 1515.8 536.8 1521.3 537.0 1509.0 537.1 1508.8 537.2 1521.4 537.3 1517.8 537.5 1498.7 537.6 1504.9 537.7 1536.9 537.8 1497.4 538.0 1516.1 538.1 1536.8 538.2 1504.6 538.3 1519.5 538.5 1511.8 538.6 1495.7 538.7 1518.0 538.8 1520.8 539.0 1511.1 539.1 1499.0 539.2 1520.8 539.3 1519.8 539.5 1507.7 539.6 1497.4 539.7 1503.3 539.8 1502.0 540.0 1500.6 540.1 1523.9 540.2 1511.2 540.3 1528.1 540.5 1528.2 540.6 1525.7 540.7 1519.6 540.8 1511.3 541.0 1509.8 541.1 1532.4 541.2 1528.1 541.3 1510.1 541.5 1518.7 541.6 1506.6 541.7 1509.9 541.8 1500.2 542.0 1499.0 542.1 1497.7 542.2 1512.2 542.3 1523.2 542.5 1513.7 542.6 1516.2 542.7 1510.9 542.8 1508.0 543.0 1516.3 543.1 1503.9 543.2 1524.7 543.3 1526.7 543.5 1523.7 543.6 1520.1 543.7 1514.5 543.8 1536.1 544.0 1522.4 544.1 1516.6 544.2 1511.7 544.3 1514.4 544.5 1521.0 544.6 1521.3 544.7 1532.7 544.8 1524.1 545.0 1519.2 545.1 1533.0 545.2 1523.0 545.3 1548.6 545.5 1521.8 545.6 1529.3 545.7 1524.4 545.8 1536.2 546.0 1550.1 546.1 1534.3 546.2 1519.8 546.3 1537.8 546.5 1539.7 546.6 1547.0 546.7 1533.3 546.8 1533.1 547.0 1531.5 547.1 1533.3 547.2 1538.5 547.3 1555.3 547.5 1548.5 547.6 1538.1 547.7 1524.3 547.8 1552.7 548.0 1549.8 548.1 1557.1 548.2 1518.9 548.3 1560.2 548.5 1533.0 548.6 1526.0 548.7 1528.7 548.8 1531.0 549.0 1552.1 549.1 1517.7 549.2 1540.4 549.3 1552.9 549.5 1553.4 549.6 1548.4 549.7 1550.3 549.8 1536.0 550.0 1529.4 550.1 1528.6 550.2 1516.2 550.3 1543.3 550.5 1537.5 550.6 1540.6 550.7 1553.6 550.8 1554.8 551.0 1546.0 551.1 1529.1 551.2 1515.2 551.3 1541.7 551.5 1519.5 551.6 1530.5 551.7 1534.7 551.8 1529.2 552.0 1537.8 552.1 1548.6 552.2 1556.9 552.3 1538.2 552.5 1524.8 552.6 1534.9 552.7 1527.9 552.8 1527.6 553.0 1541.4 553.1 1553.7 553.2 1546.3 553.3 1546.4 553.5 1556.3 553.6 1553.1 553.7 1533.2 553.8 1535.8 554.0 1538.5 554.1 1559.6 554.2 1533.9 554.3 1541.4 554.5 1525.8 554.6 1534.6 554.7 1534.5 554.8 1533.8 555.0 1551.8 555.1 1539.4 555.2 1561.4 555.3 1553.1 555.5 1547.0 555.6 1536.8 555.7 1564.1 555.8 1551.5 556.0 1566.3 556.1 1566.4 556.2 1550.8 556.3 1553.0 556.5 1559.5 556.6 1545.6 556.7 1524.5 556.8 1547.7 557.0 1535.0 557.1 1525.1 557.2 1528.2 557.3 1549.4 557.5 1527.5 557.6 1526.8 557.7 1520.6 557.8 1542.7 558.0 1541.1 558.1 1549.8 558.2 1544.0 558.3 1537.4 558.5 1545.4 558.6 1542.0 558.7 1532.5 558.8 1534.6 559.0 1543.4 559.1 1535.5 559.2 1508.1 559.3 1501.4 559.5 1506.3 559.6 1528.0 559.7 1525.7 559.8 1527.2 560.0 1519.2 560.1 1517.5 560.2 1514.0 560.3 1517.3 560.5 1518.9 560.6 1518.9 560.7 1509.4 560.8 1505.2 561.0 1532.2 561.1 1526.5 561.2 1528.5 561.3 1519.1 561.5 1523.9 561.6 1530.1 561.7 1523.2 561.8 1517.0 562.0 1530.7 562.1 1534.5 562.2 1516.8 562.3 1516.7 562.5 1539.4 562.6 1522.8 562.7 1519.8 562.8 1520.0 563.0 1531.5 563.1 1530.9 563.2 1540.8 563.3 1523.9 563.5 1525.8 563.6 1533.4 563.7 1534.8 563.8 1526.1 564.0 1531.2 564.1 1528.3 564.2 1534.0 564.3 1525.3 564.5 1545.8 564.6 1536.8 564.7 1533.6 564.8 1519.8 565.0 1524.4 565.1 1537.7 565.2 1545.3 565.3 1526.6 565.5 1551.5 565.6 1555.7 565.7 1533.4 565.8 1545.7 566.0 1528.4 566.1 1537.5 566.2 1539.1 566.3 1545.0 566.5 1540.0 566.6 1533.4 566.7 1535.5 566.8 1540.8 567.0 1531.3 567.1 1539.8 567.2 1529.1 567.3 1535.0 567.5 1542.3 567.6 1529.8 567.7 1535.2 567.8 1515.8 568.0 1523.4 568.1 1548.4 568.2 1526.6 568.3 1521.4 568.5 1536.3 568.6 1528.7 568.7 1525.1 568.8 1525.9 569.0 1539.0 569.1 1530.2 569.2 1516.2 569.3 1539.9 569.5 1545.1 569.6 1541.2 569.7 1533.5 569.8 1523.1 570.0 1548.4 570.1 1517.8 570.2 1542.0 570.3 1545.5 570.5 1543.6 570.6 1541.7 570.7 1545.8 570.8 1538.5 571.0 1545.6 571.1 1545.3 571.2 1539.6 571.3 1538.9 571.5 1538.3 571.6 1551.8 571.7 1530.8 571.8 1534.2 572.0 1550.9 572.1 1533.3 572.2 1540.9 572.3 1539.1 572.5 1523.7 572.6 1537.9 572.7 1548.1 572.8 1539.7 573.0 1549.0 573.1 1545.5 573.2 1542.2 573.3 1520.0 573.5 1537.9 573.6 1538.1 573.7 1541.7 573.8 1540.7 574.0 1522.6 574.1 1521.9 574.2 1513.2 574.3 1527.6 574.5 1517.6 574.6 1539.5 574.7 1538.5 574.8 1511.9 575.0 1527.3 575.1 1515.3 575.2 1497.3 575.3 1520.4 575.5 1501.8 575.6 1508.0 575.7 1522.3 575.8 1523.8 576.0 1538.8 576.1 1527.6 576.2 1513.0 576.3 1499.7 576.5 1484.8 576.6 1495.0 576.7 1503.1 576.8 1531.4 577.0 1505.3 577.1 1481.3 577.2 1501.8 577.3 1503.8 577.5 1512.7 577.6 1506.8 577.7 1493.1 577.8 1480.8 578.0 1494.5 578.1 1499.4 578.2 1506.0 578.3 1522.5 578.5 1504.9 578.6 1496.9 578.7 1483.3 578.8 1507.5 579.0 1490.1 579.1 1497.9 579.2 1493.3 579.3 1505.0 579.5 1502.4 579.6 1502.2 579.7 1496.9 579.8 1513.7 580.0 1495.3 580.1 1500.3 580.2 1520.0 580.3 1498.9 580.5 1529.7 580.6 1509.5 580.7 1523.9 580.8 1530.5 581.0 1513.7 581.1 1515.2 581.2 1526.0 581.3 1520.2 581.5 1530.5 581.6 1526.0 581.7 1513.2 581.8 1523.9 582.0 1516.0 582.1 1531.5 582.2 1501.0 582.3 1527.9 582.5 1532.3 582.6 1532.5 582.7 1517.3 582.8 1489.5 583.0 1496.5 583.1 1508.1 583.2 1528.3 583.3 1516.9 583.5 1504.4 583.6 1513.7 583.7 1529.7 583.8 1509.0 584.0 1511.4 584.1 1514.3 584.2 1518.1 584.3 1524.5 584.5 1530.5 584.6 1491.0 584.7 1513.9 584.8 1509.0 585.0 1495.7 585.1 1510.2 585.2 1510.1 585.3 1505.4 585.5 1516.9 585.6 1505.6 585.7 1512.8 585.8 1511.1 586.0 1510.6 586.1 1510.0 586.2 1506.0 586.3 1532.7 586.5 1528.6 586.6 1524.2 586.7 1532.1 586.8 1511.8 587.0 1541.1 587.1 1500.6 587.2 1513.5 587.3 1497.1 587.5 1511.6 587.6 1529.0 587.7 1529.1 587.8 1556.0 588.0 1539.7 588.1 1540.0 588.2 1534.0 588.3 1521.1 588.5 1543.9 588.6 1557.7 588.7 1527.6 588.8 1516.6 589.0 1518.3 589.1 1533.4 589.2 1545.8 589.3 1554.2 589.5 1525.0 589.6 1526.6 589.7 1546.7 589.8 1555.5 590.0 1548.8 590.1 1546.6 590.2 1559.0 590.3 1548.6 590.5 1535.0 590.6 1567.1 590.7 1568.6 590.8 1554.2 591.0 1554.2 591.1 1545.5 591.2 1573.8 591.3 1565.7 591.5 1570.7 591.6 1556.3 591.7 1542.7 591.8 1581.0 592.0 1567.4 592.1 1572.8 592.2 1578.8 592.3 1582.4 592.5 1570.6 592.6 1538.5 592.7 1561.4 592.8 1550.3 593.0 1552.4 593.1 1572.1 593.2 1564.6 593.3 1554.6 593.5 1555.2 593.6 1564.6 593.7 1580.9 593.8 1583.0 594.0 1540.5 594.1 1563.0 594.2 1564.4 594.3 1571.3 594.5 1572.9 594.6 1571.7 594.7 1577.5 594.8 1565.6 595.0 1578.5 595.1 1585.8 595.2 1559.5 595.3 1541.5 595.5 1550.5 595.6 1556.6 595.7 1554.2 595.8 1545.8 596.0 1547.7 596.1 1565.2 596.2 1571.0 596.3 1550.2 596.5 1554.4 596.6 1541.3 596.7 1546.8 596.8 1557.3 597.0 1553.4 597.1 1555.8 597.2 1544.1 597.3 1553.0 597.5 1541.9 597.6 1554.4 597.7 1556.4 597.8 1550.2 598.0 1554.5 598.1 1558.6 598.2 1560.7 598.3 1570.7 598.5 1570.1 598.6 1557.5 598.7 1567.8 598.8 1560.5 599.0 1568.1 599.1 1562.3 599.2 1556.1 599.3 1560.2 599.5 1558.5 599.6 1565.1 599.7 1557.8 599.8 1555.7 600.0 1546.7 600.1 1553.9 600.2 1553.6 600.3 1553.6 600.5 1562.4 600.6 1562.7 600.7 1558.9 600.8 1557.1 601.0 1553.4 601.1 1551.6 601.2 1559.2 601.3 1559.2 601.5 1552.5 601.6 1556.2 601.7 1555.6 601.8 1556.9 602.0 1565.5 602.1 1555.4 602.2 1563.9 602.3 1563.9 602.5 1559.1 602.6 1562.4 602.7 1560.7 602.8 1557.1 603.0 1548.4 603.1 1549.1 603.2 1550.8 603.3 1554.3 603.5 1556.5 603.6 1564.4 603.7 1559.4 603.8 1567.3 604.0 1566.2 604.1 1565.5 604.2 1559.4 604.3 1559.1 604.5 1562.3 604.6 1557.8 604.7 1559.0 604.8 1550.0 605.0 1560.3 605.1 1561.3 605.2 1557.1 605.3 1566.4 605.5 1569.5 605.6 1563.8 605.7 1556.5 605.8 1561.4 606.0 1561.4 606.1 1564.9 606.2 1558.3 606.3 1562.4 606.5 1564.1 606.6 1563.4 606.7 1562.7 606.8 1560.3 607.0 1557.0 607.1 1552.8 607.2 1546.7 607.3 1546.7 607.5 1552.0 607.6 1554.9 607.7 1565.5 607.8 1563.4 608.0 1554.9 608.1 1554.9 608.2 1553.2 608.3 1552.1 608.5 1567.7 608.6 1554.7 608.7 1558.7 608.8 1555.3 609.0 1549.2 609.1 1553.5 609.2 1545.8 609.3 1552.3 609.5 1559.4 609.6 1549.7 609.7 1559.7 609.8 1551.2 610.0 1550.4 610.1 1552.4 610.2 1560.0 610.3 1549.3 610.5 1554.8 610.6 1547.2 610.7 1555.9 610.8 1564.4 611.0 1544.1 611.1 1548.5 611.2 1546.9 611.3 1547.0 611.5 1539.9 611.6 1548.5 611.7 1544.9 611.8 1545.4 612.0 1551.1 612.1 1548.0 612.2 1545.4 612.3 1560.1 612.5 1552.8 612.6 1548.6 612.7 1549.3 612.8 1549.6 613.0 1548.5 613.1 1552.8 613.2 1544.4 613.3 1557.4 613.5 1551.8 613.6 1557.7 613.7 1549.0 613.8 1561.6 614.0 1555.8 614.1 1551.8 614.2 1561.9 614.3 1553.1 614.5 1556.5 614.6 1549.0 614.7 1564.1 614.8 1554.2 615.0 1547.2 615.1 1551.5 615.2 1558.4 615.3 1545.1 615.5 1556.7 615.6 1547.9 615.7 1544.0 615.8 1540.8 616.0 1558.8 616.1 1540.3 616.2 1540.8 616.3 1541.0 616.5 1545.1 616.6 1548.7 616.7 1541.4 616.8 1539.4 617.0 1529.9 617.1 1550.4 617.2 1548.7 617.3 1552.9 617.5 1549.1 617.6 1531.7 617.7 1547.3 617.8 1554.9 618.0 1532.4 618.1 1547.6 618.2 1536.4 618.3 1535.4 618.5 1529.2 618.6 1530.3 618.7 1537.3 618.8 1541.9 619.0 1542.2 619.1 1542.5 619.2 1535.1 619.3 1539.6 619.5 1541.2 619.6 1543.5 619.7 1540.0 619.8 1546.2 620.0 1536.3 620.1 1519.5 620.2 1534.6 620.3 1535.9 620.5 1538.7 620.6 1525.4 620.7 1536.9 620.8 1535.9 621.0 1526.7 621.1 1524.0 621.2 1537.9 621.3 1547.4 621.5 1542.2 621.6 1531.3 621.7 1537.2 621.8 1530.3 622.0 1533.3 622.1 1538.2 622.2 1535.9 622.3 1544.8 622.5 1529.3 622.6 1537.6 622.7 1545.5 622.8 1541.7 623.0 1546.7 623.1 1539.6 623.2 1545.3 623.3 1535.4 623.5 1540.8 623.6 1540.9 623.7 1546.4 623.8 1540.4 624.0 1543.5 624.1 1531.8 624.2 1538.1 624.3 1547.5 624.5 1553.2 624.6 1550.0 624.7 1547.4 624.8 1558.2 625.0 1549.5 625.1 1546.7 625.2 1549.2 625.3 1547.8 625.5 1542.5 625.6 1538.2 625.7 1541.1 625.8 1549.1 626.0 1552.5 626.1 1552.8 626.2 1547.7 626.3 1547.4 626.5 1554.2 626.6 1548.1 626.7 1548.3 626.8 1557.7 627.0 1553.5 627.1 1549.8 627.2 1548.8 627.3 1557.3 627.5 1553.8 627.6 1554.1 627.7 1554.4 627.8 1545.8 628.0 1548.9 628.1 1554.2 628.2 1554.3 628.3 1556.4 628.5 1552.1 628.6 1551.7 628.7 1556.7 628.8 1562.3 629.0 1554.3 629.1 1556.2 629.2 1553.9 629.3 1551.2 629.5 1555.6 629.6 1555.8 629.7 1549.0 629.8 1552.7 630.0 1553.2 630.1 1550.1 630.2 1551.8 630.3 1561.7 630.5 1548.5 630.6 1548.9 630.7 1558.3 630.8 1557.0 631.0 1557.8 631.1 1556.2 631.2 1555.8 631.3 1553.0 631.5 1559.7 631.6 1547.8 631.7 1555.0 631.8 1546.2 632.0 1546.0 632.1 1551.3 632.2 1561.1 632.3 1558.2 632.5 1555.1 632.6 1562.5 632.7 1555.5 632.8 1550.9 633.0 1556.5 633.1 1547.7 633.2 1563.3 633.3 1557.4 633.5 1553.8 633.6 1550.5 633.7 1556.8 633.8 1563.1 634.0 1551.4 634.1 1553.3 634.2 1554.0 634.3 1548.2 634.5 1558.2 634.6 1555.6 634.7 1550.9 634.8 1556.9 635.0 1549.1 635.1 1554.1 635.2 1554.4 635.3 1548.5 635.5 1549.1 635.6 1553.7 635.7 1543.8 635.8 1551.5 636.0 1555.3 636.1 1554.7 636.2 1554.0 636.3 1546.4 636.5 1551.2 636.6 1553.3 636.7 1557.9 636.8 1556.2 637.0 1560.9 637.1 1556.2 637.2 1557.0 637.3 1559.4 637.5 1556.0 637.6 1563.1 637.7 1546.7 637.8 1545.6 638.0 1559.6 638.1 1546.5 638.2 1549.2 638.3 1550.0 638.5 1555.7 638.6 1550.4 638.7 1549.4 638.8 1566.1 639.0 1555.5 639.1 1555.5 639.2 1559.3 639.3 1557.1 639.5 1552.5 639.6 1548.3 639.7 1550.2 639.8 1555.7 640.0 1556.3 640.1 1558.9 640.2 1559.3 640.3 1564.9 640.5 1564.2 640.6 1556.6 640.7 1555.7 640.8 1555.0 641.0 1553.5 641.1 1554.0 641.2 1554.4 641.3 1550.2 641.5 1547.1 641.6 1548.1 641.7 1554.6 641.8 1558.6 642.0 1554.9 642.1 1552.3 642.2 1555.5 642.3 1552.1 642.5 1552.7 642.6 1556.6 642.7 1542.5 642.8 1543.1 643.0 1560.7 643.1 1551.1 643.2 1545.4 643.3 1541.6 643.5 1544.5 643.6 1540.4 643.7 1542.6 643.8 1543.5 644.0 1553.2 644.1 1543.9 644.2 1549.3 644.3 1540.1 644.5 1557.9 644.6 1539.4 644.7 1541.3 644.8 1543.4 645.0 1541.7 645.1 1547.9 645.2 1548.1 645.3 1544.1 645.5 1555.3 645.6 1539.7 645.7 1539.4 645.8 1538.2 646.0 1539.8 646.1 1542.1 646.2 1539.1 646.3 1534.8 646.5 1532.6 646.6 1534.0 646.7 1529.1 646.8 1529.7 647.0 1525.0 647.1 1519.3 647.2 1536.2 647.3 1527.3 647.5 1540.7 647.6 1527.4 647.7 1535.6 647.8 1523.7 648.0 1541.2 648.1 1527.4 648.2 1518.5 648.3 1525.3 648.5 1521.6 648.6 1547.7 648.7 1525.1 648.8 1535.6 649.0 1513.6 649.1 1531.7 649.2 1518.4 649.3 1523.1 649.5 1518.4 649.6 1531.5 649.7 1524.2 649.8 1531.7 650.0 1537.0 650.1 1540.6 650.2 1535.4 650.3 1548.6 650.5 1552.3 650.6 1537.6 650.7 1544.4 650.8 1551.8 651.0 1560.9 651.1 1544.1 651.2 1553.8 651.3 1551.9 651.5 1543.7 651.6 1551.1 651.7 1540.7 651.8 1549.3 652.0 1571.9 652.1 1567.3 652.2 1571.1 652.3 1566.4 652.5 1559.5 652.6 1551.6 652.7 1544.2 652.8 1546.5 653.0 1574.9 653.1 1558.6 653.2 1561.7 653.3 1569.8 653.5 1553.0 653.6 1562.8 653.7 1552.3 653.8 1558.3 654.0 1550.4 654.1 1573.1 654.2 1566.3 654.3 1573.4 654.5 1556.6 654.6 1563.3 654.7 1555.2 654.8 1576.7 655.0 1562.9 655.1 1564.4 655.2 1568.9 655.3 1560.0 655.5 1567.2 655.6 1562.0 655.7 1563.3 655.8 1557.3 656.0 1567.4 656.1 1573.3 656.2 1554.6 656.3 1562.0 656.5 1560.4 656.6 1564.2 656.7 1569.0 656.8 1562.8 657.0 1562.1 657.1 1562.5 657.2 1561.2 657.3 1565.5 657.5 1554.5 657.6 1558.8 657.7 1562.4 657.8 1568.4 658.0 1573.5 658.1 1563.9 658.2 1560.4 658.3 1551.3 658.5 1550.6 658.6 1558.8 658.7 1556.8 658.8 1561.1 659.0 1543.7 659.1 1549.6 659.2 1556.0 659.3 1554.3 659.5 1552.8 659.6 1548.5 659.7 1551.0 659.8 1550.0 660.0 1549.3 660.1 1553.3 660.2 1558.1 660.3 1553.6 660.5 1545.8 660.6 1560.6 660.7 1548.7 660.8 1551.6 661.0 1553.9 661.1 1551.5 661.2 1542.9 661.3 1546.5 661.5 1541.5 661.6 1560.6 661.7 1549.0 661.8 1564.0 662.0 1561.0 662.1 1561.1 662.2 1556.7 662.3 1549.5 662.5 1552.6 662.6 1554.9 662.7 1570.1 662.8 1562.6 663.0 1552.3 663.1 1556.0 663.2 1568.2 663.3 1563.6 663.5 1563.2 663.6 1559.1 663.7 1553.2 663.8 1569.8 664.0 1571.0 664.1 1554.8 664.2 1560.2 664.3 1559.7 664.5 1569.5 664.6 1563.0 664.7 1554.7 664.8 1571.0 665.0 1564.6 665.1 1564.9 665.2 1564.7 665.3 1564.9 665.5 1555.0 665.6 1549.6 665.7 1560.8 665.8 1566.0 666.0 1563.9 666.1 1572.1 666.2 1562.0" fill="none" stroke="#3a7408" stroke-width="0.9" stroke-dasharray="1.2 0.4" stroke-linejoin="round"/>
<path d="M98.2 1537.2H666.3" stroke="#6e6e6e" stroke-width="2.7" stroke-dasharray="10 4.75" stroke-dashoffset="-0.6" fill="none"/>
<rect x="98.2" y="1407.2" width="568.1" height="216.6" fill="none" stroke="#000" stroke-width="1.5"/>
<path d="M98.2 1623.8v6.5M179.4 1623.8v6.5M260.5 1623.8v6.5M341.7 1623.8v6.5M422.8 1623.8v6.5M504 1623.8v6.5M585.1 1623.8v6.5M666.3 1623.8v6.5M98.2 1623.8h-6.5M98.2 1569.6h-6.5M98.2 1515.5h-6.5M98.2 1461.3h-6.5M98.2 1407.2h-6.5" stroke="#000" stroke-width="1.5" fill="none"/>
<g font-family='"Liberation Sans", sans-serif' font-size="19.1" fill="#000">
<text x="98.2" y="1650.7" text-anchor="middle" textLength="11.7" lengthAdjust="spacingAndGlyphs">0</text>
<text x="179.4" y="1650.7" text-anchor="middle" textLength="35" lengthAdjust="spacingAndGlyphs">200</text>
<text x="260.5" y="1650.7" text-anchor="middle" textLength="35" lengthAdjust="spacingAndGlyphs">400</text>
<text x="341.7" y="1650.7" text-anchor="middle" textLength="35" lengthAdjust="spacingAndGlyphs">600</text>
<text x="422.8" y="1650.7" text-anchor="middle" textLength="35" lengthAdjust="spacingAndGlyphs">800</text>
<text x="504" y="1650.7" text-anchor="middle" textLength="46.6" lengthAdjust="spacingAndGlyphs">1000</text>
<text x="585.1" y="1650.7" text-anchor="middle" textLength="46.6" lengthAdjust="spacingAndGlyphs">1200</text>
<text x="666.3" y="1650.7" text-anchor="middle" textLength="46.6" lengthAdjust="spacingAndGlyphs">1400</text>
<text x="85.1" y="1630.6" text-anchor="end" textLength="11.7" lengthAdjust="spacingAndGlyphs">0</text>
<text x="85.1" y="1576.5" text-anchor="end" textLength="23.3" lengthAdjust="spacingAndGlyphs">20</text>
<text x="85.1" y="1522.3" text-anchor="end" textLength="23.3" lengthAdjust="spacingAndGlyphs">40</text>
<text x="85.1" y="1468.2" text-anchor="end" textLength="23.3" lengthAdjust="spacingAndGlyphs">60</text>
<text x="85.1" y="1414" text-anchor="end" textLength="23.3" lengthAdjust="spacingAndGlyphs">80</text>
</g>
<text x="382.2" y="1395.8" text-anchor="middle" font-family='"Liberation Sans", sans-serif' font-weight="bold" font-size="31.3" textLength="78.3" lengthAdjust="spacingAndGlyphs">Ss14</text>
<text x="382.2" y="1685.8" text-anchor="middle" font-family='"Liberation Sans", sans-serif' font-size="30.5" textLength="76" lengthAdjust="spacingAndGlyphs">t (ns)</text>
<text transform="translate(46.5 1514.5) rotate(-90)" x="0" y="0" text-anchor="middle" font-family='"Liberation Sans", sans-serif' font-size="30.5" textLength="64" lengthAdjust="spacingAndGlyphs">r (<tspan font-style="italic">Å</tspan>)</text>
<text x="0.0" y="1408.8" font-family='"Liberation Sans", sans-serif' font-weight="bold" font-size="42.6">E</text>
</svg></body></html>
